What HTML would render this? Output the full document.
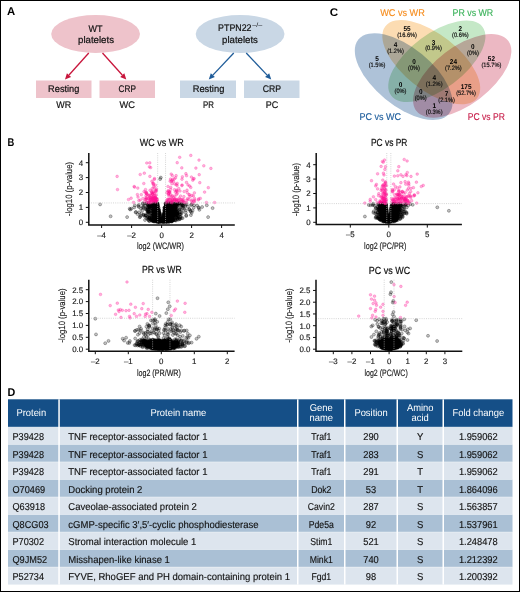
<!DOCTYPE html><html><head><meta charset="utf-8"><style>html,body{margin:0;padding:0;background:#fff;}svg{display:block;will-change:transform;text-rendering:geometricPrecision;} .bk circle{r:1.5px;fill:#000;fill-opacity:.24;stroke:#000;stroke-opacity:.5;stroke-width:.55px} .pk circle{r:1.35px;fill:#ff1493;fill-opacity:.32;stroke:#ff1493;stroke-opacity:.4;stroke-width:.6px} .th{stroke:#bdbdbd;stroke-opacity:.8;stroke-width:.8;stroke-dasharray:1 1.2}</style></head><body><svg width="520" height="592" viewBox="0 0 520 592" font-family='"Liberation Sans", sans-serif'>
<rect x="0" y="0" width="520" height="592" fill="#fff"/>
<ellipse cx="95.6" cy="34" rx="44.4" ry="19" fill="#eec3cb"/>
<ellipse cx="240.1" cy="34" rx="44.4" ry="19" fill="#c9d7e5"/>
<text x="95.5" y="31.5" font-size="9.6" text-anchor="middle" fill="#111" textLength="14" lengthAdjust="spacingAndGlyphs" stroke="#111" stroke-width="0.2">WT</text>
<text x="96" y="43.2" font-size="9.6" text-anchor="middle" fill="#111" textLength="36" lengthAdjust="spacingAndGlyphs" stroke="#111" stroke-width="0.2">platelets</text>
<text x="234.8" y="31.3" font-size="9.6" text-anchor="middle" fill="#111" textLength="33.4" lengthAdjust="spacingAndGlyphs" stroke="#111" stroke-width="0.2">PTPN22</text>
<text x="257.2" y="27.0" font-size="6.2" text-anchor="middle" fill="#111" textLength="10" lengthAdjust="spacingAndGlyphs">–/–</text>
<text x="240" y="43.3" font-size="9.6" text-anchor="middle" fill="#111" textLength="35.8" lengthAdjust="spacingAndGlyphs" stroke="#111" stroke-width="0.2">platelets</text>
<line x1="88.75" y1="53" x2="69.00" y2="75.03" stroke="#c8163c" stroke-width="1.3"/>
<polygon points="65,79.5 66.92,73.16 71.09,76.90" fill="#c8163c"/>
<line x1="102.5" y1="53" x2="122.25" y2="75.03" stroke="#c8163c" stroke-width="1.3"/>
<polygon points="126.25,79.5 120.16,76.90 124.33,73.16" fill="#c8163c"/>
<line x1="233.75" y1="53" x2="212.87" y2="75.14" stroke="#1f5c99" stroke-width="1.3"/>
<polygon points="208.75,79.5 210.83,73.21 214.90,77.06" fill="#1f5c99"/>
<line x1="246.25" y1="53" x2="267.13" y2="75.14" stroke="#1f5c99" stroke-width="1.3"/>
<polygon points="271.25,79.5 265.10,77.06 269.17,73.21" fill="#1f5c99"/>
<rect x="36" y="80.5" width="55.5" height="17.5" fill="#eec3cb"/>
<rect x="99.5" y="80.5" width="55.5" height="17.5" fill="#eec3cb"/>
<rect x="180" y="80.5" width="56" height="17.5" fill="#c9d7e5"/>
<rect x="244" y="80.5" width="55.5" height="17.5" fill="#c9d7e5"/>
<text x="63.75" y="92.4" font-size="9.6" text-anchor="middle" fill="#111" textLength="31.3" lengthAdjust="spacingAndGlyphs" stroke="#111" stroke-width="0.2">Resting</text>
<text x="63.75" y="107.9" font-size="9.6" text-anchor="middle" fill="#111" textLength="14.9" lengthAdjust="spacingAndGlyphs" stroke="#111" stroke-width="0.2">WR</text>
<text x="127.2" y="92.4" font-size="9.6" text-anchor="middle" fill="#111" textLength="17.3" lengthAdjust="spacingAndGlyphs" stroke="#111" stroke-width="0.2">CRP</text>
<text x="127.2" y="107.9" font-size="9.6" text-anchor="middle" fill="#111" textLength="15.4" lengthAdjust="spacingAndGlyphs" stroke="#111" stroke-width="0.2">WC</text>
<text x="208.5" y="92.4" font-size="9.6" text-anchor="middle" fill="#111" textLength="31.7" lengthAdjust="spacingAndGlyphs" stroke="#111" stroke-width="0.2">Resting</text>
<text x="208.5" y="107.9" font-size="9.6" text-anchor="middle" fill="#111" textLength="10.9" lengthAdjust="spacingAndGlyphs" stroke="#111" stroke-width="0.2">PR</text>
<text x="272" y="92.4" font-size="9.6" text-anchor="middle" fill="#111" textLength="18.3" lengthAdjust="spacingAndGlyphs" stroke="#111" stroke-width="0.2">CRP</text>
<text x="272" y="107.9" font-size="9.6" text-anchor="middle" fill="#111" textLength="12.5" lengthAdjust="spacingAndGlyphs" stroke="#111" stroke-width="0.2">PC</text>
<g style="isolation:isolate">
<ellipse cx="0" cy="0" rx="58.54" ry="28.98" transform="translate(403.66,76.6) rotate(39.34)" fill="#aec2d8" style="mix-blend-mode:multiply"/>
<ellipse cx="0" cy="0" rx="57.8" ry="28.68" transform="translate(462.23,75.83) rotate(-37.29)" fill="#ecb8c3" style="mix-blend-mode:multiply"/>
<ellipse cx="0" cy="0" rx="58.3" ry="27.8" transform="translate(431.27,62.2) rotate(38.15)" fill="#fcdcb2" style="mix-blend-mode:multiply"/>
<ellipse cx="0" cy="0" rx="57.2" ry="27.44" transform="translate(436.84,61.26) rotate(-36.92)" fill="#c5e8c7" style="mix-blend-mode:multiply"/>
</g>
<text x="402.5" y="15.6" font-size="9.8" text-anchor="middle" fill="#f68d1e" textLength="44.6" lengthAdjust="spacingAndGlyphs" stroke="#f68d1e" stroke-width="0.15">WC vs WR</text>
<text x="472.9" y="15.6" font-size="9.8" text-anchor="middle" fill="#3db35c" textLength="40.7" lengthAdjust="spacingAndGlyphs" stroke="#3db35c" stroke-width="0.15">PR vs WR</text>
<text x="380.2" y="119.6" font-size="9.8" text-anchor="middle" fill="#22609e" textLength="41.5" lengthAdjust="spacingAndGlyphs" stroke="#22609e" stroke-width="0.15">PC vs WC</text>
<text x="486.3" y="119.8" font-size="9.8" text-anchor="middle" fill="#c81e4a" textLength="37.1" lengthAdjust="spacingAndGlyphs" stroke="#c81e4a" stroke-width="0.15">PC vs PR</text>
<text x="407.1" y="30.8" font-size="7.0" text-anchor="middle" font-weight="bold" fill="#000" textLength="7.16" lengthAdjust="spacingAndGlyphs">55</text>
<text x="407.1" y="36.7" font-size="6.3" text-anchor="middle" fill="#111" textLength="19.85" lengthAdjust="spacingAndGlyphs" stroke="#111" stroke-width="0.18">(16.6%)</text>
<text x="460.4" y="31.1" font-size="7.0" text-anchor="middle" font-weight="bold" fill="#000" textLength="3.58" lengthAdjust="spacingAndGlyphs">2</text>
<text x="460.4" y="37.0" font-size="6.3" text-anchor="middle" fill="#111" textLength="16.7" lengthAdjust="spacingAndGlyphs" stroke="#111" stroke-width="0.18">(0.6%)</text>
<text x="395.5" y="47.2" font-size="7.0" text-anchor="middle" font-weight="bold" fill="#000" textLength="3.58" lengthAdjust="spacingAndGlyphs">4</text>
<text x="395.5" y="53.1" font-size="6.3" text-anchor="middle" fill="#111" textLength="16.7" lengthAdjust="spacingAndGlyphs" stroke="#111" stroke-width="0.18">(1.2%)</text>
<text x="433.5" y="44.5" font-size="7.0" text-anchor="middle" font-weight="bold" fill="#000" textLength="3.58" lengthAdjust="spacingAndGlyphs">3</text>
<text x="433.5" y="50.4" font-size="6.3" text-anchor="middle" fill="#111" textLength="16.7" lengthAdjust="spacingAndGlyphs" stroke="#111" stroke-width="0.18">(0.9%)</text>
<text x="472.9" y="48.6" font-size="7.0" text-anchor="middle" font-weight="bold" fill="#000" textLength="3.58" lengthAdjust="spacingAndGlyphs">0</text>
<text x="472.9" y="54.5" font-size="6.3" text-anchor="middle" fill="#111" textLength="11.97" lengthAdjust="spacingAndGlyphs" stroke="#111" stroke-width="0.18">(0%)</text>
<text x="377" y="60.7" font-size="7.0" text-anchor="middle" font-weight="bold" fill="#000" textLength="3.58" lengthAdjust="spacingAndGlyphs">5</text>
<text x="377" y="66.6" font-size="6.3" text-anchor="middle" fill="#111" textLength="16.7" lengthAdjust="spacingAndGlyphs" stroke="#111" stroke-width="0.18">(1.5%)</text>
<text x="414" y="64.0" font-size="7.0" text-anchor="middle" font-weight="bold" fill="#000" textLength="3.58" lengthAdjust="spacingAndGlyphs">0</text>
<text x="414" y="69.9" font-size="6.3" text-anchor="middle" fill="#111" textLength="11.97" lengthAdjust="spacingAndGlyphs" stroke="#111" stroke-width="0.18">(0%)</text>
<text x="453.4" y="63.7" font-size="7.0" text-anchor="middle" font-weight="bold" fill="#000" textLength="7.16" lengthAdjust="spacingAndGlyphs">24</text>
<text x="453.4" y="69.6" font-size="6.3" text-anchor="middle" fill="#111" textLength="16.7" lengthAdjust="spacingAndGlyphs" stroke="#111" stroke-width="0.18">(7.2%)</text>
<text x="491.4" y="61.4" font-size="7.0" text-anchor="middle" font-weight="bold" fill="#000" textLength="7.16" lengthAdjust="spacingAndGlyphs">52</text>
<text x="491.4" y="67.3" font-size="6.3" text-anchor="middle" fill="#111" textLength="19.85" lengthAdjust="spacingAndGlyphs" stroke="#111" stroke-width="0.18">(15.7%)</text>
<text x="434.2" y="79.9" font-size="7.0" text-anchor="middle" font-weight="bold" fill="#000" textLength="3.58" lengthAdjust="spacingAndGlyphs">4</text>
<text x="434.2" y="85.8" font-size="6.3" text-anchor="middle" fill="#111" textLength="16.7" lengthAdjust="spacingAndGlyphs" stroke="#111" stroke-width="0.18">(1.2%)</text>
<text x="400.5" y="86.6" font-size="7.0" text-anchor="middle" font-weight="bold" fill="#000" textLength="3.58" lengthAdjust="spacingAndGlyphs">0</text>
<text x="400.5" y="92.5" font-size="6.3" text-anchor="middle" fill="#111" textLength="11.97" lengthAdjust="spacingAndGlyphs" stroke="#111" stroke-width="0.18">(0%)</text>
<text x="466.1" y="89.1" font-size="7.0" text-anchor="middle" font-weight="bold" fill="#000" textLength="10.75" lengthAdjust="spacingAndGlyphs">175</text>
<text x="466.1" y="95.0" font-size="6.3" text-anchor="middle" fill="#111" textLength="19.85" lengthAdjust="spacingAndGlyphs" stroke="#111" stroke-width="0.18">(52.7%)</text>
<text x="420.7" y="94.3" font-size="7.0" text-anchor="middle" font-weight="bold" fill="#000" textLength="3.58" lengthAdjust="spacingAndGlyphs">0</text>
<text x="420.7" y="100.2" font-size="6.3" text-anchor="middle" fill="#111" textLength="11.97" lengthAdjust="spacingAndGlyphs" stroke="#111" stroke-width="0.18">(0%)</text>
<text x="446.6" y="95.7" font-size="7.0" text-anchor="middle" font-weight="bold" fill="#000" textLength="3.58" lengthAdjust="spacingAndGlyphs">7</text>
<text x="446.6" y="101.6" font-size="6.3" text-anchor="middle" fill="#111" textLength="16.7" lengthAdjust="spacingAndGlyphs" stroke="#111" stroke-width="0.18">(2.1%)</text>
<text x="434.2" y="107.8" font-size="7.0" text-anchor="middle" font-weight="bold" fill="#000" textLength="3.58" lengthAdjust="spacingAndGlyphs">1</text>
<text x="434.2" y="113.7" font-size="6.3" text-anchor="middle" fill="#111" textLength="16.7" lengthAdjust="spacingAndGlyphs" stroke="#111" stroke-width="0.18">(0.3%)</text>
<g class="bk">
<circle cx="168.4" cy="219.5" r="1.5"/>
<circle cx="155.5" cy="214.1" r="1.5"/>
<circle cx="157.7" cy="211.7" r="1.5"/>
<circle cx="162.9" cy="216.4" r="1.5"/>
<circle cx="172.3" cy="203.3" r="1.5"/>
<circle cx="148.8" cy="211.8" r="1.5"/>
<circle cx="179.1" cy="210.2" r="1.5"/>
<circle cx="147.8" cy="204.5" r="1.5"/>
<circle cx="165.8" cy="213.4" r="1.5"/>
<circle cx="166.5" cy="209.1" r="1.5"/>
<circle cx="156.1" cy="206.8" r="1.5"/>
<circle cx="168.9" cy="205.7" r="1.5"/>
<circle cx="154.1" cy="216.8" r="1.5"/>
<circle cx="156.1" cy="210.9" r="1.5"/>
<circle cx="169.0" cy="204.5" r="1.5"/>
<circle cx="163.2" cy="218.2" r="1.5"/>
<circle cx="155.6" cy="206.3" r="1.5"/>
<circle cx="155.7" cy="214.6" r="1.5"/>
<circle cx="163.7" cy="214.1" r="1.5"/>
<circle cx="159.4" cy="213.9" r="1.5"/>
<circle cx="164.8" cy="218.5" r="1.5"/>
<circle cx="149.8" cy="217.3" r="1.5"/>
<circle cx="165.5" cy="213.5" r="1.5"/>
<circle cx="151.3" cy="208.2" r="1.5"/>
<circle cx="166.7" cy="215.2" r="1.5"/>
<circle cx="171.9" cy="216.8" r="1.5"/>
<circle cx="165.8" cy="211.1" r="1.5"/>
<circle cx="155.9" cy="204.5" r="1.5"/>
<circle cx="173.6" cy="219.7" r="1.5"/>
<circle cx="165.8" cy="216.6" r="1.5"/>
<circle cx="158.7" cy="219.4" r="1.5"/>
<circle cx="156.0" cy="216.6" r="1.5"/>
<circle cx="155.5" cy="214.7" r="1.5"/>
<circle cx="171.3" cy="214.7" r="1.5"/>
<circle cx="166.8" cy="214.6" r="1.5"/>
<circle cx="157.1" cy="203.2" r="1.5"/>
<circle cx="157.6" cy="209.9" r="1.5"/>
<circle cx="175.4" cy="203.5" r="1.5"/>
<circle cx="171.3" cy="213.7" r="1.5"/>
<circle cx="165.7" cy="222.0" r="1.5"/>
<circle cx="185.3" cy="205.9" r="1.5"/>
<circle cx="156.3" cy="210.1" r="1.5"/>
<circle cx="163.0" cy="221.8" r="1.5"/>
<circle cx="169.5" cy="213.1" r="1.5"/>
<circle cx="174.9" cy="211.4" r="1.5"/>
<circle cx="166.1" cy="210.6" r="1.5"/>
<circle cx="148.0" cy="210.6" r="1.5"/>
<circle cx="167.2" cy="217.4" r="1.5"/>
<circle cx="177.0" cy="211.8" r="1.5"/>
<circle cx="158.2" cy="210.5" r="1.5"/>
<circle cx="166.3" cy="209.2" r="1.5"/>
<circle cx="159.4" cy="219.7" r="1.5"/>
<circle cx="165.9" cy="218.6" r="1.5"/>
<circle cx="171.0" cy="203.8" r="1.5"/>
<circle cx="158.9" cy="209.3" r="1.5"/>
<circle cx="158.8" cy="221.9" r="1.5"/>
<circle cx="168.0" cy="220.5" r="1.5"/>
<circle cx="174.8" cy="207.9" r="1.5"/>
<circle cx="164.3" cy="219.3" r="1.5"/>
<circle cx="163.6" cy="220.7" r="1.5"/>
<circle cx="165.5" cy="213.3" r="1.5"/>
<circle cx="158.6" cy="221.9" r="1.5"/>
<circle cx="157.4" cy="220.5" r="1.5"/>
<circle cx="157.9" cy="220.7" r="1.5"/>
<circle cx="145.0" cy="220.0" r="1.5"/>
<circle cx="167.6" cy="220.5" r="1.5"/>
<circle cx="155.5" cy="219.1" r="1.5"/>
<circle cx="167.2" cy="203.6" r="1.5"/>
<circle cx="155.7" cy="215.5" r="1.5"/>
<circle cx="156.3" cy="219.1" r="1.5"/>
<circle cx="168.1" cy="211.5" r="1.5"/>
<circle cx="164.2" cy="211.1" r="1.5"/>
<circle cx="155.8" cy="206.1" r="1.5"/>
<circle cx="168.3" cy="218.2" r="1.5"/>
<circle cx="173.1" cy="209.9" r="1.5"/>
<circle cx="169.1" cy="220.8" r="1.5"/>
<circle cx="170.2" cy="206.7" r="1.5"/>
<circle cx="165.9" cy="206.3" r="1.5"/>
<circle cx="157.3" cy="210.2" r="1.5"/>
<circle cx="174.8" cy="212.7" r="1.5"/>
<circle cx="170.7" cy="211.8" r="1.5"/>
<circle cx="165.7" cy="216.9" r="1.5"/>
<circle cx="168.9" cy="215.0" r="1.5"/>
<circle cx="155.9" cy="221.6" r="1.5"/>
<circle cx="157.8" cy="209.4" r="1.5"/>
<circle cx="169.9" cy="213.8" r="1.5"/>
<circle cx="171.7" cy="211.8" r="1.5"/>
<circle cx="179.1" cy="203.6" r="1.5"/>
<circle cx="152.6" cy="215.4" r="1.5"/>
<circle cx="166.1" cy="214.8" r="1.5"/>
<circle cx="163.1" cy="214.9" r="1.5"/>
<circle cx="157.7" cy="216.5" r="1.5"/>
<circle cx="156.4" cy="217.0" r="1.5"/>
<circle cx="172.9" cy="211.8" r="1.5"/>
<circle cx="178.0" cy="203.4" r="1.5"/>
<circle cx="169.4" cy="221.6" r="1.5"/>
<circle cx="169.9" cy="203.1" r="1.5"/>
<circle cx="153.5" cy="221.3" r="1.5"/>
<circle cx="154.5" cy="214.2" r="1.5"/>
<circle cx="155.5" cy="212.4" r="1.5"/>
<circle cx="164.2" cy="214.2" r="1.5"/>
<circle cx="166.6" cy="209.8" r="1.5"/>
<circle cx="151.6" cy="218.5" r="1.5"/>
<circle cx="163.1" cy="219.6" r="1.5"/>
<circle cx="157.6" cy="219.8" r="1.5"/>
<circle cx="154.0" cy="214.1" r="1.5"/>
<circle cx="154.2" cy="218.0" r="1.5"/>
<circle cx="164.6" cy="219.3" r="1.5"/>
<circle cx="155.6" cy="215.3" r="1.5"/>
<circle cx="159.7" cy="222.3" r="1.5"/>
<circle cx="168.1" cy="214.7" r="1.5"/>
<circle cx="176.7" cy="217.2" r="1.5"/>
<circle cx="149.7" cy="207.5" r="1.5"/>
<circle cx="156.8" cy="206.7" r="1.5"/>
<circle cx="157.4" cy="217.2" r="1.5"/>
<circle cx="166.5" cy="207.2" r="1.5"/>
<circle cx="165.8" cy="216.3" r="1.5"/>
<circle cx="182.7" cy="205.2" r="1.5"/>
<circle cx="172.1" cy="207.2" r="1.5"/>
<circle cx="153.6" cy="219.7" r="1.5"/>
<circle cx="159.8" cy="214.1" r="1.5"/>
<circle cx="166.2" cy="207.8" r="1.5"/>
<circle cx="163.5" cy="217.4" r="1.5"/>
<circle cx="171.5" cy="208.4" r="1.5"/>
<circle cx="167.1" cy="211.9" r="1.5"/>
<circle cx="152.8" cy="214.4" r="1.5"/>
<circle cx="172.2" cy="205.4" r="1.5"/>
<circle cx="168.3" cy="211.9" r="1.5"/>
<circle cx="170.4" cy="212.6" r="1.5"/>
<circle cx="174.8" cy="215.9" r="1.5"/>
<circle cx="156.4" cy="219.8" r="1.5"/>
<circle cx="173.8" cy="203.6" r="1.5"/>
<circle cx="157.8" cy="206.3" r="1.5"/>
<circle cx="148.9" cy="211.2" r="1.5"/>
<circle cx="167.8" cy="207.7" r="1.5"/>
<circle cx="165.4" cy="216.5" r="1.5"/>
<circle cx="153.4" cy="218.2" r="1.5"/>
<circle cx="167.9" cy="220.9" r="1.5"/>
<circle cx="172.4" cy="206.1" r="1.5"/>
<circle cx="169.0" cy="218.3" r="1.5"/>
<circle cx="166.0" cy="212.5" r="1.5"/>
<circle cx="149.5" cy="207.0" r="1.5"/>
<circle cx="164.9" cy="215.2" r="1.5"/>
<circle cx="155.7" cy="210.1" r="1.5"/>
<circle cx="149.4" cy="206.2" r="1.5"/>
<circle cx="169.5" cy="218.8" r="1.5"/>
<circle cx="155.9" cy="208.9" r="1.5"/>
<circle cx="170.3" cy="214.9" r="1.5"/>
<circle cx="151.6" cy="219.1" r="1.5"/>
<circle cx="172.0" cy="209.7" r="1.5"/>
<circle cx="168.7" cy="204.8" r="1.5"/>
<circle cx="161.4" cy="221.6" r="1.5"/>
<circle cx="165.8" cy="205.7" r="1.5"/>
<circle cx="155.6" cy="218.4" r="1.5"/>
<circle cx="167.5" cy="206.1" r="1.5"/>
<circle cx="168.0" cy="212.0" r="1.5"/>
<circle cx="168.6" cy="206.5" r="1.5"/>
<circle cx="165.3" cy="211.1" r="1.5"/>
<circle cx="165.5" cy="212.1" r="1.5"/>
<circle cx="173.4" cy="217.8" r="1.5"/>
<circle cx="157.9" cy="218.4" r="1.5"/>
<circle cx="157.6" cy="204.2" r="1.5"/>
<circle cx="164.9" cy="207.3" r="1.5"/>
<circle cx="165.5" cy="203.8" r="1.5"/>
<circle cx="167.8" cy="215.4" r="1.5"/>
<circle cx="176.6" cy="209.9" r="1.5"/>
<circle cx="155.7" cy="216.8" r="1.5"/>
<circle cx="166.0" cy="208.6" r="1.5"/>
<circle cx="165.5" cy="215.7" r="1.5"/>
<circle cx="154.4" cy="220.7" r="1.5"/>
<circle cx="169.7" cy="221.6" r="1.5"/>
<circle cx="167.6" cy="205.5" r="1.5"/>
<circle cx="166.2" cy="206.9" r="1.5"/>
<circle cx="190.9" cy="215.1" r="1.5"/>
<circle cx="164.0" cy="219.0" r="1.5"/>
<circle cx="180.6" cy="205.5" r="1.5"/>
<circle cx="175.5" cy="205.6" r="1.5"/>
<circle cx="166.3" cy="207.7" r="1.5"/>
<circle cx="155.2" cy="206.3" r="1.5"/>
<circle cx="154.6" cy="215.7" r="1.5"/>
<circle cx="166.7" cy="220.2" r="1.5"/>
<circle cx="169.2" cy="210.3" r="1.5"/>
<circle cx="157.6" cy="205.4" r="1.5"/>
<circle cx="166.8" cy="204.4" r="1.5"/>
<circle cx="169.5" cy="217.7" r="1.5"/>
<circle cx="171.4" cy="204.4" r="1.5"/>
<circle cx="156.5" cy="214.8" r="1.5"/>
<circle cx="154.8" cy="215.6" r="1.5"/>
<circle cx="169.3" cy="206.7" r="1.5"/>
<circle cx="179.8" cy="214.1" r="1.5"/>
<circle cx="159.8" cy="220.2" r="1.5"/>
<circle cx="156.6" cy="221.1" r="1.5"/>
<circle cx="151.2" cy="206.1" r="1.5"/>
<circle cx="174.7" cy="210.9" r="1.5"/>
<circle cx="152.5" cy="212.9" r="1.5"/>
<circle cx="171.3" cy="207.9" r="1.5"/>
<circle cx="183.1" cy="208.1" r="1.5"/>
<circle cx="164.4" cy="219.7" r="1.5"/>
<circle cx="158.0" cy="218.1" r="1.5"/>
<circle cx="164.7" cy="218.8" r="1.5"/>
<circle cx="164.2" cy="220.2" r="1.5"/>
<circle cx="165.9" cy="205.8" r="1.5"/>
<circle cx="169.5" cy="209.7" r="1.5"/>
<circle cx="171.8" cy="215.2" r="1.5"/>
<circle cx="167.8" cy="221.4" r="1.5"/>
<circle cx="171.1" cy="215.9" r="1.5"/>
<circle cx="179.5" cy="209.0" r="1.5"/>
<circle cx="168.8" cy="205.6" r="1.5"/>
<circle cx="174.4" cy="211.1" r="1.5"/>
<circle cx="158.4" cy="213.2" r="1.5"/>
<circle cx="158.9" cy="218.2" r="1.5"/>
<circle cx="158.1" cy="209.5" r="1.5"/>
<circle cx="152.8" cy="204.2" r="1.5"/>
<circle cx="156.0" cy="209.1" r="1.5"/>
<circle cx="172.8" cy="214.4" r="1.5"/>
<circle cx="172.1" cy="218.5" r="1.5"/>
<circle cx="180.0" cy="212.2" r="1.5"/>
<circle cx="159.2" cy="220.0" r="1.5"/>
<circle cx="167.6" cy="213.0" r="1.5"/>
<circle cx="166.5" cy="221.2" r="1.5"/>
<circle cx="170.7" cy="210.4" r="1.5"/>
<circle cx="174.7" cy="219.8" r="1.5"/>
<circle cx="173.0" cy="210.8" r="1.5"/>
<circle cx="153.5" cy="205.1" r="1.5"/>
<circle cx="153.4" cy="209.4" r="1.5"/>
<circle cx="152.8" cy="210.7" r="1.5"/>
<circle cx="156.7" cy="212.3" r="1.5"/>
<circle cx="174.0" cy="209.9" r="1.5"/>
<circle cx="167.6" cy="218.1" r="1.5"/>
<circle cx="156.2" cy="203.9" r="1.5"/>
<circle cx="169.2" cy="204.5" r="1.5"/>
<circle cx="179.0" cy="203.2" r="1.5"/>
<circle cx="158.3" cy="221.1" r="1.5"/>
<circle cx="155.5" cy="213.7" r="1.5"/>
<circle cx="166.3" cy="216.4" r="1.5"/>
<circle cx="171.4" cy="217.4" r="1.5"/>
<circle cx="159.9" cy="216.7" r="1.5"/>
<circle cx="166.8" cy="215.3" r="1.5"/>
<circle cx="168.8" cy="211.3" r="1.5"/>
<circle cx="156.5" cy="203.6" r="1.5"/>
<circle cx="159.8" cy="213.3" r="1.5"/>
<circle cx="163.6" cy="217.8" r="1.5"/>
<circle cx="146.8" cy="209.2" r="1.5"/>
<circle cx="159.2" cy="214.5" r="1.5"/>
<circle cx="164.4" cy="210.3" r="1.5"/>
<circle cx="168.5" cy="207.7" r="1.5"/>
<circle cx="182.8" cy="205.9" r="1.5"/>
<circle cx="171.8" cy="205.0" r="1.5"/>
<circle cx="169.0" cy="216.2" r="1.5"/>
<circle cx="177.5" cy="212.9" r="1.5"/>
<circle cx="154.5" cy="203.3" r="1.5"/>
<circle cx="157.2" cy="214.2" r="1.5"/>
<circle cx="169.1" cy="203.8" r="1.5"/>
<circle cx="157.7" cy="206.2" r="1.5"/>
<circle cx="159.9" cy="218.7" r="1.5"/>
<circle cx="173.2" cy="218.5" r="1.5"/>
<circle cx="158.6" cy="209.6" r="1.5"/>
<circle cx="160.9" cy="220.0" r="1.5"/>
<circle cx="165.9" cy="217.8" r="1.5"/>
<circle cx="155.2" cy="218.3" r="1.5"/>
<circle cx="169.8" cy="206.8" r="1.5"/>
<circle cx="156.1" cy="213.0" r="1.5"/>
<circle cx="169.0" cy="205.2" r="1.5"/>
<circle cx="151.4" cy="209.0" r="1.5"/>
<circle cx="160.3" cy="217.9" r="1.5"/>
<circle cx="158.1" cy="217.8" r="1.5"/>
<circle cx="158.4" cy="215.1" r="1.5"/>
<circle cx="166.9" cy="209.0" r="1.5"/>
<circle cx="150.9" cy="210.6" r="1.5"/>
<circle cx="149.5" cy="204.4" r="1.5"/>
<circle cx="155.9" cy="207.5" r="1.5"/>
<circle cx="159.9" cy="217.2" r="1.5"/>
<circle cx="167.7" cy="218.4" r="1.5"/>
<circle cx="174.1" cy="214.2" r="1.5"/>
<circle cx="155.8" cy="214.4" r="1.5"/>
<circle cx="147.7" cy="218.2" r="1.5"/>
<circle cx="152.8" cy="205.1" r="1.5"/>
<circle cx="158.6" cy="207.6" r="1.5"/>
<circle cx="157.9" cy="214.2" r="1.5"/>
<circle cx="155.5" cy="219.6" r="1.5"/>
<circle cx="164.5" cy="215.0" r="1.5"/>
<circle cx="162.3" cy="221.3" r="1.5"/>
<circle cx="168.7" cy="221.9" r="1.5"/>
<circle cx="163.0" cy="221.0" r="1.5"/>
<circle cx="157.0" cy="205.3" r="1.5"/>
<circle cx="150.0" cy="215.8" r="1.5"/>
<circle cx="176.2" cy="208.7" r="1.5"/>
<circle cx="167.9" cy="210.4" r="1.5"/>
<circle cx="168.1" cy="211.1" r="1.5"/>
<circle cx="172.0" cy="205.8" r="1.5"/>
<circle cx="175.3" cy="205.8" r="1.5"/>
<circle cx="158.4" cy="213.9" r="1.5"/>
<circle cx="168.6" cy="207.4" r="1.5"/>
<circle cx="149.2" cy="217.7" r="1.5"/>
<circle cx="157.7" cy="222.0" r="1.5"/>
<circle cx="157.2" cy="217.9" r="1.5"/>
<circle cx="171.7" cy="215.7" r="1.5"/>
<circle cx="154.5" cy="204.9" r="1.5"/>
<circle cx="158.2" cy="221.9" r="1.5"/>
<circle cx="158.5" cy="211.8" r="1.5"/>
<circle cx="153.5" cy="209.8" r="1.5"/>
<circle cx="149.0" cy="220.9" r="1.5"/>
<circle cx="163.7" cy="219.4" r="1.5"/>
<circle cx="173.7" cy="215.9" r="1.5"/>
<circle cx="166.0" cy="209.0" r="1.5"/>
<circle cx="145.4" cy="208.7" r="1.5"/>
<circle cx="159.2" cy="213.2" r="1.5"/>
<circle cx="167.7" cy="216.2" r="1.5"/>
<circle cx="150.5" cy="219.1" r="1.5"/>
<circle cx="157.2" cy="221.9" r="1.5"/>
<circle cx="162.2" cy="221.8" r="1.5"/>
<circle cx="163.0" cy="215.8" r="1.5"/>
<circle cx="166.6" cy="216.1" r="1.5"/>
<circle cx="171.8" cy="207.8" r="1.5"/>
<circle cx="159.2" cy="219.2" r="1.5"/>
<circle cx="167.3" cy="215.4" r="1.5"/>
<circle cx="156.5" cy="205.2" r="1.5"/>
<circle cx="154.1" cy="203.0" r="1.5"/>
<circle cx="170.8" cy="207.7" r="1.5"/>
<circle cx="174.9" cy="205.0" r="1.5"/>
<circle cx="167.5" cy="219.4" r="1.5"/>
<circle cx="170.4" cy="218.1" r="1.5"/>
<circle cx="173.6" cy="203.7" r="1.5"/>
<circle cx="156.5" cy="205.4" r="1.5"/>
<circle cx="168.1" cy="219.0" r="1.5"/>
<circle cx="168.3" cy="211.0" r="1.5"/>
<circle cx="166.6" cy="211.6" r="1.5"/>
<circle cx="164.2" cy="218.0" r="1.5"/>
<circle cx="151.9" cy="205.4" r="1.5"/>
<circle cx="171.9" cy="211.6" r="1.5"/>
<circle cx="159.5" cy="219.1" r="1.5"/>
<circle cx="158.4" cy="217.9" r="1.5"/>
<circle cx="172.0" cy="220.0" r="1.5"/>
<circle cx="169.8" cy="203.5" r="1.5"/>
<circle cx="158.2" cy="207.5" r="1.5"/>
<circle cx="167.7" cy="210.7" r="1.5"/>
<circle cx="158.5" cy="220.7" r="1.5"/>
<circle cx="165.1" cy="212.4" r="1.5"/>
<circle cx="171.6" cy="220.3" r="1.5"/>
<circle cx="165.9" cy="220.6" r="1.5"/>
<circle cx="171.2" cy="220.7" r="1.5"/>
<circle cx="165.9" cy="211.4" r="1.5"/>
<circle cx="167.1" cy="208.0" r="1.5"/>
<circle cx="156.7" cy="207.4" r="1.5"/>
<circle cx="168.8" cy="205.3" r="1.5"/>
<circle cx="173.1" cy="212.9" r="1.5"/>
<circle cx="152.6" cy="221.0" r="1.5"/>
<circle cx="153.9" cy="215.7" r="1.5"/>
<circle cx="156.4" cy="208.6" r="1.5"/>
<circle cx="169.6" cy="212.6" r="1.5"/>
<circle cx="174.1" cy="212.0" r="1.5"/>
<circle cx="156.9" cy="209.6" r="1.5"/>
<circle cx="183.5" cy="205.8" r="1.5"/>
<circle cx="172.2" cy="221.2" r="1.5"/>
<circle cx="187.9" cy="206.8" r="1.5"/>
<circle cx="172.3" cy="217.6" r="1.5"/>
<circle cx="163.8" cy="221.6" r="1.5"/>
<circle cx="165.1" cy="215.9" r="1.5"/>
<circle cx="157.6" cy="205.3" r="1.5"/>
<circle cx="166.0" cy="220.4" r="1.5"/>
<circle cx="167.8" cy="206.1" r="1.5"/>
<circle cx="172.6" cy="219.7" r="1.5"/>
<circle cx="154.1" cy="209.8" r="1.5"/>
<circle cx="176.4" cy="217.3" r="1.5"/>
<circle cx="157.2" cy="218.6" r="1.5"/>
<circle cx="153.6" cy="220.3" r="1.5"/>
<circle cx="158.0" cy="213.1" r="1.5"/>
<circle cx="156.8" cy="217.5" r="1.5"/>
<circle cx="179.5" cy="209.2" r="1.5"/>
<circle cx="155.9" cy="204.7" r="1.5"/>
<circle cx="159.9" cy="220.0" r="1.5"/>
<circle cx="155.9" cy="205.3" r="1.5"/>
<circle cx="175.0" cy="208.4" r="1.5"/>
<circle cx="161.9" cy="221.4" r="1.5"/>
<circle cx="151.1" cy="213.5" r="1.5"/>
<circle cx="163.5" cy="219.9" r="1.5"/>
<circle cx="167.8" cy="204.7" r="1.5"/>
<circle cx="168.4" cy="221.3" r="1.5"/>
<circle cx="152.1" cy="210.9" r="1.5"/>
<circle cx="155.9" cy="219.1" r="1.5"/>
<circle cx="155.6" cy="211.9" r="1.5"/>
<circle cx="172.1" cy="220.7" r="1.5"/>
<circle cx="172.7" cy="210.7" r="1.5"/>
<circle cx="159.9" cy="215.6" r="1.5"/>
<circle cx="153.5" cy="212.4" r="1.5"/>
<circle cx="167.5" cy="209.0" r="1.5"/>
<circle cx="165.0" cy="209.2" r="1.5"/>
<circle cx="174.3" cy="204.2" r="1.5"/>
<circle cx="153.6" cy="216.8" r="1.5"/>
<circle cx="154.0" cy="214.5" r="1.5"/>
<circle cx="167.0" cy="208.3" r="1.5"/>
<circle cx="172.4" cy="204.4" r="1.5"/>
<circle cx="156.7" cy="209.1" r="1.5"/>
<circle cx="172.7" cy="215.8" r="1.5"/>
<circle cx="166.0" cy="219.0" r="1.5"/>
<circle cx="158.0" cy="220.0" r="1.5"/>
<circle cx="163.7" cy="213.6" r="1.5"/>
<circle cx="173.3" cy="219.4" r="1.5"/>
<circle cx="170.6" cy="218.1" r="1.5"/>
<circle cx="173.1" cy="205.1" r="1.5"/>
<circle cx="165.7" cy="221.3" r="1.5"/>
<circle cx="171.9" cy="213.4" r="1.5"/>
<circle cx="172.7" cy="206.0" r="1.5"/>
<circle cx="156.8" cy="210.1" r="1.5"/>
<circle cx="159.3" cy="214.2" r="1.5"/>
<circle cx="164.6" cy="212.4" r="1.5"/>
<circle cx="181.8" cy="205.2" r="1.5"/>
<circle cx="158.4" cy="216.1" r="1.5"/>
<circle cx="147.2" cy="204.5" r="1.5"/>
<circle cx="153.2" cy="206.6" r="1.5"/>
<circle cx="166.1" cy="216.0" r="1.5"/>
<circle cx="171.5" cy="220.8" r="1.5"/>
<circle cx="164.6" cy="207.3" r="1.5"/>
<circle cx="171.2" cy="209.0" r="1.5"/>
<circle cx="158.6" cy="213.9" r="1.5"/>
<circle cx="170.0" cy="216.5" r="1.5"/>
<circle cx="152.4" cy="215.9" r="1.5"/>
<circle cx="175.4" cy="211.8" r="1.5"/>
<circle cx="172.1" cy="213.4" r="1.5"/>
<circle cx="165.4" cy="221.8" r="1.5"/>
<circle cx="164.7" cy="217.1" r="1.5"/>
<circle cx="170.8" cy="216.1" r="1.5"/>
<circle cx="165.1" cy="219.2" r="1.5"/>
<circle cx="154.7" cy="221.6" r="1.5"/>
<circle cx="166.3" cy="217.7" r="1.5"/>
<circle cx="148.1" cy="212.7" r="1.5"/>
<circle cx="170.1" cy="210.6" r="1.5"/>
<circle cx="164.9" cy="212.8" r="1.5"/>
<circle cx="154.9" cy="209.0" r="1.5"/>
<circle cx="178.7" cy="203.3" r="1.5"/>
<circle cx="175.4" cy="210.5" r="1.5"/>
<circle cx="155.2" cy="206.4" r="1.5"/>
<circle cx="149.0" cy="207.1" r="1.5"/>
<circle cx="177.2" cy="215.0" r="1.5"/>
<circle cx="171.9" cy="203.6" r="1.5"/>
<circle cx="157.0" cy="211.2" r="1.5"/>
<circle cx="157.5" cy="219.8" r="1.5"/>
<circle cx="157.3" cy="219.6" r="1.5"/>
<circle cx="172.2" cy="211.5" r="1.5"/>
<circle cx="170.8" cy="213.9" r="1.5"/>
<circle cx="171.5" cy="221.5" r="1.5"/>
<circle cx="156.3" cy="218.8" r="1.5"/>
<circle cx="149.2" cy="206.6" r="1.5"/>
<circle cx="167.6" cy="214.6" r="1.5"/>
<circle cx="161.3" cy="221.5" r="1.5"/>
<circle cx="167.7" cy="203.8" r="1.5"/>
<circle cx="170.8" cy="212.9" r="1.5"/>
<circle cx="155.7" cy="214.1" r="1.5"/>
<circle cx="147.4" cy="212.4" r="1.5"/>
<circle cx="172.6" cy="209.7" r="1.5"/>
<circle cx="173.9" cy="212.6" r="1.5"/>
<circle cx="171.6" cy="203.1" r="1.5"/>
<circle cx="152.0" cy="215.9" r="1.5"/>
<circle cx="173.0" cy="206.9" r="1.5"/>
<circle cx="157.7" cy="221.8" r="1.5"/>
<circle cx="158.2" cy="216.6" r="1.5"/>
<circle cx="166.4" cy="203.5" r="1.5"/>
<circle cx="167.7" cy="221.5" r="1.5"/>
<circle cx="154.3" cy="204.1" r="1.5"/>
<circle cx="179.0" cy="217.5" r="1.5"/>
<circle cx="172.7" cy="215.4" r="1.5"/>
<circle cx="166.1" cy="208.2" r="1.5"/>
<circle cx="156.0" cy="206.8" r="1.5"/>
<circle cx="171.0" cy="215.4" r="1.5"/>
<circle cx="151.8" cy="220.7" r="1.5"/>
<circle cx="159.4" cy="212.9" r="1.5"/>
<circle cx="171.7" cy="218.8" r="1.5"/>
<circle cx="149.1" cy="211.7" r="1.5"/>
<circle cx="159.6" cy="212.8" r="1.5"/>
<circle cx="167.4" cy="215.3" r="1.5"/>
<circle cx="167.7" cy="214.7" r="1.5"/>
<circle cx="172.0" cy="214.7" r="1.5"/>
<circle cx="170.3" cy="204.0" r="1.5"/>
<circle cx="167.4" cy="215.0" r="1.5"/>
<circle cx="155.6" cy="204.5" r="1.5"/>
<circle cx="167.0" cy="205.9" r="1.5"/>
<circle cx="153.1" cy="210.3" r="1.5"/>
<circle cx="155.4" cy="212.8" r="1.5"/>
<circle cx="166.6" cy="219.0" r="1.5"/>
<circle cx="163.2" cy="216.9" r="1.5"/>
<circle cx="156.2" cy="210.1" r="1.5"/>
<circle cx="162.8" cy="220.9" r="1.5"/>
<circle cx="154.6" cy="217.6" r="1.5"/>
<circle cx="154.5" cy="206.6" r="1.5"/>
<circle cx="154.8" cy="219.7" r="1.5"/>
<circle cx="169.1" cy="210.6" r="1.5"/>
<circle cx="167.3" cy="207.1" r="1.5"/>
<circle cx="166.1" cy="221.8" r="1.5"/>
<circle cx="175.2" cy="211.1" r="1.5"/>
<circle cx="166.5" cy="203.5" r="1.5"/>
<circle cx="172.7" cy="216.1" r="1.5"/>
<circle cx="152.1" cy="213.2" r="1.5"/>
<circle cx="152.9" cy="220.8" r="1.5"/>
<circle cx="172.8" cy="212.5" r="1.5"/>
<circle cx="166.0" cy="205.1" r="1.5"/>
<circle cx="160.2" cy="215.5" r="1.5"/>
<circle cx="162.8" cy="220.2" r="1.5"/>
<circle cx="166.7" cy="207.3" r="1.5"/>
<circle cx="163.4" cy="219.0" r="1.5"/>
<circle cx="155.9" cy="216.6" r="1.5"/>
<circle cx="153.1" cy="211.7" r="1.5"/>
<circle cx="163.2" cy="215.0" r="1.5"/>
<circle cx="153.3" cy="204.6" r="1.5"/>
<circle cx="155.1" cy="212.3" r="1.5"/>
<circle cx="157.5" cy="217.2" r="1.5"/>
<circle cx="164.9" cy="210.1" r="1.5"/>
<circle cx="156.2" cy="203.4" r="1.5"/>
<circle cx="163.0" cy="219.0" r="1.5"/>
<circle cx="171.9" cy="204.0" r="1.5"/>
<circle cx="176.7" cy="213.3" r="1.5"/>
<circle cx="177.0" cy="206.0" r="1.5"/>
<circle cx="165.5" cy="218.2" r="1.5"/>
<circle cx="168.7" cy="208.7" r="1.5"/>
<circle cx="163.6" cy="221.0" r="1.5"/>
<circle cx="166.5" cy="208.6" r="1.5"/>
<circle cx="159.4" cy="218.8" r="1.5"/>
<circle cx="164.2" cy="212.8" r="1.5"/>
<circle cx="171.9" cy="221.4" r="1.5"/>
<circle cx="166.2" cy="217.4" r="1.5"/>
<circle cx="154.2" cy="211.7" r="1.5"/>
<circle cx="148.9" cy="211.6" r="1.5"/>
<circle cx="163.6" cy="222.2" r="1.5"/>
<circle cx="166.3" cy="221.4" r="1.5"/>
<circle cx="169.8" cy="205.7" r="1.5"/>
<circle cx="177.9" cy="216.2" r="1.5"/>
<circle cx="172.9" cy="209.5" r="1.5"/>
<circle cx="166.4" cy="217.1" r="1.5"/>
<circle cx="170.5" cy="212.7" r="1.5"/>
<circle cx="154.5" cy="207.7" r="1.5"/>
<circle cx="156.5" cy="211.6" r="1.5"/>
<circle cx="148.0" cy="211.9" r="1.5"/>
<circle cx="152.8" cy="220.5" r="1.5"/>
<circle cx="156.4" cy="220.9" r="1.5"/>
<circle cx="177.6" cy="218.8" r="1.5"/>
<circle cx="157.9" cy="220.1" r="1.5"/>
<circle cx="153.5" cy="208.1" r="1.5"/>
<circle cx="162.7" cy="219.5" r="1.5"/>
<circle cx="169.8" cy="221.2" r="1.5"/>
<circle cx="160.6" cy="218.5" r="1.5"/>
<circle cx="168.8" cy="207.2" r="1.5"/>
<circle cx="150.2" cy="206.7" r="1.5"/>
<circle cx="170.2" cy="204.7" r="1.5"/>
<circle cx="156.5" cy="208.8" r="1.5"/>
<circle cx="167.6" cy="211.4" r="1.5"/>
<circle cx="163.1" cy="221.8" r="1.5"/>
<circle cx="160.5" cy="221.3" r="1.5"/>
<circle cx="168.1" cy="211.8" r="1.5"/>
<circle cx="156.4" cy="206.4" r="1.5"/>
<circle cx="154.7" cy="203.5" r="1.5"/>
<circle cx="165.2" cy="212.5" r="1.5"/>
<circle cx="155.9" cy="214.6" r="1.5"/>
<circle cx="149.1" cy="211.5" r="1.5"/>
<circle cx="156.9" cy="208.0" r="1.5"/>
<circle cx="160.4" cy="218.0" r="1.5"/>
<circle cx="164.6" cy="220.0" r="1.5"/>
<circle cx="177.1" cy="214.8" r="1.5"/>
<circle cx="169.4" cy="209.6" r="1.5"/>
<circle cx="166.4" cy="206.8" r="1.5"/>
<circle cx="153.9" cy="213.2" r="1.5"/>
<circle cx="168.2" cy="205.6" r="1.5"/>
<circle cx="148.6" cy="205.8" r="1.5"/>
<circle cx="163.9" cy="220.3" r="1.5"/>
<circle cx="184.3" cy="208.9" r="1.5"/>
<circle cx="149.3" cy="218.2" r="1.5"/>
<circle cx="175.2" cy="208.7" r="1.5"/>
<circle cx="154.9" cy="203.8" r="1.5"/>
<circle cx="159.2" cy="211.2" r="1.5"/>
<circle cx="154.4" cy="203.1" r="1.5"/>
<circle cx="145.0" cy="203.6" r="1.5"/>
<circle cx="161.2" cy="220.4" r="1.5"/>
<circle cx="164.6" cy="207.7" r="1.5"/>
<circle cx="169.2" cy="203.4" r="1.5"/>
<circle cx="154.1" cy="204.0" r="1.5"/>
<circle cx="169.2" cy="215.1" r="1.5"/>
<circle cx="155.2" cy="212.5" r="1.5"/>
<circle cx="169.1" cy="217.8" r="1.5"/>
<circle cx="166.4" cy="222.0" r="1.5"/>
<circle cx="157.1" cy="214.9" r="1.5"/>
<circle cx="164.3" cy="222.1" r="1.5"/>
<circle cx="176.6" cy="213.3" r="1.5"/>
<circle cx="164.9" cy="217.0" r="1.5"/>
<circle cx="171.1" cy="215.2" r="1.5"/>
<circle cx="178.0" cy="205.3" r="1.5"/>
<circle cx="155.5" cy="210.6" r="1.5"/>
<circle cx="151.4" cy="206.7" r="1.5"/>
<circle cx="168.2" cy="213.3" r="1.5"/>
<circle cx="157.3" cy="214.6" r="1.5"/>
<circle cx="170.9" cy="213.8" r="1.5"/>
<circle cx="167.7" cy="217.2" r="1.5"/>
<circle cx="169.2" cy="220.6" r="1.5"/>
<circle cx="168.5" cy="206.1" r="1.5"/>
<circle cx="175.6" cy="208.1" r="1.5"/>
<circle cx="164.5" cy="216.0" r="1.5"/>
<circle cx="161.1" cy="220.9" r="1.5"/>
<circle cx="164.6" cy="211.6" r="1.5"/>
<circle cx="163.5" cy="217.6" r="1.5"/>
<circle cx="165.9" cy="203.2" r="1.5"/>
<circle cx="159.3" cy="214.8" r="1.5"/>
<circle cx="169.7" cy="208.8" r="1.5"/>
<circle cx="167.7" cy="221.8" r="1.5"/>
<circle cx="145.7" cy="215.3" r="1.5"/>
<circle cx="180.2" cy="217.2" r="1.5"/>
<circle cx="164.5" cy="213.2" r="1.5"/>
<circle cx="193.7" cy="207.7" r="1.5"/>
<circle cx="173.2" cy="216.6" r="1.5"/>
<circle cx="138.9" cy="204.9" r="1.5"/>
<circle cx="157.5" cy="207.2" r="1.5"/>
<circle cx="191.7" cy="212.8" r="1.5"/>
<circle cx="185.7" cy="210.3" r="1.5"/>
<circle cx="149.7" cy="221.0" r="1.5"/>
<circle cx="176.4" cy="204.3" r="1.5"/>
<circle cx="174.8" cy="210.3" r="1.5"/>
<circle cx="172.5" cy="214.9" r="1.5"/>
<circle cx="156.7" cy="211.3" r="1.5"/>
<circle cx="146.2" cy="215.4" r="1.5"/>
<circle cx="170.4" cy="209.9" r="1.5"/>
<circle cx="181.5" cy="204.0" r="1.5"/>
<circle cx="167.7" cy="204.9" r="1.5"/>
<circle cx="177.6" cy="217.6" r="1.5"/>
<circle cx="154.9" cy="220.2" r="1.5"/>
<circle cx="173.0" cy="216.0" r="1.5"/>
<circle cx="147.3" cy="207.5" r="1.5"/>
<circle cx="157.2" cy="220.6" r="1.5"/>
<circle cx="154.9" cy="220.9" r="1.5"/>
<circle cx="167.7" cy="216.1" r="1.5"/>
<circle cx="144.1" cy="215.9" r="1.5"/>
<circle cx="174.5" cy="212.6" r="1.5"/>
<circle cx="177.5" cy="213.2" r="1.5"/>
<circle cx="155.9" cy="215.5" r="1.5"/>
<circle cx="176.9" cy="211.2" r="1.5"/>
<circle cx="165.2" cy="212.1" r="1.5"/>
<circle cx="160.3" cy="221.9" r="1.5"/>
<circle cx="170.0" cy="214.6" r="1.5"/>
<circle cx="164.7" cy="219.3" r="1.5"/>
<circle cx="165.9" cy="204.5" r="1.5"/>
<circle cx="177.3" cy="206.5" r="1.5"/>
<circle cx="152.8" cy="204.9" r="1.5"/>
<circle cx="149.5" cy="203.2" r="1.5"/>
<circle cx="199.4" cy="209.8" r="1.5"/>
<circle cx="176.5" cy="204.2" r="1.5"/>
<circle cx="178.1" cy="204.0" r="1.5"/>
<circle cx="182.7" cy="207.8" r="1.5"/>
<circle cx="176.7" cy="214.5" r="1.5"/>
<circle cx="165.9" cy="212.8" r="1.5"/>
<circle cx="169.7" cy="205.7" r="1.5"/>
<circle cx="164.5" cy="207.9" r="1.5"/>
<circle cx="151.2" cy="218.4" r="1.5"/>
<circle cx="177.0" cy="211.5" r="1.5"/>
<circle cx="145.1" cy="205.6" r="1.5"/>
<circle cx="181.6" cy="218.1" r="1.5"/>
<circle cx="162.6" cy="218.9" r="1.5"/>
<circle cx="141.0" cy="208.7" r="1.5"/>
<circle cx="154.7" cy="220.5" r="1.5"/>
<circle cx="163.5" cy="215.8" r="1.5"/>
<circle cx="156.2" cy="220.9" r="1.5"/>
<circle cx="158.6" cy="214.4" r="1.5"/>
<circle cx="162.8" cy="221.2" r="1.5"/>
<circle cx="166.2" cy="208.1" r="1.5"/>
<circle cx="129.7" cy="208.7" r="1.5"/>
<circle cx="202.1" cy="207.0" r="1.5"/>
<circle cx="157.6" cy="208.2" r="1.5"/>
<circle cx="171.7" cy="220.8" r="1.5"/>
<circle cx="157.0" cy="211.9" r="1.5"/>
<circle cx="140.5" cy="215.4" r="1.5"/>
<circle cx="161.2" cy="221.3" r="1.5"/>
<circle cx="143.5" cy="214.5" r="1.5"/>
<circle cx="176.2" cy="207.2" r="1.5"/>
<circle cx="177.4" cy="217.5" r="1.5"/>
<circle cx="181.8" cy="211.6" r="1.5"/>
<circle cx="139.1" cy="212.3" r="1.5"/>
<circle cx="175.4" cy="213.5" r="1.5"/>
<circle cx="172.2" cy="215.2" r="1.5"/>
<circle cx="149.8" cy="217.2" r="1.5"/>
<circle cx="185.7" cy="212.5" r="1.5"/>
<circle cx="148.6" cy="219.9" r="1.5"/>
<circle cx="153.6" cy="219.5" r="1.5"/>
<circle cx="172.0" cy="214.0" r="1.5"/>
<circle cx="143.4" cy="207.7" r="1.5"/>
<circle cx="168.2" cy="210.2" r="1.5"/>
<circle cx="146.9" cy="203.0" r="1.5"/>
<circle cx="155.7" cy="213.3" r="1.5"/>
<circle cx="180.2" cy="209.5" r="1.5"/>
<circle cx="138.9" cy="207.0" r="1.5"/>
<circle cx="177.5" cy="218.9" r="1.5"/>
<circle cx="153.7" cy="212.7" r="1.5"/>
<circle cx="191.0" cy="205.0" r="1.5"/>
<circle cx="170.8" cy="213.2" r="1.5"/>
<circle cx="154.3" cy="211.2" r="1.5"/>
<circle cx="176.6" cy="216.3" r="1.5"/>
<circle cx="154.7" cy="203.2" r="1.5"/>
<circle cx="166.4" cy="210.0" r="1.5"/>
<circle cx="154.1" cy="209.0" r="1.5"/>
<circle cx="178.8" cy="213.4" r="1.5"/>
<circle cx="130.2" cy="209.5" r="1.5"/>
<circle cx="135.6" cy="212.3" r="1.5"/>
<circle cx="176.2" cy="214.1" r="1.5"/>
<circle cx="168.4" cy="206.6" r="1.5"/>
<circle cx="156.9" cy="210.2" r="1.5"/>
<circle cx="170.7" cy="220.6" r="1.5"/>
<circle cx="159.1" cy="212.2" r="1.5"/>
<circle cx="186.2" cy="216.0" r="1.5"/>
<circle cx="170.1" cy="213.0" r="1.5"/>
<circle cx="171.6" cy="206.7" r="1.5"/>
<circle cx="173.5" cy="203.9" r="1.5"/>
<circle cx="158.2" cy="222.2" r="1.5"/>
<circle cx="152.9" cy="217.5" r="1.5"/>
<circle cx="150.2" cy="208.0" r="1.5"/>
<circle cx="160.3" cy="219.4" r="1.5"/>
<circle cx="154.4" cy="206.8" r="1.5"/>
<circle cx="134.8" cy="205.4" r="1.5"/>
<circle cx="179.7" cy="218.9" r="1.5"/>
<circle cx="175.5" cy="220.0" r="1.5"/>
<circle cx="171.2" cy="203.4" r="1.5"/>
<circle cx="174.9" cy="203.5" r="1.5"/>
<circle cx="173.5" cy="214.1" r="1.5"/>
<circle cx="176.8" cy="211.6" r="1.5"/>
<circle cx="156.4" cy="220.8" r="1.5"/>
<circle cx="173.6" cy="212.1" r="1.5"/>
<circle cx="171.9" cy="203.9" r="1.5"/>
<circle cx="142.4" cy="210.3" r="1.5"/>
<circle cx="180.3" cy="203.1" r="1.5"/>
<circle cx="175.9" cy="220.6" r="1.5"/>
<circle cx="154.4" cy="220.2" r="1.5"/>
<circle cx="154.0" cy="221.3" r="1.5"/>
<circle cx="182.6" cy="218.1" r="1.5"/>
<circle cx="173.0" cy="206.7" r="1.5"/>
<circle cx="153.3" cy="209.4" r="1.5"/>
<circle cx="174.0" cy="208.3" r="1.5"/>
<circle cx="180.3" cy="216.9" r="1.5"/>
<circle cx="182.0" cy="212.6" r="1.5"/>
<circle cx="148.6" cy="204.4" r="1.5"/>
<circle cx="164.7" cy="208.0" r="1.5"/>
<circle cx="163.0" cy="217.4" r="1.5"/>
<circle cx="167.0" cy="211.0" r="1.5"/>
<circle cx="179.9" cy="214.5" r="1.5"/>
<circle cx="153.4" cy="216.0" r="1.5"/>
<circle cx="154.9" cy="204.7" r="1.5"/>
<circle cx="174.8" cy="214.2" r="1.5"/>
<circle cx="140.1" cy="216.8" r="1.5"/>
<circle cx="136.0" cy="212.0" r="1.5"/>
<circle cx="153.2" cy="209.1" r="1.5"/>
<circle cx="147.8" cy="211.7" r="1.5"/>
<circle cx="152.3" cy="219.9" r="1.5"/>
<circle cx="166.5" cy="210.9" r="1.5"/>
<circle cx="166.8" cy="216.7" r="1.5"/>
<circle cx="148.4" cy="209.9" r="1.5"/>
<circle cx="154.0" cy="207.4" r="1.5"/>
<circle cx="173.9" cy="220.2" r="1.5"/>
<circle cx="150.2" cy="208.4" r="1.5"/>
<circle cx="153.7" cy="220.7" r="1.5"/>
<circle cx="155.7" cy="211.5" r="1.5"/>
<circle cx="172.6" cy="208.5" r="1.5"/>
<circle cx="152.0" cy="206.7" r="1.5"/>
<circle cx="137.6" cy="214.1" r="1.5"/>
<circle cx="139.8" cy="217.2" r="1.5"/>
<circle cx="167.5" cy="220.5" r="1.5"/>
<circle cx="161.0" cy="219.7" r="1.5"/>
<circle cx="165.6" cy="214.2" r="1.5"/>
<circle cx="176.1" cy="209.2" r="1.5"/>
<circle cx="143.8" cy="206.8" r="1.5"/>
<circle cx="157.5" cy="203.4" r="1.5"/>
<circle cx="164.1" cy="219.2" r="1.5"/>
<circle cx="142.4" cy="207.1" r="1.5"/>
<circle cx="172.0" cy="206.5" r="1.5"/>
<circle cx="153.7" cy="203.4" r="1.5"/>
<circle cx="157.8" cy="220.1" r="1.5"/>
<circle cx="159.6" cy="220.1" r="1.5"/>
<circle cx="206.8" cy="205.3" r="1.5"/>
<circle cx="177.2" cy="204.1" r="1.5"/>
<circle cx="166.1" cy="205.2" r="1.5"/>
<circle cx="145.9" cy="209.4" r="1.5"/>
<circle cx="156.9" cy="206.4" r="1.5"/>
<circle cx="155.9" cy="216.6" r="1.5"/>
<circle cx="176.2" cy="206.4" r="1.5"/>
<circle cx="162.8" cy="219.2" r="1.5"/>
<circle cx="147.4" cy="207.6" r="1.5"/>
<circle cx="157.0" cy="214.6" r="1.5"/>
<circle cx="153.7" cy="205.2" r="1.5"/>
<circle cx="182.4" cy="204.3" r="1.5"/>
<circle cx="131.4" cy="208.7" r="1.5"/>
<circle cx="174.1" cy="210.6" r="1.5"/>
<circle cx="164.8" cy="219.9" r="1.5"/>
<circle cx="172.3" cy="215.2" r="1.5"/>
<circle cx="154.6" cy="204.9" r="1.5"/>
<circle cx="150.6" cy="219.5" r="1.5"/>
<circle cx="150.6" cy="205.0" r="1.5"/>
<circle cx="153.3" cy="215.4" r="1.5"/>
<circle cx="138.3" cy="206.0" r="1.5"/>
<circle cx="169.4" cy="213.5" r="1.5"/>
<circle cx="156.6" cy="206.7" r="1.5"/>
<circle cx="145.3" cy="215.4" r="1.5"/>
<circle cx="171.7" cy="203.7" r="1.5"/>
<circle cx="174.0" cy="215.5" r="1.5"/>
<circle cx="154.7" cy="212.2" r="1.5"/>
<circle cx="169.8" cy="207.1" r="1.5"/>
<circle cx="175.2" cy="209.6" r="1.5"/>
<circle cx="175.0" cy="220.3" r="1.5"/>
<circle cx="141.4" cy="213.7" r="1.5"/>
<circle cx="155.2" cy="207.0" r="1.5"/>
<circle cx="152.4" cy="204.3" r="1.5"/>
<circle cx="165.9" cy="204.0" r="1.5"/>
<circle cx="155.7" cy="210.3" r="1.5"/>
<circle cx="153.9" cy="218.4" r="1.5"/>
<circle cx="165.5" cy="203.3" r="1.5"/>
<circle cx="168.0" cy="210.0" r="1.5"/>
<circle cx="152.0" cy="213.2" r="1.5"/>
<circle cx="167.0" cy="215.6" r="1.5"/>
<circle cx="190.6" cy="211.4" r="1.5"/>
<circle cx="157.9" cy="212.5" r="1.5"/>
<circle cx="157.0" cy="221.1" r="1.5"/>
<circle cx="172.4" cy="220.4" r="1.5"/>
<circle cx="181.0" cy="214.4" r="1.5"/>
<circle cx="153.2" cy="219.3" r="1.5"/>
<circle cx="178.0" cy="219.8" r="1.5"/>
<circle cx="156.4" cy="204.1" r="1.5"/>
<circle cx="159.1" cy="214.4" r="1.5"/>
<circle cx="149.5" cy="215.1" r="1.5"/>
<circle cx="179.8" cy="219.3" r="1.5"/>
<circle cx="159.0" cy="211.1" r="1.5"/>
<circle cx="151.8" cy="205.5" r="1.5"/>
<circle cx="164.2" cy="209.6" r="1.5"/>
<circle cx="189.3" cy="209.5" r="1.5"/>
<circle cx="134.2" cy="207.4" r="1.5"/>
<circle cx="197.1" cy="205.6" r="1.5"/>
<circle cx="165.0" cy="210.9" r="1.5"/>
<circle cx="175.3" cy="207.5" r="1.5"/>
<circle cx="176.8" cy="218.1" r="1.5"/>
<circle cx="176.3" cy="213.8" r="1.5"/>
<circle cx="149.0" cy="207.6" r="1.5"/>
<circle cx="162.8" cy="218.3" r="1.5"/>
<circle cx="169.3" cy="215.7" r="1.5"/>
<circle cx="189.5" cy="209.1" r="1.5"/>
<circle cx="159.0" cy="210.1" r="1.5"/>
<circle cx="148.3" cy="219.8" r="1.5"/>
<circle cx="186.6" cy="204.2" r="1.5"/>
<circle cx="172.7" cy="212.4" r="1.5"/>
<circle cx="143.0" cy="203.9" r="1.5"/>
<circle cx="194.1" cy="205.3" r="1.5"/>
<circle cx="147.5" cy="217.2" r="1.5"/>
<circle cx="160.9" cy="219.1" r="1.5"/>
<circle cx="147.4" cy="209.1" r="1.5"/>
<circle cx="185.4" cy="204.7" r="1.5"/>
<circle cx="171.2" cy="205.3" r="1.5"/>
<circle cx="173.3" cy="209.9" r="1.5"/>
<circle cx="153.7" cy="209.5" r="1.5"/>
<circle cx="157.4" cy="210.2" r="1.5"/>
<circle cx="155.8" cy="214.4" r="1.5"/>
<circle cx="148.8" cy="213.4" r="1.5"/>
<circle cx="166.3" cy="216.4" r="1.5"/>
<circle cx="155.7" cy="212.9" r="1.5"/>
<circle cx="157.3" cy="204.2" r="1.5"/>
<circle cx="166.0" cy="203.7" r="1.5"/>
<circle cx="186.3" cy="215.2" r="1.5"/>
<circle cx="177.2" cy="212.9" r="1.5"/>
<circle cx="157.2" cy="203.6" r="1.5"/>
<circle cx="169.2" cy="214.9" r="1.5"/>
<circle cx="166.6" cy="204.1" r="1.5"/>
<circle cx="167.8" cy="206.0" r="1.5"/>
<circle cx="164.4" cy="216.0" r="1.5"/>
<circle cx="179.9" cy="214.6" r="1.5"/>
<circle cx="175.2" cy="215.6" r="1.5"/>
<circle cx="169.4" cy="203.4" r="1.5"/>
<circle cx="149.3" cy="204.8" r="1.5"/>
<circle cx="171.6" cy="218.4" r="1.5"/>
<circle cx="146.4" cy="218.4" r="1.5"/>
<circle cx="191.6" cy="204.3" r="1.5"/>
<circle cx="154.2" cy="216.5" r="1.5"/>
<circle cx="190.6" cy="210.8" r="1.5"/>
<circle cx="176.8" cy="214.7" r="1.5"/>
<circle cx="149.4" cy="218.6" r="1.5"/>
<circle cx="145.9" cy="215.7" r="1.5"/>
<circle cx="153.4" cy="219.9" r="1.5"/>
<circle cx="173.7" cy="210.2" r="1.5"/>
<circle cx="181.5" cy="206.2" r="1.5"/>
<circle cx="198.9" cy="208.1" r="1.5"/>
<circle cx="182.6" cy="203.3" r="1.5"/>
<circle cx="172.9" cy="220.1" r="1.5"/>
<circle cx="157.6" cy="216.6" r="1.5"/>
<circle cx="167.7" cy="202.9" r="1.5"/>
<circle cx="169.1" cy="205.6" r="1.5"/>
<circle cx="179.9" cy="218.4" r="1.5"/>
<circle cx="173.9" cy="218.3" r="1.5"/>
<circle cx="192.6" cy="210.7" r="1.5"/>
<circle cx="157.9" cy="204.9" r="1.5"/>
<circle cx="176.1" cy="205.1" r="1.5"/>
<circle cx="148.4" cy="204.9" r="1.5"/>
<circle cx="198.6" cy="207.3" r="1.5"/>
<circle cx="153.7" cy="212.4" r="1.5"/>
<circle cx="170.9" cy="206.4" r="1.5"/>
<circle cx="143.5" cy="215.0" r="1.5"/>
<circle cx="147.2" cy="210.3" r="1.5"/>
<circle cx="155.8" cy="206.8" r="1.5"/>
<circle cx="173.0" cy="216.0" r="1.5"/>
<circle cx="142.8" cy="203.3" r="1.5"/>
<circle cx="153.4" cy="209.6" r="1.5"/>
<circle cx="156.8" cy="203.0" r="1.5"/>
<circle cx="151.0" cy="220.2" r="1.5"/>
<circle cx="169.3" cy="217.6" r="1.5"/>
<circle cx="148.4" cy="216.9" r="1.5"/>
<circle cx="156.3" cy="215.3" r="1.5"/>
<circle cx="100.1" cy="204.4" r="1.5"/>
<circle cx="110.6" cy="216.3" r="1.5"/>
<circle cx="127.1" cy="217.1" r="1.5"/>
<circle cx="208.1" cy="217.1" r="1.5"/>
<circle cx="212.6" cy="208.1" r="1.5"/>
<circle cx="160.8" cy="177.6" r="1.5"/>
<circle cx="160.1" cy="179.1" r="1.5"/>
</g>
<g class="pk">
<circle cx="152.9" cy="183.1" r="1.35"/>
<circle cx="155.4" cy="185.2" r="1.35"/>
<circle cx="155.8" cy="199.0" r="1.35"/>
<circle cx="148.1" cy="195.3" r="1.35"/>
<circle cx="157.1" cy="200.0" r="1.35"/>
<circle cx="156.2" cy="195.0" r="1.35"/>
<circle cx="152.5" cy="194.2" r="1.35"/>
<circle cx="153.3" cy="184.3" r="1.35"/>
<circle cx="155.1" cy="202.1" r="1.35"/>
<circle cx="153.3" cy="183.4" r="1.35"/>
<circle cx="150.2" cy="198.8" r="1.35"/>
<circle cx="152.3" cy="193.0" r="1.35"/>
<circle cx="149.9" cy="176.4" r="1.35"/>
<circle cx="150.9" cy="201.5" r="1.35"/>
<circle cx="156.7" cy="198.4" r="1.35"/>
<circle cx="153.3" cy="200.9" r="1.35"/>
<circle cx="155.3" cy="198.7" r="1.35"/>
<circle cx="154.0" cy="188.0" r="1.35"/>
<circle cx="150.7" cy="167.6" r="1.35"/>
<circle cx="153.3" cy="198.3" r="1.35"/>
<circle cx="151.5" cy="200.2" r="1.35"/>
<circle cx="152.4" cy="194.1" r="1.35"/>
<circle cx="153.0" cy="196.7" r="1.35"/>
<circle cx="149.2" cy="202.3" r="1.35"/>
<circle cx="153.7" cy="191.9" r="1.35"/>
<circle cx="155.3" cy="195.6" r="1.35"/>
<circle cx="146.0" cy="199.3" r="1.35"/>
<circle cx="153.9" cy="199.0" r="1.35"/>
<circle cx="144.4" cy="201.6" r="1.35"/>
<circle cx="152.0" cy="181.2" r="1.35"/>
<circle cx="155.8" cy="200.2" r="1.35"/>
<circle cx="152.0" cy="191.2" r="1.35"/>
<circle cx="151.4" cy="193.3" r="1.35"/>
<circle cx="149.2" cy="198.2" r="1.35"/>
<circle cx="146.9" cy="201.8" r="1.35"/>
<circle cx="154.7" cy="200.3" r="1.35"/>
<circle cx="150.0" cy="197.3" r="1.35"/>
<circle cx="151.7" cy="198.4" r="1.35"/>
<circle cx="147.6" cy="202.8" r="1.35"/>
<circle cx="153.7" cy="193.3" r="1.35"/>
<circle cx="145.3" cy="199.6" r="1.35"/>
<circle cx="148.2" cy="198.7" r="1.35"/>
<circle cx="153.8" cy="200.7" r="1.35"/>
<circle cx="155.3" cy="199.0" r="1.35"/>
<circle cx="151.1" cy="195.6" r="1.35"/>
<circle cx="151.6" cy="202.5" r="1.35"/>
<circle cx="154.4" cy="193.6" r="1.35"/>
<circle cx="145.5" cy="189.6" r="1.35"/>
<circle cx="152.5" cy="198.7" r="1.35"/>
<circle cx="146.1" cy="193.5" r="1.35"/>
<circle cx="154.4" cy="197.4" r="1.35"/>
<circle cx="146.5" cy="198.8" r="1.35"/>
<circle cx="151.6" cy="201.5" r="1.35"/>
<circle cx="152.8" cy="199.2" r="1.35"/>
<circle cx="146.0" cy="195.5" r="1.35"/>
<circle cx="155.1" cy="198.0" r="1.35"/>
<circle cx="144.3" cy="173.2" r="1.35"/>
<circle cx="153.4" cy="197.2" r="1.35"/>
<circle cx="154.8" cy="201.0" r="1.35"/>
<circle cx="155.3" cy="197.1" r="1.35"/>
<circle cx="152.4" cy="197.9" r="1.35"/>
<circle cx="156.1" cy="199.6" r="1.35"/>
<circle cx="155.3" cy="197.3" r="1.35"/>
<circle cx="155.7" cy="191.6" r="1.35"/>
<circle cx="146.6" cy="198.3" r="1.35"/>
<circle cx="146.5" cy="192.4" r="1.35"/>
<circle cx="151.8" cy="192.3" r="1.35"/>
<circle cx="152.9" cy="201.7" r="1.35"/>
<circle cx="153.9" cy="195.9" r="1.35"/>
<circle cx="156.4" cy="190.0" r="1.35"/>
<circle cx="152.2" cy="188.7" r="1.35"/>
<circle cx="156.9" cy="198.8" r="1.35"/>
<circle cx="149.8" cy="202.9" r="1.35"/>
<circle cx="152.7" cy="198.3" r="1.35"/>
<circle cx="150.4" cy="200.3" r="1.35"/>
<circle cx="153.9" cy="186.2" r="1.35"/>
<circle cx="142.9" cy="198.5" r="1.35"/>
<circle cx="153.5" cy="200.3" r="1.35"/>
<circle cx="149.9" cy="195.9" r="1.35"/>
<circle cx="156.6" cy="201.3" r="1.35"/>
<circle cx="156.6" cy="200.4" r="1.35"/>
<circle cx="148.6" cy="202.0" r="1.35"/>
<circle cx="156.8" cy="199.9" r="1.35"/>
<circle cx="149.8" cy="200.0" r="1.35"/>
<circle cx="156.7" cy="200.2" r="1.35"/>
<circle cx="131.1" cy="198.2" r="1.35"/>
<circle cx="154.5" cy="178.5" r="1.35"/>
<circle cx="145.6" cy="192.2" r="1.35"/>
<circle cx="134.6" cy="187.1" r="1.35"/>
<circle cx="140.2" cy="174.5" r="1.35"/>
<circle cx="117.1" cy="176.4" r="1.35"/>
<circle cx="149.8" cy="162.9" r="1.35"/>
<circle cx="155.1" cy="199.5" r="1.35"/>
<circle cx="151.0" cy="197.6" r="1.35"/>
<circle cx="149.0" cy="195.2" r="1.35"/>
<circle cx="150.2" cy="199.4" r="1.35"/>
<circle cx="137.4" cy="194.6" r="1.35"/>
<circle cx="134.1" cy="186.5" r="1.35"/>
<circle cx="149.4" cy="166.9" r="1.35"/>
<circle cx="147.0" cy="194.3" r="1.35"/>
<circle cx="146.5" cy="193.2" r="1.35"/>
<circle cx="140.2" cy="200.0" r="1.35"/>
<circle cx="154.3" cy="179.4" r="1.35"/>
<circle cx="137.8" cy="188.1" r="1.35"/>
<circle cx="141.3" cy="194.7" r="1.35"/>
<circle cx="128.5" cy="199.5" r="1.35"/>
<circle cx="143.8" cy="183.5" r="1.35"/>
<circle cx="146.8" cy="163.0" r="1.35"/>
<circle cx="156.3" cy="191.1" r="1.35"/>
<circle cx="138.9" cy="200.6" r="1.35"/>
<circle cx="145.8" cy="197.6" r="1.35"/>
<circle cx="150.1" cy="190.3" r="1.35"/>
<circle cx="117.5" cy="189.6" r="1.35"/>
<circle cx="133.6" cy="202.4" r="1.35"/>
<circle cx="155.6" cy="190.4" r="1.35"/>
<circle cx="144.0" cy="191.6" r="1.35"/>
<circle cx="156.3" cy="188.8" r="1.35"/>
<circle cx="138.0" cy="197.1" r="1.35"/>
<circle cx="156.4" cy="201.8" r="1.35"/>
<circle cx="156.6" cy="198.7" r="1.35"/>
<circle cx="169.0" cy="193.5" r="1.35"/>
<circle cx="167.2" cy="199.8" r="1.35"/>
<circle cx="176.1" cy="175.7" r="1.35"/>
<circle cx="173.6" cy="201.0" r="1.35"/>
<circle cx="198.7" cy="198.9" r="1.35"/>
<circle cx="167.3" cy="201.5" r="1.35"/>
<circle cx="170.5" cy="179.1" r="1.35"/>
<circle cx="181.9" cy="185.6" r="1.35"/>
<circle cx="192.4" cy="202.9" r="1.35"/>
<circle cx="176.8" cy="199.7" r="1.35"/>
<circle cx="170.3" cy="202.3" r="1.35"/>
<circle cx="176.8" cy="201.3" r="1.35"/>
<circle cx="180.0" cy="191.0" r="1.35"/>
<circle cx="174.0" cy="199.3" r="1.35"/>
<circle cx="179.7" cy="157.3" r="1.35"/>
<circle cx="174.9" cy="196.1" r="1.35"/>
<circle cx="187.6" cy="198.7" r="1.35"/>
<circle cx="192.8" cy="180.2" r="1.35"/>
<circle cx="169.8" cy="192.0" r="1.35"/>
<circle cx="175.3" cy="199.6" r="1.35"/>
<circle cx="183.5" cy="202.0" r="1.35"/>
<circle cx="181.1" cy="201.7" r="1.35"/>
<circle cx="170.1" cy="199.4" r="1.35"/>
<circle cx="194.6" cy="198.5" r="1.35"/>
<circle cx="178.8" cy="188.7" r="1.35"/>
<circle cx="179.2" cy="198.1" r="1.35"/>
<circle cx="176.5" cy="191.2" r="1.35"/>
<circle cx="174.4" cy="200.7" r="1.35"/>
<circle cx="169.8" cy="192.0" r="1.35"/>
<circle cx="168.0" cy="186.5" r="1.35"/>
<circle cx="172.1" cy="202.8" r="1.35"/>
<circle cx="194.5" cy="201.7" r="1.35"/>
<circle cx="168.6" cy="194.3" r="1.35"/>
<circle cx="191.4" cy="177.0" r="1.35"/>
<circle cx="171.2" cy="174.1" r="1.35"/>
<circle cx="174.2" cy="178.9" r="1.35"/>
<circle cx="177.3" cy="193.3" r="1.35"/>
<circle cx="173.7" cy="197.5" r="1.35"/>
<circle cx="175.5" cy="177.9" r="1.35"/>
<circle cx="182.4" cy="199.4" r="1.35"/>
<circle cx="177.2" cy="183.4" r="1.35"/>
<circle cx="186.6" cy="175.7" r="1.35"/>
<circle cx="171.7" cy="196.4" r="1.35"/>
<circle cx="191.9" cy="200.0" r="1.35"/>
<circle cx="184.1" cy="191.5" r="1.35"/>
<circle cx="177.9" cy="200.4" r="1.35"/>
<circle cx="200.3" cy="198.4" r="1.35"/>
<circle cx="193.4" cy="195.9" r="1.35"/>
<circle cx="183.2" cy="201.3" r="1.35"/>
<circle cx="172.2" cy="199.4" r="1.35"/>
<circle cx="194.1" cy="178.6" r="1.35"/>
<circle cx="181.8" cy="167.9" r="1.35"/>
<circle cx="171.9" cy="183.7" r="1.35"/>
<circle cx="170.7" cy="187.3" r="1.35"/>
<circle cx="171.2" cy="201.8" r="1.35"/>
<circle cx="182.3" cy="201.0" r="1.35"/>
<circle cx="174.4" cy="198.8" r="1.35"/>
<circle cx="199.0" cy="160.1" r="1.35"/>
<circle cx="176.7" cy="201.0" r="1.35"/>
<circle cx="172.4" cy="175.7" r="1.35"/>
<circle cx="169.2" cy="191.9" r="1.35"/>
<circle cx="176.6" cy="194.4" r="1.35"/>
<circle cx="203.8" cy="165.8" r="1.35"/>
<circle cx="214.6" cy="202.5" r="1.35"/>
<circle cx="177.1" cy="185.6" r="1.35"/>
<circle cx="191.5" cy="201.2" r="1.35"/>
<circle cx="184.5" cy="202.4" r="1.35"/>
<circle cx="193.7" cy="201.4" r="1.35"/>
<circle cx="170.6" cy="194.6" r="1.35"/>
<circle cx="206.4" cy="202.5" r="1.35"/>
<circle cx="166.9" cy="192.8" r="1.35"/>
<circle cx="181.3" cy="199.6" r="1.35"/>
<circle cx="194.8" cy="200.1" r="1.35"/>
<circle cx="190.0" cy="196.8" r="1.35"/>
<circle cx="178.9" cy="202.0" r="1.35"/>
<circle cx="190.8" cy="187.5" r="1.35"/>
<circle cx="168.1" cy="190.9" r="1.35"/>
<circle cx="177.2" cy="162.7" r="1.35"/>
<circle cx="166.2" cy="202.9" r="1.35"/>
<circle cx="176.7" cy="190.1" r="1.35"/>
<circle cx="175.3" cy="192.1" r="1.35"/>
<circle cx="198.3" cy="199.9" r="1.35"/>
<circle cx="182.0" cy="179.2" r="1.35"/>
<circle cx="192.0" cy="195.4" r="1.35"/>
<circle cx="176.5" cy="199.3" r="1.35"/>
<circle cx="166.3" cy="201.1" r="1.35"/>
<circle cx="193.2" cy="178.9" r="1.35"/>
<circle cx="188.8" cy="199.4" r="1.35"/>
<circle cx="168.1" cy="201.6" r="1.35"/>
<circle cx="195.9" cy="168.1" r="1.35"/>
<circle cx="186.5" cy="182.4" r="1.35"/>
<circle cx="194.4" cy="192.9" r="1.35"/>
<circle cx="172.5" cy="195.8" r="1.35"/>
<circle cx="177.1" cy="191.2" r="1.35"/>
<circle cx="173.5" cy="181.3" r="1.35"/>
<circle cx="168.8" cy="193.9" r="1.35"/>
<circle cx="183.6" cy="199.8" r="1.35"/>
<circle cx="182.4" cy="176.8" r="1.35"/>
<circle cx="189.6" cy="194.8" r="1.35"/>
<circle cx="187.2" cy="192.7" r="1.35"/>
<circle cx="199.8" cy="182.7" r="1.35"/>
<circle cx="180.6" cy="196.0" r="1.35"/>
<circle cx="186.9" cy="200.1" r="1.35"/>
<circle cx="170.9" cy="197.9" r="1.35"/>
<circle cx="172.2" cy="201.7" r="1.35"/>
<circle cx="168.8" cy="195.8" r="1.35"/>
<circle cx="168.6" cy="199.9" r="1.35"/>
<circle cx="187.0" cy="190.2" r="1.35"/>
<circle cx="185.9" cy="173.7" r="1.35"/>
<circle cx="171.4" cy="181.3" r="1.35"/>
<circle cx="172.5" cy="179.6" r="1.35"/>
<circle cx="168.1" cy="191.2" r="1.35"/>
<circle cx="174.7" cy="183.9" r="1.35"/>
<circle cx="199.2" cy="174.7" r="1.35"/>
<circle cx="172.6" cy="200.2" r="1.35"/>
<circle cx="188.0" cy="184.9" r="1.35"/>
<circle cx="210.9" cy="168.4" r="1.35"/>
<circle cx="168.0" cy="199.1" r="1.35"/>
<circle cx="174.5" cy="189.7" r="1.35"/>
<circle cx="180.2" cy="199.5" r="1.35"/>
<circle cx="170.6" cy="189.3" r="1.35"/>
<circle cx="171.7" cy="200.9" r="1.35"/>
<circle cx="176.3" cy="184.7" r="1.35"/>
<circle cx="189.7" cy="186.0" r="1.35"/>
<circle cx="186.3" cy="202.3" r="1.35"/>
<circle cx="169.4" cy="199.3" r="1.35"/>
<circle cx="190.8" cy="155.4" r="1.35"/>
<circle cx="179.1" cy="199.9" r="1.35"/>
<circle cx="189.0" cy="194.7" r="1.35"/>
<circle cx="182.1" cy="185.0" r="1.35"/>
<circle cx="170.1" cy="181.2" r="1.35"/>
<circle cx="183.9" cy="196.7" r="1.35"/>
<circle cx="172.0" cy="180.7" r="1.35"/>
<circle cx="176.1" cy="201.1" r="1.35"/>
<circle cx="204.6" cy="192.1" r="1.35"/>
<circle cx="208.3" cy="187.7" r="1.35"/>
</g>
<line x1="88.8" y1="202.93" x2="234.8" y2="202.93" class="th"/>
<line x1="157.66" y1="153" x2="157.66" y2="225" class="th"/>
<line x1="165.54" y1="153" x2="165.54" y2="225" class="th"/>
<path d="M88.8,153 V225 H234.8" fill="none" stroke="#111" stroke-width="1.5"/>
<line x1="85.8" y1="222.30" x2="88.8" y2="222.30" stroke="#111" stroke-width="1"/>
<text x="83.2" y="225.1" font-size="7.9" text-anchor="end" fill="#1a1a1a" stroke="#1a1a1a" stroke-width="0.15">0</text>
<line x1="85.8" y1="207.40" x2="88.8" y2="207.40" stroke="#111" stroke-width="1"/>
<text x="83.2" y="210.2" font-size="7.9" text-anchor="end" fill="#1a1a1a" stroke="#1a1a1a" stroke-width="0.15">1</text>
<line x1="85.8" y1="192.50" x2="88.8" y2="192.50" stroke="#111" stroke-width="1"/>
<text x="83.2" y="195.3" font-size="7.9" text-anchor="end" fill="#1a1a1a" stroke="#1a1a1a" stroke-width="0.15">2</text>
<line x1="85.8" y1="177.60" x2="88.8" y2="177.60" stroke="#111" stroke-width="1"/>
<text x="83.2" y="180.4" font-size="7.9" text-anchor="end" fill="#1a1a1a" stroke="#1a1a1a" stroke-width="0.15">3</text>
<line x1="85.8" y1="162.70" x2="88.8" y2="162.70" stroke="#111" stroke-width="1"/>
<text x="83.2" y="165.5" font-size="7.9" text-anchor="end" fill="#1a1a1a" stroke="#1a1a1a" stroke-width="0.15">4</text>
<line x1="101.60" y1="225" x2="101.60" y2="228" stroke="#111" stroke-width="1"/>
<text x="101.6" y="237.6" font-size="7.9" text-anchor="middle" fill="#1a1a1a" stroke="#1a1a1a" stroke-width="0.15">–4</text>
<line x1="131.60" y1="225" x2="131.60" y2="228" stroke="#111" stroke-width="1"/>
<text x="131.6" y="237.6" font-size="7.9" text-anchor="middle" fill="#1a1a1a" stroke="#1a1a1a" stroke-width="0.15">–2</text>
<line x1="161.60" y1="225" x2="161.60" y2="228" stroke="#111" stroke-width="1"/>
<text x="161.6" y="237.6" font-size="7.9" text-anchor="middle" fill="#1a1a1a" stroke="#1a1a1a" stroke-width="0.15">0</text>
<line x1="191.60" y1="225" x2="191.60" y2="228" stroke="#111" stroke-width="1"/>
<text x="191.6" y="237.6" font-size="7.9" text-anchor="middle" fill="#1a1a1a" stroke="#1a1a1a" stroke-width="0.15">2</text>
<line x1="221.60" y1="225" x2="221.60" y2="228" stroke="#111" stroke-width="1"/>
<text x="221.6" y="237.6" font-size="7.9" text-anchor="middle" fill="#1a1a1a" stroke="#1a1a1a" stroke-width="0.15">4</text>
<text x="161.7" y="146.2" font-size="10.3" text-anchor="middle" fill="#111" textLength="44" lengthAdjust="spacingAndGlyphs" stroke="#111" stroke-width="0.2">WC vs WR</text>
<text x="160.4" y="248.6" font-size="9.2" text-anchor="middle" fill="#1a1a1a" textLength="47" lengthAdjust="spacingAndGlyphs" stroke="#1a1a1a" stroke-width="0.15">log2 (WC/WR)</text>
<text transform="translate(72.1,189) rotate(-90)" x="0" y="0" font-size="9.2" text-anchor="middle" fill="#1a1a1a" stroke="#1a1a1a" stroke-width="0.15" textLength="54" lengthAdjust="spacingAndGlyphs">-log10 (p-value)</text>
<g class="bk">
<circle cx="392.0" cy="207.1" r="1.5"/>
<circle cx="399.9" cy="208.7" r="1.5"/>
<circle cx="393.6" cy="217.2" r="1.5"/>
<circle cx="383.5" cy="219.5" r="1.5"/>
<circle cx="393.7" cy="214.4" r="1.5"/>
<circle cx="385.9" cy="209.5" r="1.5"/>
<circle cx="394.3" cy="215.8" r="1.5"/>
<circle cx="393.6" cy="213.5" r="1.5"/>
<circle cx="384.1" cy="206.2" r="1.5"/>
<circle cx="383.0" cy="209.3" r="1.5"/>
<circle cx="390.2" cy="218.3" r="1.5"/>
<circle cx="395.8" cy="209.2" r="1.5"/>
<circle cx="395.0" cy="211.2" r="1.5"/>
<circle cx="387.3" cy="218.6" r="1.5"/>
<circle cx="398.2" cy="213.2" r="1.5"/>
<circle cx="384.8" cy="210.7" r="1.5"/>
<circle cx="382.0" cy="218.1" r="1.5"/>
<circle cx="386.9" cy="221.5" r="1.5"/>
<circle cx="393.0" cy="207.6" r="1.5"/>
<circle cx="394.0" cy="212.5" r="1.5"/>
<circle cx="391.5" cy="218.4" r="1.5"/>
<circle cx="393.9" cy="210.8" r="1.5"/>
<circle cx="403.9" cy="211.8" r="1.5"/>
<circle cx="378.7" cy="218.8" r="1.5"/>
<circle cx="394.7" cy="205.4" r="1.5"/>
<circle cx="384.0" cy="221.3" r="1.5"/>
<circle cx="393.4" cy="215.1" r="1.5"/>
<circle cx="393.3" cy="206.9" r="1.5"/>
<circle cx="385.8" cy="214.7" r="1.5"/>
<circle cx="385.6" cy="205.8" r="1.5"/>
<circle cx="381.7" cy="218.7" r="1.5"/>
<circle cx="386.4" cy="220.3" r="1.5"/>
<circle cx="391.9" cy="209.7" r="1.5"/>
<circle cx="380.4" cy="204.2" r="1.5"/>
<circle cx="379.5" cy="210.3" r="1.5"/>
<circle cx="391.8" cy="210.6" r="1.5"/>
<circle cx="387.4" cy="217.8" r="1.5"/>
<circle cx="387.5" cy="217.4" r="1.5"/>
<circle cx="392.9" cy="210.1" r="1.5"/>
<circle cx="387.1" cy="212.6" r="1.5"/>
<circle cx="383.2" cy="205.2" r="1.5"/>
<circle cx="388.1" cy="220.2" r="1.5"/>
<circle cx="393.8" cy="206.8" r="1.5"/>
<circle cx="384.8" cy="217.2" r="1.5"/>
<circle cx="400.9" cy="205.6" r="1.5"/>
<circle cx="397.7" cy="215.7" r="1.5"/>
<circle cx="392.4" cy="218.9" r="1.5"/>
<circle cx="381.7" cy="217.0" r="1.5"/>
<circle cx="378.2" cy="209.7" r="1.5"/>
<circle cx="388.1" cy="222.1" r="1.5"/>
<circle cx="384.8" cy="219.1" r="1.5"/>
<circle cx="394.9" cy="211.1" r="1.5"/>
<circle cx="381.8" cy="203.8" r="1.5"/>
<circle cx="391.8" cy="214.1" r="1.5"/>
<circle cx="392.2" cy="219.1" r="1.5"/>
<circle cx="395.7" cy="219.5" r="1.5"/>
<circle cx="406.3" cy="213.1" r="1.5"/>
<circle cx="392.4" cy="214.4" r="1.5"/>
<circle cx="385.3" cy="215.7" r="1.5"/>
<circle cx="384.7" cy="204.7" r="1.5"/>
<circle cx="386.0" cy="217.5" r="1.5"/>
<circle cx="394.0" cy="216.6" r="1.5"/>
<circle cx="379.2" cy="217.1" r="1.5"/>
<circle cx="391.7" cy="216.2" r="1.5"/>
<circle cx="400.3" cy="218.9" r="1.5"/>
<circle cx="393.5" cy="208.2" r="1.5"/>
<circle cx="391.5" cy="218.2" r="1.5"/>
<circle cx="395.1" cy="207.7" r="1.5"/>
<circle cx="380.3" cy="206.4" r="1.5"/>
<circle cx="390.6" cy="217.5" r="1.5"/>
<circle cx="393.8" cy="205.6" r="1.5"/>
<circle cx="393.0" cy="220.3" r="1.5"/>
<circle cx="397.2" cy="209.0" r="1.5"/>
<circle cx="391.9" cy="219.2" r="1.5"/>
<circle cx="391.2" cy="209.4" r="1.5"/>
<circle cx="384.7" cy="205.1" r="1.5"/>
<circle cx="392.5" cy="212.1" r="1.5"/>
<circle cx="398.3" cy="208.8" r="1.5"/>
<circle cx="386.6" cy="219.9" r="1.5"/>
<circle cx="386.4" cy="207.0" r="1.5"/>
<circle cx="396.7" cy="217.7" r="1.5"/>
<circle cx="402.5" cy="206.4" r="1.5"/>
<circle cx="382.9" cy="207.3" r="1.5"/>
<circle cx="398.8" cy="210.7" r="1.5"/>
<circle cx="395.0" cy="207.7" r="1.5"/>
<circle cx="382.0" cy="217.0" r="1.5"/>
<circle cx="382.9" cy="216.5" r="1.5"/>
<circle cx="381.2" cy="207.2" r="1.5"/>
<circle cx="391.8" cy="205.5" r="1.5"/>
<circle cx="396.9" cy="207.2" r="1.5"/>
<circle cx="377.2" cy="212.6" r="1.5"/>
<circle cx="391.5" cy="208.5" r="1.5"/>
<circle cx="388.1" cy="218.6" r="1.5"/>
<circle cx="392.1" cy="217.9" r="1.5"/>
<circle cx="391.5" cy="218.5" r="1.5"/>
<circle cx="384.3" cy="206.1" r="1.5"/>
<circle cx="391.2" cy="214.8" r="1.5"/>
<circle cx="382.9" cy="203.6" r="1.5"/>
<circle cx="392.1" cy="210.7" r="1.5"/>
<circle cx="383.7" cy="212.3" r="1.5"/>
<circle cx="382.1" cy="218.6" r="1.5"/>
<circle cx="396.4" cy="208.3" r="1.5"/>
<circle cx="394.7" cy="210.0" r="1.5"/>
<circle cx="384.6" cy="210.6" r="1.5"/>
<circle cx="390.6" cy="213.4" r="1.5"/>
<circle cx="392.6" cy="219.5" r="1.5"/>
<circle cx="387.3" cy="220.5" r="1.5"/>
<circle cx="397.1" cy="215.3" r="1.5"/>
<circle cx="381.3" cy="219.1" r="1.5"/>
<circle cx="385.7" cy="221.4" r="1.5"/>
<circle cx="386.6" cy="220.7" r="1.5"/>
<circle cx="397.0" cy="213.8" r="1.5"/>
<circle cx="383.2" cy="207.4" r="1.5"/>
<circle cx="386.7" cy="214.4" r="1.5"/>
<circle cx="381.8" cy="217.1" r="1.5"/>
<circle cx="382.2" cy="218.5" r="1.5"/>
<circle cx="381.0" cy="206.6" r="1.5"/>
<circle cx="383.7" cy="211.5" r="1.5"/>
<circle cx="394.4" cy="221.5" r="1.5"/>
<circle cx="385.9" cy="221.5" r="1.5"/>
<circle cx="392.7" cy="214.7" r="1.5"/>
<circle cx="382.2" cy="216.0" r="1.5"/>
<circle cx="372.4" cy="204.8" r="1.5"/>
<circle cx="386.5" cy="212.7" r="1.5"/>
<circle cx="393.9" cy="207.9" r="1.5"/>
<circle cx="382.7" cy="207.1" r="1.5"/>
<circle cx="393.0" cy="209.3" r="1.5"/>
<circle cx="385.4" cy="214.1" r="1.5"/>
<circle cx="382.8" cy="219.4" r="1.5"/>
<circle cx="394.1" cy="205.3" r="1.5"/>
<circle cx="391.6" cy="218.3" r="1.5"/>
<circle cx="386.4" cy="214.5" r="1.5"/>
<circle cx="392.6" cy="213.3" r="1.5"/>
<circle cx="386.7" cy="213.7" r="1.5"/>
<circle cx="399.9" cy="209.3" r="1.5"/>
<circle cx="385.1" cy="209.5" r="1.5"/>
<circle cx="384.6" cy="218.2" r="1.5"/>
<circle cx="386.5" cy="210.4" r="1.5"/>
<circle cx="380.0" cy="206.4" r="1.5"/>
<circle cx="382.0" cy="211.3" r="1.5"/>
<circle cx="387.9" cy="218.2" r="1.5"/>
<circle cx="393.7" cy="219.0" r="1.5"/>
<circle cx="388.3" cy="221.2" r="1.5"/>
<circle cx="385.6" cy="204.1" r="1.5"/>
<circle cx="385.0" cy="219.6" r="1.5"/>
<circle cx="379.0" cy="204.7" r="1.5"/>
<circle cx="382.3" cy="207.9" r="1.5"/>
<circle cx="385.7" cy="207.1" r="1.5"/>
<circle cx="392.4" cy="208.2" r="1.5"/>
<circle cx="398.2" cy="205.1" r="1.5"/>
<circle cx="379.7" cy="211.3" r="1.5"/>
<circle cx="385.8" cy="215.8" r="1.5"/>
<circle cx="397.5" cy="211.2" r="1.5"/>
<circle cx="398.2" cy="206.3" r="1.5"/>
<circle cx="380.9" cy="220.2" r="1.5"/>
<circle cx="380.1" cy="204.5" r="1.5"/>
<circle cx="386.2" cy="212.3" r="1.5"/>
<circle cx="398.6" cy="207.6" r="1.5"/>
<circle cx="385.0" cy="214.9" r="1.5"/>
<circle cx="381.0" cy="205.4" r="1.5"/>
<circle cx="391.2" cy="216.5" r="1.5"/>
<circle cx="378.8" cy="210.2" r="1.5"/>
<circle cx="373.4" cy="212.7" r="1.5"/>
<circle cx="394.1" cy="212.2" r="1.5"/>
<circle cx="395.2" cy="203.8" r="1.5"/>
<circle cx="385.5" cy="216.0" r="1.5"/>
<circle cx="382.6" cy="205.5" r="1.5"/>
<circle cx="383.1" cy="209.9" r="1.5"/>
<circle cx="393.3" cy="206.5" r="1.5"/>
<circle cx="392.8" cy="212.4" r="1.5"/>
<circle cx="387.1" cy="220.4" r="1.5"/>
<circle cx="391.8" cy="210.5" r="1.5"/>
<circle cx="385.5" cy="221.3" r="1.5"/>
<circle cx="384.1" cy="217.8" r="1.5"/>
<circle cx="395.9" cy="220.7" r="1.5"/>
<circle cx="393.4" cy="206.8" r="1.5"/>
<circle cx="393.6" cy="211.2" r="1.5"/>
<circle cx="381.6" cy="217.5" r="1.5"/>
<circle cx="396.8" cy="219.6" r="1.5"/>
<circle cx="375.9" cy="216.8" r="1.5"/>
<circle cx="393.0" cy="216.7" r="1.5"/>
<circle cx="392.4" cy="205.9" r="1.5"/>
<circle cx="390.2" cy="214.5" r="1.5"/>
<circle cx="388.1" cy="218.0" r="1.5"/>
<circle cx="398.5" cy="217.9" r="1.5"/>
<circle cx="393.2" cy="211.1" r="1.5"/>
<circle cx="385.5" cy="214.4" r="1.5"/>
<circle cx="382.9" cy="216.3" r="1.5"/>
<circle cx="393.1" cy="219.8" r="1.5"/>
<circle cx="393.4" cy="205.9" r="1.5"/>
<circle cx="391.1" cy="209.2" r="1.5"/>
<circle cx="382.4" cy="208.5" r="1.5"/>
<circle cx="397.2" cy="210.4" r="1.5"/>
<circle cx="392.7" cy="217.1" r="1.5"/>
<circle cx="394.6" cy="216.6" r="1.5"/>
<circle cx="402.2" cy="212.2" r="1.5"/>
<circle cx="390.1" cy="214.5" r="1.5"/>
<circle cx="396.1" cy="207.6" r="1.5"/>
<circle cx="391.4" cy="211.3" r="1.5"/>
<circle cx="385.9" cy="215.7" r="1.5"/>
<circle cx="391.1" cy="212.5" r="1.5"/>
<circle cx="392.4" cy="219.5" r="1.5"/>
<circle cx="396.8" cy="207.2" r="1.5"/>
<circle cx="402.1" cy="205.9" r="1.5"/>
<circle cx="394.6" cy="209.1" r="1.5"/>
<circle cx="386.2" cy="209.6" r="1.5"/>
<circle cx="382.2" cy="203.6" r="1.5"/>
<circle cx="385.1" cy="207.3" r="1.5"/>
<circle cx="385.8" cy="215.5" r="1.5"/>
<circle cx="385.6" cy="215.4" r="1.5"/>
<circle cx="385.0" cy="219.3" r="1.5"/>
<circle cx="397.7" cy="220.1" r="1.5"/>
<circle cx="377.3" cy="217.2" r="1.5"/>
<circle cx="380.3" cy="206.9" r="1.5"/>
<circle cx="387.9" cy="219.5" r="1.5"/>
<circle cx="392.9" cy="207.1" r="1.5"/>
<circle cx="386.7" cy="221.9" r="1.5"/>
<circle cx="383.7" cy="220.1" r="1.5"/>
<circle cx="386.7" cy="215.6" r="1.5"/>
<circle cx="392.2" cy="207.5" r="1.5"/>
<circle cx="397.4" cy="214.2" r="1.5"/>
<circle cx="383.2" cy="221.4" r="1.5"/>
<circle cx="387.3" cy="219.5" r="1.5"/>
<circle cx="399.8" cy="204.5" r="1.5"/>
<circle cx="386.3" cy="214.6" r="1.5"/>
<circle cx="382.4" cy="206.8" r="1.5"/>
<circle cx="387.1" cy="215.5" r="1.5"/>
<circle cx="391.8" cy="219.4" r="1.5"/>
<circle cx="393.0" cy="203.8" r="1.5"/>
<circle cx="391.6" cy="218.1" r="1.5"/>
<circle cx="380.1" cy="214.5" r="1.5"/>
<circle cx="403.8" cy="206.9" r="1.5"/>
<circle cx="399.5" cy="205.2" r="1.5"/>
<circle cx="382.0" cy="214.6" r="1.5"/>
<circle cx="378.1" cy="207.3" r="1.5"/>
<circle cx="397.1" cy="215.3" r="1.5"/>
<circle cx="386.8" cy="210.9" r="1.5"/>
<circle cx="385.4" cy="214.0" r="1.5"/>
<circle cx="390.3" cy="213.9" r="1.5"/>
<circle cx="384.5" cy="217.6" r="1.5"/>
<circle cx="394.4" cy="213.8" r="1.5"/>
<circle cx="392.6" cy="215.2" r="1.5"/>
<circle cx="392.6" cy="214.9" r="1.5"/>
<circle cx="385.3" cy="211.2" r="1.5"/>
<circle cx="383.8" cy="217.1" r="1.5"/>
<circle cx="376.2" cy="217.0" r="1.5"/>
<circle cx="386.0" cy="212.4" r="1.5"/>
<circle cx="380.3" cy="218.8" r="1.5"/>
<circle cx="381.5" cy="216.4" r="1.5"/>
<circle cx="379.9" cy="219.7" r="1.5"/>
<circle cx="376.5" cy="214.2" r="1.5"/>
<circle cx="393.0" cy="220.9" r="1.5"/>
<circle cx="385.0" cy="220.8" r="1.5"/>
<circle cx="399.0" cy="203.8" r="1.5"/>
<circle cx="395.0" cy="208.3" r="1.5"/>
<circle cx="393.2" cy="204.1" r="1.5"/>
<circle cx="384.4" cy="218.3" r="1.5"/>
<circle cx="390.4" cy="219.4" r="1.5"/>
<circle cx="396.5" cy="206.0" r="1.5"/>
<circle cx="382.6" cy="207.0" r="1.5"/>
<circle cx="393.4" cy="218.6" r="1.5"/>
<circle cx="382.3" cy="208.5" r="1.5"/>
<circle cx="391.1" cy="220.3" r="1.5"/>
<circle cx="383.4" cy="208.0" r="1.5"/>
<circle cx="393.1" cy="207.5" r="1.5"/>
<circle cx="393.4" cy="214.6" r="1.5"/>
<circle cx="393.1" cy="211.3" r="1.5"/>
<circle cx="397.4" cy="213.8" r="1.5"/>
<circle cx="391.9" cy="210.9" r="1.5"/>
<circle cx="390.6" cy="221.3" r="1.5"/>
<circle cx="399.0" cy="215.8" r="1.5"/>
<circle cx="394.3" cy="210.3" r="1.5"/>
<circle cx="381.1" cy="204.7" r="1.5"/>
<circle cx="393.3" cy="208.4" r="1.5"/>
<circle cx="393.1" cy="212.9" r="1.5"/>
<circle cx="390.9" cy="221.4" r="1.5"/>
<circle cx="386.7" cy="219.5" r="1.5"/>
<circle cx="378.4" cy="217.2" r="1.5"/>
<circle cx="383.1" cy="220.2" r="1.5"/>
<circle cx="392.2" cy="206.2" r="1.5"/>
<circle cx="389.5" cy="221.9" r="1.5"/>
<circle cx="385.1" cy="218.8" r="1.5"/>
<circle cx="391.8" cy="218.7" r="1.5"/>
<circle cx="387.1" cy="216.7" r="1.5"/>
<circle cx="386.1" cy="206.0" r="1.5"/>
<circle cx="390.1" cy="216.2" r="1.5"/>
<circle cx="381.4" cy="208.8" r="1.5"/>
<circle cx="386.8" cy="216.5" r="1.5"/>
<circle cx="381.2" cy="210.1" r="1.5"/>
<circle cx="386.4" cy="217.7" r="1.5"/>
<circle cx="380.1" cy="214.1" r="1.5"/>
<circle cx="393.0" cy="213.8" r="1.5"/>
<circle cx="387.8" cy="219.3" r="1.5"/>
<circle cx="373.2" cy="203.7" r="1.5"/>
<circle cx="396.0" cy="212.6" r="1.5"/>
<circle cx="400.8" cy="205.5" r="1.5"/>
<circle cx="392.6" cy="219.0" r="1.5"/>
<circle cx="385.5" cy="210.2" r="1.5"/>
<circle cx="384.7" cy="213.6" r="1.5"/>
<circle cx="393.3" cy="212.9" r="1.5"/>
<circle cx="385.0" cy="207.1" r="1.5"/>
<circle cx="380.3" cy="205.9" r="1.5"/>
<circle cx="401.6" cy="204.2" r="1.5"/>
<circle cx="392.7" cy="207.9" r="1.5"/>
<circle cx="385.1" cy="207.3" r="1.5"/>
<circle cx="386.0" cy="204.4" r="1.5"/>
<circle cx="389.5" cy="219.7" r="1.5"/>
<circle cx="391.9" cy="212.1" r="1.5"/>
<circle cx="392.0" cy="216.6" r="1.5"/>
<circle cx="385.9" cy="220.2" r="1.5"/>
<circle cx="384.4" cy="209.0" r="1.5"/>
<circle cx="384.8" cy="209.5" r="1.5"/>
<circle cx="380.0" cy="214.0" r="1.5"/>
<circle cx="387.1" cy="214.3" r="1.5"/>
<circle cx="378.1" cy="208.9" r="1.5"/>
<circle cx="388.1" cy="218.1" r="1.5"/>
<circle cx="381.0" cy="209.8" r="1.5"/>
<circle cx="395.6" cy="219.6" r="1.5"/>
<circle cx="392.7" cy="217.5" r="1.5"/>
<circle cx="384.2" cy="217.6" r="1.5"/>
<circle cx="390.3" cy="217.9" r="1.5"/>
<circle cx="384.7" cy="219.0" r="1.5"/>
<circle cx="396.0" cy="213.4" r="1.5"/>
<circle cx="393.6" cy="207.5" r="1.5"/>
<circle cx="397.1" cy="209.2" r="1.5"/>
<circle cx="391.6" cy="211.6" r="1.5"/>
<circle cx="392.1" cy="217.6" r="1.5"/>
<circle cx="391.8" cy="205.9" r="1.5"/>
<circle cx="384.1" cy="214.5" r="1.5"/>
<circle cx="384.1" cy="212.3" r="1.5"/>
<circle cx="387.9" cy="217.1" r="1.5"/>
<circle cx="385.5" cy="211.0" r="1.5"/>
<circle cx="392.3" cy="217.6" r="1.5"/>
<circle cx="382.8" cy="219.8" r="1.5"/>
<circle cx="405.6" cy="203.8" r="1.5"/>
<circle cx="384.1" cy="209.3" r="1.5"/>
<circle cx="384.3" cy="218.2" r="1.5"/>
<circle cx="382.8" cy="214.1" r="1.5"/>
<circle cx="397.3" cy="208.3" r="1.5"/>
<circle cx="393.8" cy="204.7" r="1.5"/>
<circle cx="383.5" cy="221.3" r="1.5"/>
<circle cx="384.8" cy="216.6" r="1.5"/>
<circle cx="385.3" cy="207.7" r="1.5"/>
<circle cx="385.4" cy="213.3" r="1.5"/>
<circle cx="399.7" cy="216.9" r="1.5"/>
<circle cx="386.4" cy="207.5" r="1.5"/>
<circle cx="395.1" cy="213.1" r="1.5"/>
<circle cx="380.8" cy="219.5" r="1.5"/>
<circle cx="381.6" cy="215.6" r="1.5"/>
<circle cx="386.1" cy="208.9" r="1.5"/>
<circle cx="384.1" cy="211.2" r="1.5"/>
<circle cx="394.9" cy="220.4" r="1.5"/>
<circle cx="400.6" cy="205.5" r="1.5"/>
<circle cx="398.2" cy="204.0" r="1.5"/>
<circle cx="391.7" cy="208.8" r="1.5"/>
<circle cx="385.0" cy="221.2" r="1.5"/>
<circle cx="398.9" cy="208.2" r="1.5"/>
<circle cx="382.5" cy="206.6" r="1.5"/>
<circle cx="393.9" cy="214.4" r="1.5"/>
<circle cx="391.1" cy="219.1" r="1.5"/>
<circle cx="391.4" cy="213.3" r="1.5"/>
<circle cx="387.6" cy="218.5" r="1.5"/>
<circle cx="391.5" cy="206.9" r="1.5"/>
<circle cx="381.3" cy="213.1" r="1.5"/>
<circle cx="390.9" cy="216.0" r="1.5"/>
<circle cx="382.2" cy="203.6" r="1.5"/>
<circle cx="379.8" cy="214.5" r="1.5"/>
<circle cx="381.1" cy="207.1" r="1.5"/>
<circle cx="384.9" cy="214.9" r="1.5"/>
<circle cx="398.8" cy="206.4" r="1.5"/>
<circle cx="382.3" cy="216.2" r="1.5"/>
<circle cx="386.9" cy="221.3" r="1.5"/>
<circle cx="391.3" cy="210.1" r="1.5"/>
<circle cx="384.0" cy="209.4" r="1.5"/>
<circle cx="385.4" cy="216.9" r="1.5"/>
<circle cx="395.3" cy="211.8" r="1.5"/>
<circle cx="388.2" cy="221.1" r="1.5"/>
<circle cx="384.8" cy="213.7" r="1.5"/>
<circle cx="391.3" cy="213.1" r="1.5"/>
<circle cx="391.4" cy="211.3" r="1.5"/>
<circle cx="377.2" cy="218.2" r="1.5"/>
<circle cx="383.9" cy="208.8" r="1.5"/>
<circle cx="387.3" cy="215.6" r="1.5"/>
<circle cx="392.9" cy="203.9" r="1.5"/>
<circle cx="387.1" cy="219.3" r="1.5"/>
<circle cx="378.4" cy="217.1" r="1.5"/>
<circle cx="396.7" cy="219.5" r="1.5"/>
<circle cx="399.1" cy="214.2" r="1.5"/>
<circle cx="382.1" cy="220.9" r="1.5"/>
<circle cx="388.3" cy="222.2" r="1.5"/>
<circle cx="387.7" cy="219.8" r="1.5"/>
<circle cx="399.7" cy="211.3" r="1.5"/>
<circle cx="383.1" cy="212.0" r="1.5"/>
<circle cx="386.2" cy="209.8" r="1.5"/>
<circle cx="397.0" cy="207.7" r="1.5"/>
<circle cx="391.5" cy="219.1" r="1.5"/>
<circle cx="385.4" cy="220.5" r="1.5"/>
<circle cx="391.5" cy="212.0" r="1.5"/>
<circle cx="381.9" cy="212.2" r="1.5"/>
<circle cx="398.5" cy="207.7" r="1.5"/>
<circle cx="390.2" cy="216.9" r="1.5"/>
<circle cx="389.8" cy="218.3" r="1.5"/>
<circle cx="380.1" cy="219.8" r="1.5"/>
<circle cx="387.4" cy="217.4" r="1.5"/>
<circle cx="384.0" cy="216.8" r="1.5"/>
<circle cx="391.1" cy="207.8" r="1.5"/>
<circle cx="389.4" cy="222.2" r="1.5"/>
<circle cx="402.4" cy="214.1" r="1.5"/>
<circle cx="395.3" cy="213.1" r="1.5"/>
<circle cx="395.0" cy="218.9" r="1.5"/>
<circle cx="390.8" cy="210.4" r="1.5"/>
<circle cx="383.9" cy="221.3" r="1.5"/>
<circle cx="389.7" cy="218.3" r="1.5"/>
<circle cx="381.3" cy="210.9" r="1.5"/>
<circle cx="403.3" cy="213.7" r="1.5"/>
<circle cx="393.4" cy="206.0" r="1.5"/>
<circle cx="395.9" cy="205.7" r="1.5"/>
<circle cx="379.9" cy="218.4" r="1.5"/>
<circle cx="380.8" cy="213.0" r="1.5"/>
<circle cx="392.8" cy="221.8" r="1.5"/>
<circle cx="395.2" cy="217.6" r="1.5"/>
<circle cx="385.0" cy="209.3" r="1.5"/>
<circle cx="382.3" cy="209.2" r="1.5"/>
<circle cx="382.4" cy="211.6" r="1.5"/>
<circle cx="382.2" cy="209.8" r="1.5"/>
<circle cx="400.5" cy="210.9" r="1.5"/>
<circle cx="392.3" cy="216.1" r="1.5"/>
<circle cx="400.2" cy="212.5" r="1.5"/>
<circle cx="386.0" cy="218.6" r="1.5"/>
<circle cx="386.9" cy="210.8" r="1.5"/>
<circle cx="392.2" cy="219.9" r="1.5"/>
<circle cx="386.2" cy="214.5" r="1.5"/>
<circle cx="390.8" cy="211.6" r="1.5"/>
<circle cx="383.5" cy="215.9" r="1.5"/>
<circle cx="384.9" cy="221.4" r="1.5"/>
<circle cx="400.6" cy="214.2" r="1.5"/>
<circle cx="386.2" cy="205.4" r="1.5"/>
<circle cx="389.5" cy="218.7" r="1.5"/>
<circle cx="392.4" cy="216.1" r="1.5"/>
<circle cx="386.5" cy="221.4" r="1.5"/>
<circle cx="395.1" cy="206.9" r="1.5"/>
<circle cx="391.5" cy="217.5" r="1.5"/>
<circle cx="386.1" cy="211.7" r="1.5"/>
<circle cx="390.8" cy="221.2" r="1.5"/>
<circle cx="393.0" cy="207.4" r="1.5"/>
<circle cx="394.4" cy="219.6" r="1.5"/>
<circle cx="392.3" cy="207.8" r="1.5"/>
<circle cx="386.3" cy="220.8" r="1.5"/>
<circle cx="385.4" cy="206.5" r="1.5"/>
<circle cx="381.5" cy="210.2" r="1.5"/>
<circle cx="386.8" cy="219.4" r="1.5"/>
<circle cx="385.3" cy="211.0" r="1.5"/>
<circle cx="396.6" cy="219.8" r="1.5"/>
<circle cx="385.8" cy="210.3" r="1.5"/>
<circle cx="392.7" cy="209.4" r="1.5"/>
<circle cx="380.8" cy="213.0" r="1.5"/>
<circle cx="384.6" cy="210.0" r="1.5"/>
<circle cx="385.1" cy="210.1" r="1.5"/>
<circle cx="393.5" cy="215.0" r="1.5"/>
<circle cx="401.2" cy="214.5" r="1.5"/>
<circle cx="394.0" cy="206.8" r="1.5"/>
<circle cx="387.1" cy="221.2" r="1.5"/>
<circle cx="399.2" cy="207.8" r="1.5"/>
<circle cx="388.2" cy="219.0" r="1.5"/>
<circle cx="383.0" cy="216.2" r="1.5"/>
<circle cx="381.2" cy="217.9" r="1.5"/>
<circle cx="397.4" cy="210.4" r="1.5"/>
<circle cx="386.4" cy="221.8" r="1.5"/>
<circle cx="392.2" cy="216.6" r="1.5"/>
<circle cx="382.4" cy="212.0" r="1.5"/>
<circle cx="395.3" cy="205.8" r="1.5"/>
<circle cx="394.0" cy="218.7" r="1.5"/>
<circle cx="386.1" cy="211.1" r="1.5"/>
<circle cx="393.9" cy="219.5" r="1.5"/>
<circle cx="386.4" cy="209.7" r="1.5"/>
<circle cx="381.1" cy="214.4" r="1.5"/>
<circle cx="398.0" cy="205.9" r="1.5"/>
<circle cx="397.7" cy="206.7" r="1.5"/>
<circle cx="393.2" cy="216.0" r="1.5"/>
<circle cx="396.0" cy="211.2" r="1.5"/>
<circle cx="382.4" cy="203.9" r="1.5"/>
<circle cx="384.0" cy="213.0" r="1.5"/>
<circle cx="387.4" cy="216.9" r="1.5"/>
<circle cx="402.1" cy="216.1" r="1.5"/>
<circle cx="396.4" cy="210.1" r="1.5"/>
<circle cx="378.8" cy="209.0" r="1.5"/>
<circle cx="391.9" cy="213.6" r="1.5"/>
<circle cx="397.1" cy="218.0" r="1.5"/>
<circle cx="385.0" cy="221.3" r="1.5"/>
<circle cx="394.1" cy="214.2" r="1.5"/>
<circle cx="387.5" cy="217.9" r="1.5"/>
<circle cx="378.4" cy="214.3" r="1.5"/>
<circle cx="386.0" cy="210.3" r="1.5"/>
<circle cx="389.7" cy="216.2" r="1.5"/>
<circle cx="391.8" cy="220.5" r="1.5"/>
<circle cx="386.7" cy="219.5" r="1.5"/>
<circle cx="395.1" cy="211.4" r="1.5"/>
<circle cx="384.0" cy="213.5" r="1.5"/>
<circle cx="384.0" cy="209.1" r="1.5"/>
<circle cx="383.4" cy="211.8" r="1.5"/>
<circle cx="384.1" cy="212.4" r="1.5"/>
<circle cx="387.6" cy="215.4" r="1.5"/>
<circle cx="391.1" cy="207.5" r="1.5"/>
<circle cx="383.9" cy="210.1" r="1.5"/>
<circle cx="392.3" cy="215.2" r="1.5"/>
<circle cx="395.3" cy="210.1" r="1.5"/>
<circle cx="385.2" cy="216.9" r="1.5"/>
<circle cx="391.5" cy="218.6" r="1.5"/>
<circle cx="398.2" cy="213.1" r="1.5"/>
<circle cx="385.1" cy="205.3" r="1.5"/>
<circle cx="383.0" cy="218.9" r="1.5"/>
<circle cx="389.6" cy="220.2" r="1.5"/>
<circle cx="394.0" cy="221.2" r="1.5"/>
<circle cx="384.4" cy="203.7" r="1.5"/>
<circle cx="393.3" cy="219.7" r="1.5"/>
<circle cx="387.1" cy="219.8" r="1.5"/>
<circle cx="392.8" cy="217.3" r="1.5"/>
<circle cx="382.6" cy="213.6" r="1.5"/>
<circle cx="400.1" cy="212.5" r="1.5"/>
<circle cx="404.2" cy="209.7" r="1.5"/>
<circle cx="393.1" cy="212.6" r="1.5"/>
<circle cx="386.1" cy="209.4" r="1.5"/>
<circle cx="391.7" cy="205.5" r="1.5"/>
<circle cx="393.6" cy="216.1" r="1.5"/>
<circle cx="396.0" cy="212.9" r="1.5"/>
<circle cx="384.9" cy="207.6" r="1.5"/>
<circle cx="399.7" cy="207.9" r="1.5"/>
<circle cx="379.8" cy="210.5" r="1.5"/>
<circle cx="381.9" cy="212.5" r="1.5"/>
<circle cx="384.3" cy="211.6" r="1.5"/>
<circle cx="382.3" cy="208.4" r="1.5"/>
<circle cx="382.6" cy="218.4" r="1.5"/>
<circle cx="391.6" cy="218.1" r="1.5"/>
<circle cx="384.6" cy="209.9" r="1.5"/>
<circle cx="385.5" cy="219.3" r="1.5"/>
<circle cx="393.8" cy="207.5" r="1.5"/>
<circle cx="391.1" cy="220.1" r="1.5"/>
<circle cx="386.2" cy="221.5" r="1.5"/>
<circle cx="386.5" cy="215.5" r="1.5"/>
<circle cx="384.5" cy="209.3" r="1.5"/>
<circle cx="383.5" cy="211.8" r="1.5"/>
<circle cx="395.2" cy="218.9" r="1.5"/>
<circle cx="394.4" cy="215.9" r="1.5"/>
<circle cx="390.8" cy="220.6" r="1.5"/>
<circle cx="380.3" cy="206.7" r="1.5"/>
<circle cx="375.9" cy="211.9" r="1.5"/>
<circle cx="384.2" cy="214.5" r="1.5"/>
<circle cx="394.9" cy="215.7" r="1.5"/>
<circle cx="393.6" cy="212.2" r="1.5"/>
<circle cx="396.3" cy="216.6" r="1.5"/>
<circle cx="390.0" cy="215.9" r="1.5"/>
<circle cx="377.6" cy="212.1" r="1.5"/>
<circle cx="387.9" cy="221.1" r="1.5"/>
<circle cx="396.6" cy="207.8" r="1.5"/>
<circle cx="384.9" cy="208.5" r="1.5"/>
<circle cx="381.0" cy="204.6" r="1.5"/>
<circle cx="394.8" cy="213.1" r="1.5"/>
<circle cx="394.5" cy="220.0" r="1.5"/>
<circle cx="379.2" cy="218.8" r="1.5"/>
<circle cx="386.3" cy="219.1" r="1.5"/>
<circle cx="395.8" cy="217.9" r="1.5"/>
<circle cx="381.8" cy="212.6" r="1.5"/>
<circle cx="386.0" cy="204.2" r="1.5"/>
<circle cx="390.4" cy="221.1" r="1.5"/>
<circle cx="394.3" cy="212.2" r="1.5"/>
<circle cx="382.5" cy="204.5" r="1.5"/>
<circle cx="390.6" cy="214.4" r="1.5"/>
<circle cx="394.4" cy="217.9" r="1.5"/>
<circle cx="392.5" cy="208.7" r="1.5"/>
<circle cx="378.4" cy="217.9" r="1.5"/>
<circle cx="393.8" cy="217.9" r="1.5"/>
<circle cx="391.4" cy="218.9" r="1.5"/>
<circle cx="385.7" cy="209.7" r="1.5"/>
<circle cx="394.0" cy="217.7" r="1.5"/>
<circle cx="396.9" cy="217.8" r="1.5"/>
<circle cx="394.3" cy="209.6" r="1.5"/>
<circle cx="394.3" cy="219.9" r="1.5"/>
<circle cx="378.0" cy="212.9" r="1.5"/>
<circle cx="391.9" cy="204.7" r="1.5"/>
<circle cx="379.7" cy="219.1" r="1.5"/>
<circle cx="377.8" cy="206.9" r="1.5"/>
<circle cx="385.2" cy="205.9" r="1.5"/>
<circle cx="381.6" cy="212.6" r="1.5"/>
<circle cx="383.1" cy="217.1" r="1.5"/>
<circle cx="391.2" cy="209.1" r="1.5"/>
<circle cx="392.3" cy="204.8" r="1.5"/>
<circle cx="383.2" cy="215.6" r="1.5"/>
<circle cx="388.0" cy="219.8" r="1.5"/>
<circle cx="386.8" cy="221.0" r="1.5"/>
<circle cx="380.2" cy="212.7" r="1.5"/>
<circle cx="399.4" cy="211.1" r="1.5"/>
<circle cx="387.3" cy="214.9" r="1.5"/>
<circle cx="386.9" cy="214.8" r="1.5"/>
<circle cx="382.5" cy="219.1" r="1.5"/>
<circle cx="395.0" cy="219.7" r="1.5"/>
<circle cx="390.8" cy="220.9" r="1.5"/>
<circle cx="385.9" cy="204.6" r="1.5"/>
<circle cx="381.7" cy="213.8" r="1.5"/>
<circle cx="384.7" cy="210.0" r="1.5"/>
<circle cx="385.9" cy="204.4" r="1.5"/>
<circle cx="383.4" cy="218.6" r="1.5"/>
<circle cx="379.8" cy="207.0" r="1.5"/>
<circle cx="384.9" cy="214.9" r="1.5"/>
<circle cx="384.1" cy="215.4" r="1.5"/>
<circle cx="396.1" cy="216.0" r="1.5"/>
<circle cx="384.2" cy="216.0" r="1.5"/>
<circle cx="394.5" cy="213.0" r="1.5"/>
<circle cx="382.4" cy="205.7" r="1.5"/>
<circle cx="390.2" cy="220.5" r="1.5"/>
<circle cx="393.4" cy="205.7" r="1.5"/>
<circle cx="392.1" cy="205.5" r="1.5"/>
<circle cx="385.4" cy="220.4" r="1.5"/>
<circle cx="384.6" cy="206.2" r="1.5"/>
<circle cx="385.6" cy="216.9" r="1.5"/>
<circle cx="386.2" cy="208.7" r="1.5"/>
<circle cx="391.7" cy="216.9" r="1.5"/>
<circle cx="394.2" cy="205.9" r="1.5"/>
<circle cx="386.2" cy="218.3" r="1.5"/>
<circle cx="375.7" cy="208.6" r="1.5"/>
<circle cx="389.7" cy="220.1" r="1.5"/>
<circle cx="386.5" cy="215.8" r="1.5"/>
<circle cx="392.9" cy="218.0" r="1.5"/>
<circle cx="405.5" cy="211.8" r="1.5"/>
<circle cx="390.2" cy="221.6" r="1.5"/>
<circle cx="382.0" cy="218.8" r="1.5"/>
<circle cx="390.8" cy="222.1" r="1.5"/>
<circle cx="381.9" cy="213.5" r="1.5"/>
<circle cx="384.9" cy="215.9" r="1.5"/>
<circle cx="388.7" cy="221.5" r="1.5"/>
<circle cx="384.4" cy="205.1" r="1.5"/>
<circle cx="384.4" cy="216.0" r="1.5"/>
<circle cx="392.6" cy="216.4" r="1.5"/>
<circle cx="391.9" cy="217.8" r="1.5"/>
<circle cx="383.7" cy="203.7" r="1.5"/>
<circle cx="403.8" cy="211.8" r="1.5"/>
<circle cx="385.9" cy="205.5" r="1.5"/>
<circle cx="391.5" cy="218.5" r="1.5"/>
<circle cx="393.7" cy="207.8" r="1.5"/>
<circle cx="393.0" cy="211.4" r="1.5"/>
<circle cx="385.6" cy="216.7" r="1.5"/>
<circle cx="385.0" cy="208.0" r="1.5"/>
<circle cx="381.7" cy="209.6" r="1.5"/>
<circle cx="392.3" cy="206.9" r="1.5"/>
<circle cx="394.5" cy="212.7" r="1.5"/>
<circle cx="387.8" cy="221.0" r="1.5"/>
<circle cx="374.7" cy="205.8" r="1.5"/>
<circle cx="385.5" cy="219.9" r="1.5"/>
<circle cx="394.5" cy="213.7" r="1.5"/>
<circle cx="383.6" cy="203.8" r="1.5"/>
<circle cx="382.3" cy="214.1" r="1.5"/>
<circle cx="390.4" cy="213.5" r="1.5"/>
<circle cx="383.4" cy="218.5" r="1.5"/>
<circle cx="396.7" cy="215.4" r="1.5"/>
<circle cx="392.5" cy="214.1" r="1.5"/>
<circle cx="396.2" cy="207.2" r="1.5"/>
<circle cx="395.1" cy="205.5" r="1.5"/>
<circle cx="394.1" cy="215.4" r="1.5"/>
<circle cx="383.8" cy="208.2" r="1.5"/>
<circle cx="386.2" cy="209.5" r="1.5"/>
<circle cx="390.3" cy="219.3" r="1.5"/>
<circle cx="405.7" cy="205.6" r="1.5"/>
<circle cx="387.1" cy="217.5" r="1.5"/>
<circle cx="385.5" cy="208.7" r="1.5"/>
<circle cx="394.7" cy="205.6" r="1.5"/>
<circle cx="396.8" cy="216.0" r="1.5"/>
<circle cx="386.0" cy="216.3" r="1.5"/>
<circle cx="393.0" cy="218.1" r="1.5"/>
<circle cx="398.4" cy="214.8" r="1.5"/>
<circle cx="382.3" cy="216.0" r="1.5"/>
<circle cx="403.9" cy="208.5" r="1.5"/>
<circle cx="392.5" cy="206.3" r="1.5"/>
<circle cx="406.5" cy="212.3" r="1.5"/>
<circle cx="379.6" cy="207.5" r="1.5"/>
<circle cx="381.5" cy="209.4" r="1.5"/>
<circle cx="400.0" cy="209.7" r="1.5"/>
<circle cx="379.3" cy="210.4" r="1.5"/>
<circle cx="382.2" cy="204.1" r="1.5"/>
<circle cx="404.8" cy="204.9" r="1.5"/>
<circle cx="402.3" cy="217.5" r="1.5"/>
<circle cx="398.1" cy="209.2" r="1.5"/>
<circle cx="387.2" cy="215.4" r="1.5"/>
<circle cx="378.6" cy="204.2" r="1.5"/>
<circle cx="392.9" cy="214.3" r="1.5"/>
<circle cx="382.8" cy="208.3" r="1.5"/>
<circle cx="393.2" cy="219.4" r="1.5"/>
<circle cx="375.2" cy="213.5" r="1.5"/>
<circle cx="396.0" cy="220.2" r="1.5"/>
<circle cx="394.2" cy="203.6" r="1.5"/>
<circle cx="373.7" cy="211.3" r="1.5"/>
<circle cx="381.2" cy="214.2" r="1.5"/>
<circle cx="375.6" cy="217.9" r="1.5"/>
<circle cx="380.8" cy="218.1" r="1.5"/>
<circle cx="379.8" cy="204.7" r="1.5"/>
<circle cx="390.8" cy="221.2" r="1.5"/>
<circle cx="386.9" cy="212.3" r="1.5"/>
<circle cx="393.0" cy="208.3" r="1.5"/>
<circle cx="385.2" cy="214.2" r="1.5"/>
<circle cx="384.6" cy="219.3" r="1.5"/>
<circle cx="382.7" cy="205.7" r="1.5"/>
<circle cx="380.4" cy="210.5" r="1.5"/>
<circle cx="401.0" cy="205.3" r="1.5"/>
<circle cx="396.3" cy="213.3" r="1.5"/>
<circle cx="395.8" cy="204.3" r="1.5"/>
<circle cx="396.3" cy="206.5" r="1.5"/>
<circle cx="397.2" cy="216.3" r="1.5"/>
<circle cx="376.8" cy="208.5" r="1.5"/>
<circle cx="391.6" cy="205.5" r="1.5"/>
<circle cx="383.7" cy="207.4" r="1.5"/>
<circle cx="402.9" cy="209.1" r="1.5"/>
<circle cx="382.4" cy="209.4" r="1.5"/>
<circle cx="381.7" cy="210.5" r="1.5"/>
<circle cx="382.7" cy="217.5" r="1.5"/>
<circle cx="401.2" cy="216.7" r="1.5"/>
<circle cx="393.5" cy="211.1" r="1.5"/>
<circle cx="383.4" cy="213.6" r="1.5"/>
<circle cx="379.8" cy="217.4" r="1.5"/>
<circle cx="382.6" cy="219.8" r="1.5"/>
<circle cx="382.4" cy="209.6" r="1.5"/>
<circle cx="379.8" cy="208.6" r="1.5"/>
<circle cx="388.6" cy="222.0" r="1.5"/>
<circle cx="385.5" cy="212.3" r="1.5"/>
<circle cx="404.3" cy="213.4" r="1.5"/>
<circle cx="402.9" cy="216.6" r="1.5"/>
<circle cx="382.8" cy="206.3" r="1.5"/>
<circle cx="386.6" cy="218.2" r="1.5"/>
<circle cx="385.1" cy="210.9" r="1.5"/>
<circle cx="396.4" cy="205.6" r="1.5"/>
<circle cx="393.3" cy="219.8" r="1.5"/>
<circle cx="385.6" cy="220.7" r="1.5"/>
<circle cx="382.2" cy="216.1" r="1.5"/>
<circle cx="383.5" cy="208.2" r="1.5"/>
<circle cx="381.4" cy="206.3" r="1.5"/>
<circle cx="401.2" cy="215.4" r="1.5"/>
<circle cx="385.8" cy="221.4" r="1.5"/>
<circle cx="383.6" cy="216.5" r="1.5"/>
<circle cx="381.1" cy="219.0" r="1.5"/>
<circle cx="406.7" cy="213.7" r="1.5"/>
<circle cx="385.2" cy="217.3" r="1.5"/>
<circle cx="397.3" cy="217.6" r="1.5"/>
<circle cx="380.8" cy="208.2" r="1.5"/>
<circle cx="397.6" cy="209.6" r="1.5"/>
<circle cx="397.4" cy="207.8" r="1.5"/>
<circle cx="398.3" cy="217.0" r="1.5"/>
<circle cx="390.1" cy="218.7" r="1.5"/>
<circle cx="400.2" cy="218.1" r="1.5"/>
<circle cx="390.1" cy="218.0" r="1.5"/>
<circle cx="390.5" cy="220.7" r="1.5"/>
<circle cx="396.2" cy="210.1" r="1.5"/>
<circle cx="385.7" cy="213.5" r="1.5"/>
<circle cx="395.3" cy="212.8" r="1.5"/>
<circle cx="386.6" cy="208.9" r="1.5"/>
<circle cx="400.6" cy="209.5" r="1.5"/>
<circle cx="378.4" cy="214.5" r="1.5"/>
<circle cx="394.4" cy="205.5" r="1.5"/>
<circle cx="395.7" cy="216.6" r="1.5"/>
<circle cx="392.3" cy="211.9" r="1.5"/>
<circle cx="388.4" cy="220.0" r="1.5"/>
<circle cx="399.8" cy="218.9" r="1.5"/>
<circle cx="412.7" cy="204.8" r="1.5"/>
<circle cx="377.7" cy="204.4" r="1.5"/>
<circle cx="394.6" cy="219.6" r="1.5"/>
<circle cx="375.9" cy="207.9" r="1.5"/>
<circle cx="392.4" cy="214.7" r="1.5"/>
<circle cx="383.8" cy="209.6" r="1.5"/>
<circle cx="406.7" cy="207.4" r="1.5"/>
<circle cx="396.6" cy="214.7" r="1.5"/>
<circle cx="398.5" cy="209.8" r="1.5"/>
<circle cx="396.5" cy="219.4" r="1.5"/>
<circle cx="396.5" cy="210.6" r="1.5"/>
<circle cx="408.2" cy="205.4" r="1.5"/>
<circle cx="387.6" cy="217.9" r="1.5"/>
<circle cx="406.0" cy="204.2" r="1.5"/>
<circle cx="392.8" cy="218.3" r="1.5"/>
<circle cx="382.0" cy="208.6" r="1.5"/>
<circle cx="373.4" cy="205.1" r="1.5"/>
<circle cx="410.3" cy="204.0" r="1.5"/>
<circle cx="370.5" cy="205.2" r="1.5"/>
<circle cx="393.2" cy="216.3" r="1.5"/>
<circle cx="395.8" cy="220.0" r="1.5"/>
<circle cx="400.6" cy="206.4" r="1.5"/>
<circle cx="391.8" cy="209.8" r="1.5"/>
<circle cx="379.4" cy="208.3" r="1.5"/>
<circle cx="389.6" cy="220.0" r="1.5"/>
<circle cx="401.6" cy="210.7" r="1.5"/>
<circle cx="384.3" cy="217.6" r="1.5"/>
<circle cx="386.2" cy="212.4" r="1.5"/>
<circle cx="392.0" cy="214.2" r="1.5"/>
<circle cx="393.7" cy="205.4" r="1.5"/>
<circle cx="392.1" cy="212.9" r="1.5"/>
<circle cx="387.1" cy="221.0" r="1.5"/>
<circle cx="390.2" cy="215.8" r="1.5"/>
<circle cx="396.7" cy="215.9" r="1.5"/>
<circle cx="391.8" cy="218.1" r="1.5"/>
<circle cx="380.9" cy="204.1" r="1.5"/>
<circle cx="381.3" cy="206.6" r="1.5"/>
<circle cx="389.8" cy="221.3" r="1.5"/>
<circle cx="393.2" cy="219.7" r="1.5"/>
<circle cx="394.6" cy="220.6" r="1.5"/>
<circle cx="405.3" cy="204.6" r="1.5"/>
<circle cx="396.8" cy="212.1" r="1.5"/>
<circle cx="437.3" cy="207.3" r="1.5"/>
<circle cx="448.9" cy="210.8" r="1.5"/>
<circle cx="368.8" cy="205.0" r="1.5"/>
<circle cx="364.9" cy="216.5" r="1.5"/>
</g>
<g class="pk">
<circle cx="380.8" cy="202.6" r="1.35"/>
<circle cx="384.7" cy="198.2" r="1.35"/>
<circle cx="383.5" cy="198.3" r="1.35"/>
<circle cx="382.8" cy="199.3" r="1.35"/>
<circle cx="383.2" cy="196.1" r="1.35"/>
<circle cx="384.4" cy="189.0" r="1.35"/>
<circle cx="381.6" cy="188.6" r="1.35"/>
<circle cx="385.3" cy="202.9" r="1.35"/>
<circle cx="385.4" cy="181.9" r="1.35"/>
<circle cx="386.4" cy="194.8" r="1.35"/>
<circle cx="385.9" cy="190.2" r="1.35"/>
<circle cx="382.4" cy="161.5" r="1.35"/>
<circle cx="383.4" cy="173.2" r="1.35"/>
<circle cx="383.9" cy="198.6" r="1.35"/>
<circle cx="385.7" cy="183.3" r="1.35"/>
<circle cx="383.2" cy="184.8" r="1.35"/>
<circle cx="385.6" cy="200.1" r="1.35"/>
<circle cx="386.1" cy="203.4" r="1.35"/>
<circle cx="386.4" cy="199.7" r="1.35"/>
<circle cx="384.0" cy="194.0" r="1.35"/>
<circle cx="385.5" cy="166.7" r="1.35"/>
<circle cx="383.5" cy="202.5" r="1.35"/>
<circle cx="384.6" cy="191.6" r="1.35"/>
<circle cx="384.2" cy="192.2" r="1.35"/>
<circle cx="382.9" cy="185.6" r="1.35"/>
<circle cx="381.3" cy="196.0" r="1.35"/>
<circle cx="380.4" cy="202.3" r="1.35"/>
<circle cx="383.3" cy="162.2" r="1.35"/>
<circle cx="385.6" cy="189.6" r="1.35"/>
<circle cx="384.9" cy="196.6" r="1.35"/>
<circle cx="380.3" cy="202.0" r="1.35"/>
<circle cx="385.0" cy="203.4" r="1.35"/>
<circle cx="385.5" cy="185.5" r="1.35"/>
<circle cx="382.4" cy="190.5" r="1.35"/>
<circle cx="384.0" cy="175.0" r="1.35"/>
<circle cx="385.3" cy="194.1" r="1.35"/>
<circle cx="386.1" cy="202.3" r="1.35"/>
<circle cx="382.8" cy="180.1" r="1.35"/>
<circle cx="378.5" cy="195.7" r="1.35"/>
<circle cx="383.7" cy="186.4" r="1.35"/>
<circle cx="383.2" cy="198.5" r="1.35"/>
<circle cx="386.0" cy="194.4" r="1.35"/>
<circle cx="385.1" cy="200.7" r="1.35"/>
<circle cx="385.7" cy="195.4" r="1.35"/>
<circle cx="384.8" cy="201.5" r="1.35"/>
<circle cx="384.4" cy="200.5" r="1.35"/>
<circle cx="382.1" cy="202.1" r="1.35"/>
<circle cx="382.5" cy="193.5" r="1.35"/>
<circle cx="384.3" cy="202.5" r="1.35"/>
<circle cx="382.3" cy="186.2" r="1.35"/>
<circle cx="386.1" cy="200.8" r="1.35"/>
<circle cx="382.6" cy="198.5" r="1.35"/>
<circle cx="384.9" cy="169.4" r="1.35"/>
<circle cx="381.7" cy="200.6" r="1.35"/>
<circle cx="384.7" cy="203.1" r="1.35"/>
<circle cx="382.3" cy="189.7" r="1.35"/>
<circle cx="383.3" cy="196.9" r="1.35"/>
<circle cx="382.0" cy="197.3" r="1.35"/>
<circle cx="384.6" cy="183.8" r="1.35"/>
<circle cx="384.9" cy="201.3" r="1.35"/>
<circle cx="386.4" cy="185.7" r="1.35"/>
<circle cx="381.1" cy="190.4" r="1.35"/>
<circle cx="385.2" cy="192.2" r="1.35"/>
<circle cx="384.5" cy="160.0" r="1.35"/>
<circle cx="385.7" cy="199.0" r="1.35"/>
<circle cx="383.9" cy="201.3" r="1.35"/>
<circle cx="383.5" cy="193.3" r="1.35"/>
<circle cx="385.8" cy="197.6" r="1.35"/>
<circle cx="384.3" cy="188.3" r="1.35"/>
<circle cx="379.9" cy="200.8" r="1.35"/>
<circle cx="373.4" cy="196.8" r="1.35"/>
<circle cx="379.7" cy="202.7" r="1.35"/>
<circle cx="380.3" cy="201.7" r="1.35"/>
<circle cx="364.8" cy="203.1" r="1.35"/>
<circle cx="376.4" cy="184.4" r="1.35"/>
<circle cx="381.1" cy="166.4" r="1.35"/>
<circle cx="375.7" cy="185.9" r="1.35"/>
<circle cx="378.8" cy="193.7" r="1.35"/>
<circle cx="383.4" cy="200.7" r="1.35"/>
<circle cx="380.9" cy="197.1" r="1.35"/>
<circle cx="386.3" cy="193.8" r="1.35"/>
<circle cx="370.2" cy="199.4" r="1.35"/>
<circle cx="385.3" cy="186.1" r="1.35"/>
<circle cx="371.5" cy="180.7" r="1.35"/>
<circle cx="375.7" cy="199.6" r="1.35"/>
<circle cx="377.1" cy="202.5" r="1.35"/>
<circle cx="377.6" cy="188.9" r="1.35"/>
<circle cx="385.5" cy="182.4" r="1.35"/>
<circle cx="377.6" cy="173.8" r="1.35"/>
<circle cx="370.2" cy="201.3" r="1.35"/>
<circle cx="392.4" cy="190.5" r="1.35"/>
<circle cx="408.5" cy="195.9" r="1.35"/>
<circle cx="408.8" cy="185.2" r="1.35"/>
<circle cx="400.9" cy="174.8" r="1.35"/>
<circle cx="407.0" cy="200.0" r="1.35"/>
<circle cx="398.0" cy="194.6" r="1.35"/>
<circle cx="394.4" cy="194.6" r="1.35"/>
<circle cx="402.4" cy="192.0" r="1.35"/>
<circle cx="395.6" cy="201.7" r="1.35"/>
<circle cx="402.5" cy="196.6" r="1.35"/>
<circle cx="404.2" cy="159.5" r="1.35"/>
<circle cx="409.2" cy="202.6" r="1.35"/>
<circle cx="392.3" cy="189.7" r="1.35"/>
<circle cx="397.3" cy="198.7" r="1.35"/>
<circle cx="398.0" cy="200.3" r="1.35"/>
<circle cx="421.3" cy="186.5" r="1.35"/>
<circle cx="405.3" cy="200.0" r="1.35"/>
<circle cx="401.4" cy="197.9" r="1.35"/>
<circle cx="393.7" cy="201.5" r="1.35"/>
<circle cx="405.0" cy="200.8" r="1.35"/>
<circle cx="401.1" cy="201.8" r="1.35"/>
<circle cx="423.2" cy="185.4" r="1.35"/>
<circle cx="405.8" cy="184.2" r="1.35"/>
<circle cx="402.4" cy="202.1" r="1.35"/>
<circle cx="399.5" cy="198.2" r="1.35"/>
<circle cx="411.0" cy="176.4" r="1.35"/>
<circle cx="404.8" cy="199.1" r="1.35"/>
<circle cx="405.1" cy="196.0" r="1.35"/>
<circle cx="400.4" cy="198.7" r="1.35"/>
<circle cx="407.3" cy="190.0" r="1.35"/>
<circle cx="397.8" cy="175.8" r="1.35"/>
<circle cx="402.1" cy="191.6" r="1.35"/>
<circle cx="391.7" cy="201.8" r="1.35"/>
<circle cx="417.2" cy="174.1" r="1.35"/>
<circle cx="399.0" cy="190.4" r="1.35"/>
<circle cx="394.4" cy="189.6" r="1.35"/>
<circle cx="408.4" cy="182.2" r="1.35"/>
<circle cx="409.3" cy="193.6" r="1.35"/>
<circle cx="392.5" cy="200.1" r="1.35"/>
<circle cx="393.5" cy="184.0" r="1.35"/>
<circle cx="417.9" cy="192.8" r="1.35"/>
<circle cx="405.2" cy="192.5" r="1.35"/>
<circle cx="403.6" cy="198.3" r="1.35"/>
<circle cx="393.1" cy="203.5" r="1.35"/>
<circle cx="399.5" cy="194.5" r="1.35"/>
<circle cx="407.6" cy="196.6" r="1.35"/>
<circle cx="398.0" cy="196.4" r="1.35"/>
<circle cx="398.9" cy="191.5" r="1.35"/>
<circle cx="398.4" cy="199.6" r="1.35"/>
<circle cx="410.8" cy="197.7" r="1.35"/>
<circle cx="407.1" cy="161.0" r="1.35"/>
<circle cx="410.7" cy="191.6" r="1.35"/>
<circle cx="401.1" cy="199.6" r="1.35"/>
<circle cx="402.4" cy="191.5" r="1.35"/>
<circle cx="404.5" cy="200.3" r="1.35"/>
<circle cx="399.9" cy="194.7" r="1.35"/>
<circle cx="397.5" cy="203.0" r="1.35"/>
<circle cx="398.7" cy="191.4" r="1.35"/>
<circle cx="398.8" cy="166.7" r="1.35"/>
<circle cx="407.3" cy="172.5" r="1.35"/>
<circle cx="400.9" cy="182.7" r="1.35"/>
<circle cx="392.7" cy="199.5" r="1.35"/>
<circle cx="408.8" cy="183.5" r="1.35"/>
<circle cx="406.6" cy="197.2" r="1.35"/>
<circle cx="401.7" cy="196.5" r="1.35"/>
<circle cx="407.3" cy="201.0" r="1.35"/>
<circle cx="395.9" cy="197.7" r="1.35"/>
<circle cx="405.5" cy="201.5" r="1.35"/>
<circle cx="395.6" cy="202.8" r="1.35"/>
<circle cx="416.4" cy="182.2" r="1.35"/>
<circle cx="410.9" cy="188.4" r="1.35"/>
<circle cx="411.6" cy="200.7" r="1.35"/>
<circle cx="392.2" cy="191.8" r="1.35"/>
<circle cx="402.8" cy="199.9" r="1.35"/>
<circle cx="414.6" cy="195.4" r="1.35"/>
<circle cx="413.4" cy="187.7" r="1.35"/>
<circle cx="410.7" cy="196.2" r="1.35"/>
<circle cx="401.8" cy="198.3" r="1.35"/>
<circle cx="403.2" cy="203.1" r="1.35"/>
<circle cx="399.8" cy="202.7" r="1.35"/>
<circle cx="408.2" cy="202.5" r="1.35"/>
<circle cx="403.6" cy="193.1" r="1.35"/>
<circle cx="405.1" cy="181.7" r="1.35"/>
<circle cx="394.6" cy="197.8" r="1.35"/>
<circle cx="407.3" cy="200.2" r="1.35"/>
<circle cx="400.3" cy="193.1" r="1.35"/>
<circle cx="392.8" cy="191.5" r="1.35"/>
<circle cx="394.6" cy="200.9" r="1.35"/>
<circle cx="401.8" cy="196.1" r="1.35"/>
<circle cx="397.8" cy="194.5" r="1.35"/>
<circle cx="403.8" cy="198.4" r="1.35"/>
<circle cx="397.2" cy="194.7" r="1.35"/>
<circle cx="406.1" cy="203.4" r="1.35"/>
<circle cx="416.7" cy="203.1" r="1.35"/>
<circle cx="405.9" cy="174.7" r="1.35"/>
<circle cx="397.4" cy="187.9" r="1.35"/>
<circle cx="395.9" cy="199.1" r="1.35"/>
<circle cx="398.7" cy="195.5" r="1.35"/>
<circle cx="399.1" cy="195.1" r="1.35"/>
<circle cx="396.6" cy="201.7" r="1.35"/>
<circle cx="406.0" cy="200.1" r="1.35"/>
<circle cx="408.4" cy="200.9" r="1.35"/>
<circle cx="395.3" cy="186.5" r="1.35"/>
<circle cx="394.4" cy="176.1" r="1.35"/>
<circle cx="397.9" cy="199.0" r="1.35"/>
<circle cx="408.5" cy="188.3" r="1.35"/>
<circle cx="413.8" cy="195.9" r="1.35"/>
<circle cx="405.6" cy="198.4" r="1.35"/>
<circle cx="408.5" cy="203.5" r="1.35"/>
<circle cx="396.6" cy="194.1" r="1.35"/>
<circle cx="393.9" cy="200.5" r="1.35"/>
<circle cx="406.9" cy="175.6" r="1.35"/>
<circle cx="410.0" cy="196.0" r="1.35"/>
<circle cx="397.8" cy="170.8" r="1.35"/>
<circle cx="400.0" cy="202.2" r="1.35"/>
<circle cx="399.9" cy="186.9" r="1.35"/>
<circle cx="399.2" cy="197.9" r="1.35"/>
<circle cx="403.0" cy="176.4" r="1.35"/>
<circle cx="405.0" cy="200.2" r="1.35"/>
<circle cx="405.3" cy="198.7" r="1.35"/>
<circle cx="404.8" cy="198.3" r="1.35"/>
<circle cx="399.3" cy="199.4" r="1.35"/>
<circle cx="394.0" cy="199.7" r="1.35"/>
<circle cx="414.3" cy="194.9" r="1.35"/>
<circle cx="391.6" cy="198.5" r="1.35"/>
</g>
<line x1="316.2" y1="203.58" x2="461.9" y2="203.58" class="th"/>
<line x1="386.77" y1="153" x2="386.77" y2="224.6" class="th"/>
<line x1="390.83" y1="153" x2="390.83" y2="224.6" class="th"/>
<path d="M316.2,153 V224.6 H461.9" fill="none" stroke="#111" stroke-width="1.5"/>
<line x1="313.2" y1="222.30" x2="316.2" y2="222.30" stroke="#111" stroke-width="1"/>
<text x="310.6" y="225.1" font-size="7.9" text-anchor="end" fill="#1a1a1a" stroke="#1a1a1a" stroke-width="0.15">0</text>
<line x1="313.2" y1="207.90" x2="316.2" y2="207.90" stroke="#111" stroke-width="1"/>
<text x="310.6" y="210.7" font-size="7.9" text-anchor="end" fill="#1a1a1a" stroke="#1a1a1a" stroke-width="0.15">1</text>
<line x1="313.2" y1="193.50" x2="316.2" y2="193.50" stroke="#111" stroke-width="1"/>
<text x="310.6" y="196.3" font-size="7.9" text-anchor="end" fill="#1a1a1a" stroke="#1a1a1a" stroke-width="0.15">2</text>
<line x1="313.2" y1="179.10" x2="316.2" y2="179.10" stroke="#111" stroke-width="1"/>
<text x="310.6" y="181.9" font-size="7.9" text-anchor="end" fill="#1a1a1a" stroke="#1a1a1a" stroke-width="0.15">3</text>
<line x1="313.2" y1="164.70" x2="316.2" y2="164.70" stroke="#111" stroke-width="1"/>
<text x="310.6" y="167.5" font-size="7.9" text-anchor="end" fill="#1a1a1a" stroke="#1a1a1a" stroke-width="0.15">4</text>
<line x1="350.30" y1="224.6" x2="350.30" y2="227.6" stroke="#111" stroke-width="1"/>
<text x="350.3" y="237.2" font-size="7.9" text-anchor="middle" fill="#1a1a1a" stroke="#1a1a1a" stroke-width="0.15">–5</text>
<line x1="388.80" y1="224.6" x2="388.80" y2="227.6" stroke="#111" stroke-width="1"/>
<text x="388.8" y="237.2" font-size="7.9" text-anchor="middle" fill="#1a1a1a" stroke="#1a1a1a" stroke-width="0.15">0</text>
<line x1="427.30" y1="224.6" x2="427.30" y2="227.6" stroke="#111" stroke-width="1"/>
<text x="427.3" y="237.2" font-size="7.9" text-anchor="middle" fill="#1a1a1a" stroke="#1a1a1a" stroke-width="0.15">5</text>
<text x="389.2" y="146.2" font-size="10.3" text-anchor="middle" fill="#111" textLength="36.5" lengthAdjust="spacingAndGlyphs" stroke="#111" stroke-width="0.2">PC vs PR</text>
<text x="385.2" y="249.4" font-size="9.2" text-anchor="middle" fill="#1a1a1a" textLength="42.3" lengthAdjust="spacingAndGlyphs" stroke="#1a1a1a" stroke-width="0.15">log2 (PC/PR)</text>
<text transform="translate(298.9,189.5) rotate(-90)" x="0" y="0" font-size="9.2" text-anchor="middle" fill="#1a1a1a" stroke="#1a1a1a" stroke-width="0.15" textLength="53" lengthAdjust="spacingAndGlyphs">-log10 (p-value)</text>
<g class="bk">
<circle cx="186.6" cy="342.0" r="1.5"/>
<circle cx="156.2" cy="345.3" r="1.5"/>
<circle cx="163.6" cy="342.6" r="1.5"/>
<circle cx="163.5" cy="344.5" r="1.5"/>
<circle cx="167.9" cy="342.5" r="1.5"/>
<circle cx="155.9" cy="343.3" r="1.5"/>
<circle cx="155.2" cy="346.4" r="1.5"/>
<circle cx="155.2" cy="344.9" r="1.5"/>
<circle cx="158.6" cy="342.8" r="1.5"/>
<circle cx="170.7" cy="343.2" r="1.5"/>
<circle cx="154.8" cy="343.5" r="1.5"/>
<circle cx="189.3" cy="342.7" r="1.5"/>
<circle cx="177.8" cy="343.3" r="1.5"/>
<circle cx="156.3" cy="345.3" r="1.5"/>
<circle cx="160.7" cy="348.3" r="1.5"/>
<circle cx="159.1" cy="344.9" r="1.5"/>
<circle cx="170.5" cy="346.6" r="1.5"/>
<circle cx="158.9" cy="344.1" r="1.5"/>
<circle cx="177.5" cy="342.4" r="1.5"/>
<circle cx="152.8" cy="347.3" r="1.5"/>
<circle cx="153.3" cy="340.5" r="1.5"/>
<circle cx="150.0" cy="340.4" r="1.5"/>
<circle cx="157.6" cy="348.7" r="1.5"/>
<circle cx="173.1" cy="347.4" r="1.5"/>
<circle cx="175.2" cy="348.1" r="1.5"/>
<circle cx="178.3" cy="341.5" r="1.5"/>
<circle cx="152.8" cy="347.3" r="1.5"/>
<circle cx="154.1" cy="348.7" r="1.5"/>
<circle cx="145.9" cy="343.9" r="1.5"/>
<circle cx="157.7" cy="344.5" r="1.5"/>
<circle cx="147.3" cy="344.7" r="1.5"/>
<circle cx="173.3" cy="344.4" r="1.5"/>
<circle cx="157.7" cy="349.0" r="1.5"/>
<circle cx="152.1" cy="342.5" r="1.5"/>
<circle cx="162.4" cy="341.0" r="1.5"/>
<circle cx="181.5" cy="344.3" r="1.5"/>
<circle cx="155.3" cy="342.5" r="1.5"/>
<circle cx="149.3" cy="342.5" r="1.5"/>
<circle cx="152.3" cy="346.9" r="1.5"/>
<circle cx="181.6" cy="346.8" r="1.5"/>
<circle cx="159.6" cy="343.6" r="1.5"/>
<circle cx="145.9" cy="345.2" r="1.5"/>
<circle cx="169.4" cy="348.4" r="1.5"/>
<circle cx="164.3" cy="345.5" r="1.5"/>
<circle cx="153.4" cy="347.4" r="1.5"/>
<circle cx="172.9" cy="347.2" r="1.5"/>
<circle cx="151.8" cy="348.1" r="1.5"/>
<circle cx="162.4" cy="341.2" r="1.5"/>
<circle cx="158.3" cy="344.3" r="1.5"/>
<circle cx="152.5" cy="343.9" r="1.5"/>
<circle cx="164.6" cy="340.7" r="1.5"/>
<circle cx="159.6" cy="348.6" r="1.5"/>
<circle cx="178.1" cy="347.1" r="1.5"/>
<circle cx="155.9" cy="346.8" r="1.5"/>
<circle cx="149.1" cy="345.8" r="1.5"/>
<circle cx="143.2" cy="342.1" r="1.5"/>
<circle cx="152.3" cy="345.2" r="1.5"/>
<circle cx="149.9" cy="340.5" r="1.5"/>
<circle cx="165.1" cy="342.2" r="1.5"/>
<circle cx="154.7" cy="343.2" r="1.5"/>
<circle cx="143.2" cy="344.3" r="1.5"/>
<circle cx="154.1" cy="346.3" r="1.5"/>
<circle cx="147.9" cy="342.1" r="1.5"/>
<circle cx="162.9" cy="344.3" r="1.5"/>
<circle cx="158.3" cy="343.4" r="1.5"/>
<circle cx="177.2" cy="342.7" r="1.5"/>
<circle cx="167.8" cy="341.3" r="1.5"/>
<circle cx="160.5" cy="348.2" r="1.5"/>
<circle cx="155.0" cy="346.8" r="1.5"/>
<circle cx="162.6" cy="347.7" r="1.5"/>
<circle cx="163.2" cy="342.7" r="1.5"/>
<circle cx="173.2" cy="345.3" r="1.5"/>
<circle cx="180.6" cy="346.7" r="1.5"/>
<circle cx="149.6" cy="344.3" r="1.5"/>
<circle cx="178.8" cy="341.0" r="1.5"/>
<circle cx="160.1" cy="343.5" r="1.5"/>
<circle cx="147.5" cy="345.4" r="1.5"/>
<circle cx="148.4" cy="345.1" r="1.5"/>
<circle cx="155.0" cy="346.0" r="1.5"/>
<circle cx="150.0" cy="342.9" r="1.5"/>
<circle cx="135.5" cy="345.3" r="1.5"/>
<circle cx="155.5" cy="347.9" r="1.5"/>
<circle cx="183.9" cy="340.3" r="1.5"/>
<circle cx="162.9" cy="347.4" r="1.5"/>
<circle cx="141.5" cy="341.8" r="1.5"/>
<circle cx="155.0" cy="341.0" r="1.5"/>
<circle cx="166.1" cy="344.1" r="1.5"/>
<circle cx="160.2" cy="343.2" r="1.5"/>
<circle cx="163.6" cy="347.9" r="1.5"/>
<circle cx="140.0" cy="344.5" r="1.5"/>
<circle cx="162.7" cy="341.7" r="1.5"/>
<circle cx="157.2" cy="347.3" r="1.5"/>
<circle cx="144.6" cy="343.3" r="1.5"/>
<circle cx="159.0" cy="342.6" r="1.5"/>
<circle cx="160.4" cy="343.0" r="1.5"/>
<circle cx="172.7" cy="345.0" r="1.5"/>
<circle cx="167.7" cy="348.1" r="1.5"/>
<circle cx="151.6" cy="340.7" r="1.5"/>
<circle cx="174.2" cy="343.5" r="1.5"/>
<circle cx="158.3" cy="345.6" r="1.5"/>
<circle cx="157.9" cy="341.6" r="1.5"/>
<circle cx="174.1" cy="347.2" r="1.5"/>
<circle cx="148.9" cy="347.0" r="1.5"/>
<circle cx="162.4" cy="342.6" r="1.5"/>
<circle cx="154.2" cy="342.9" r="1.5"/>
<circle cx="168.1" cy="348.1" r="1.5"/>
<circle cx="191.6" cy="342.6" r="1.5"/>
<circle cx="176.0" cy="341.9" r="1.5"/>
<circle cx="145.0" cy="345.4" r="1.5"/>
<circle cx="160.2" cy="348.6" r="1.5"/>
<circle cx="154.4" cy="345.4" r="1.5"/>
<circle cx="164.6" cy="343.9" r="1.5"/>
<circle cx="165.2" cy="341.0" r="1.5"/>
<circle cx="148.2" cy="347.6" r="1.5"/>
<circle cx="153.7" cy="348.1" r="1.5"/>
<circle cx="167.9" cy="342.1" r="1.5"/>
<circle cx="167.7" cy="341.4" r="1.5"/>
<circle cx="160.0" cy="344.4" r="1.5"/>
<circle cx="151.7" cy="344.5" r="1.5"/>
<circle cx="167.0" cy="343.8" r="1.5"/>
<circle cx="160.6" cy="342.5" r="1.5"/>
<circle cx="169.1" cy="346.8" r="1.5"/>
<circle cx="164.1" cy="341.7" r="1.5"/>
<circle cx="170.6" cy="342.7" r="1.5"/>
<circle cx="166.2" cy="340.4" r="1.5"/>
<circle cx="175.5" cy="346.1" r="1.5"/>
<circle cx="152.4" cy="341.8" r="1.5"/>
<circle cx="162.7" cy="348.7" r="1.5"/>
<circle cx="169.0" cy="348.1" r="1.5"/>
<circle cx="138.6" cy="344.7" r="1.5"/>
<circle cx="168.7" cy="346.1" r="1.5"/>
<circle cx="162.7" cy="342.5" r="1.5"/>
<circle cx="160.2" cy="344.6" r="1.5"/>
<circle cx="171.6" cy="343.8" r="1.5"/>
<circle cx="159.9" cy="340.6" r="1.5"/>
<circle cx="162.2" cy="348.8" r="1.5"/>
<circle cx="167.4" cy="343.1" r="1.5"/>
<circle cx="141.4" cy="341.9" r="1.5"/>
<circle cx="147.0" cy="342.1" r="1.5"/>
<circle cx="169.2" cy="342.1" r="1.5"/>
<circle cx="161.8" cy="344.7" r="1.5"/>
<circle cx="172.9" cy="346.0" r="1.5"/>
<circle cx="161.6" cy="346.8" r="1.5"/>
<circle cx="156.9" cy="344.2" r="1.5"/>
<circle cx="153.5" cy="346.7" r="1.5"/>
<circle cx="141.9" cy="344.7" r="1.5"/>
<circle cx="143.7" cy="344.5" r="1.5"/>
<circle cx="173.7" cy="342.7" r="1.5"/>
<circle cx="162.4" cy="345.6" r="1.5"/>
<circle cx="157.0" cy="348.2" r="1.5"/>
<circle cx="168.0" cy="347.1" r="1.5"/>
<circle cx="153.4" cy="340.3" r="1.5"/>
<circle cx="155.4" cy="342.1" r="1.5"/>
<circle cx="159.3" cy="344.5" r="1.5"/>
<circle cx="165.7" cy="344.4" r="1.5"/>
<circle cx="164.0" cy="345.9" r="1.5"/>
<circle cx="161.7" cy="346.8" r="1.5"/>
<circle cx="173.0" cy="347.5" r="1.5"/>
<circle cx="157.7" cy="340.8" r="1.5"/>
<circle cx="158.0" cy="349.1" r="1.5"/>
<circle cx="148.7" cy="342.4" r="1.5"/>
<circle cx="156.8" cy="343.4" r="1.5"/>
<circle cx="144.7" cy="341.5" r="1.5"/>
<circle cx="147.1" cy="344.6" r="1.5"/>
<circle cx="162.7" cy="347.4" r="1.5"/>
<circle cx="165.0" cy="346.4" r="1.5"/>
<circle cx="174.2" cy="341.9" r="1.5"/>
<circle cx="148.2" cy="342.8" r="1.5"/>
<circle cx="150.6" cy="341.2" r="1.5"/>
<circle cx="171.0" cy="348.1" r="1.5"/>
<circle cx="155.1" cy="340.5" r="1.5"/>
<circle cx="156.0" cy="343.3" r="1.5"/>
<circle cx="170.1" cy="346.7" r="1.5"/>
<circle cx="165.9" cy="345.4" r="1.5"/>
<circle cx="166.4" cy="346.2" r="1.5"/>
<circle cx="165.5" cy="343.3" r="1.5"/>
<circle cx="149.2" cy="341.5" r="1.5"/>
<circle cx="147.1" cy="346.2" r="1.5"/>
<circle cx="163.5" cy="343.9" r="1.5"/>
<circle cx="169.0" cy="347.7" r="1.5"/>
<circle cx="173.5" cy="344.3" r="1.5"/>
<circle cx="176.5" cy="346.5" r="1.5"/>
<circle cx="164.4" cy="343.2" r="1.5"/>
<circle cx="172.8" cy="342.1" r="1.5"/>
<circle cx="174.5" cy="346.6" r="1.5"/>
<circle cx="141.5" cy="344.1" r="1.5"/>
<circle cx="164.7" cy="347.7" r="1.5"/>
<circle cx="147.5" cy="346.4" r="1.5"/>
<circle cx="159.5" cy="349.0" r="1.5"/>
<circle cx="168.8" cy="340.6" r="1.5"/>
<circle cx="159.8" cy="343.8" r="1.5"/>
<circle cx="169.2" cy="346.3" r="1.5"/>
<circle cx="164.5" cy="341.7" r="1.5"/>
<circle cx="155.3" cy="340.2" r="1.5"/>
<circle cx="173.5" cy="347.3" r="1.5"/>
<circle cx="163.2" cy="341.3" r="1.5"/>
<circle cx="165.7" cy="345.1" r="1.5"/>
<circle cx="159.5" cy="340.6" r="1.5"/>
<circle cx="162.0" cy="344.6" r="1.5"/>
<circle cx="142.6" cy="346.4" r="1.5"/>
<circle cx="157.4" cy="340.3" r="1.5"/>
<circle cx="152.7" cy="348.1" r="1.5"/>
<circle cx="151.6" cy="343.3" r="1.5"/>
<circle cx="152.1" cy="344.5" r="1.5"/>
<circle cx="186.8" cy="340.8" r="1.5"/>
<circle cx="163.1" cy="348.9" r="1.5"/>
<circle cx="178.4" cy="344.4" r="1.5"/>
<circle cx="145.2" cy="343.4" r="1.5"/>
<circle cx="160.3" cy="348.5" r="1.5"/>
<circle cx="164.9" cy="347.3" r="1.5"/>
<circle cx="163.8" cy="343.8" r="1.5"/>
<circle cx="161.9" cy="347.9" r="1.5"/>
<circle cx="165.0" cy="343.7" r="1.5"/>
<circle cx="179.4" cy="346.8" r="1.5"/>
<circle cx="159.6" cy="340.7" r="1.5"/>
<circle cx="155.1" cy="343.9" r="1.5"/>
<circle cx="178.4" cy="342.5" r="1.5"/>
<circle cx="164.9" cy="348.1" r="1.5"/>
<circle cx="158.7" cy="340.6" r="1.5"/>
<circle cx="174.1" cy="342.3" r="1.5"/>
<circle cx="171.7" cy="346.2" r="1.5"/>
<circle cx="168.1" cy="341.3" r="1.5"/>
<circle cx="156.1" cy="343.2" r="1.5"/>
<circle cx="155.2" cy="348.7" r="1.5"/>
<circle cx="169.3" cy="346.7" r="1.5"/>
<circle cx="160.3" cy="341.3" r="1.5"/>
<circle cx="171.6" cy="341.3" r="1.5"/>
<circle cx="155.6" cy="342.5" r="1.5"/>
<circle cx="155.3" cy="341.2" r="1.5"/>
<circle cx="164.1" cy="345.1" r="1.5"/>
<circle cx="163.7" cy="347.5" r="1.5"/>
<circle cx="166.6" cy="344.0" r="1.5"/>
<circle cx="154.4" cy="343.9" r="1.5"/>
<circle cx="163.7" cy="342.6" r="1.5"/>
<circle cx="149.7" cy="346.5" r="1.5"/>
<circle cx="178.2" cy="345.8" r="1.5"/>
<circle cx="164.5" cy="343.2" r="1.5"/>
<circle cx="176.5" cy="344.1" r="1.5"/>
<circle cx="155.2" cy="344.6" r="1.5"/>
<circle cx="159.1" cy="344.5" r="1.5"/>
<circle cx="140.5" cy="346.1" r="1.5"/>
<circle cx="177.5" cy="343.4" r="1.5"/>
<circle cx="163.9" cy="348.9" r="1.5"/>
<circle cx="172.9" cy="344.1" r="1.5"/>
<circle cx="168.4" cy="345.4" r="1.5"/>
<circle cx="152.7" cy="344.1" r="1.5"/>
<circle cx="171.9" cy="347.3" r="1.5"/>
<circle cx="162.3" cy="344.9" r="1.5"/>
<circle cx="162.6" cy="345.4" r="1.5"/>
<circle cx="177.4" cy="345.5" r="1.5"/>
<circle cx="176.0" cy="340.4" r="1.5"/>
<circle cx="144.4" cy="341.0" r="1.5"/>
<circle cx="162.4" cy="346.9" r="1.5"/>
<circle cx="155.2" cy="346.5" r="1.5"/>
<circle cx="176.1" cy="345.8" r="1.5"/>
<circle cx="153.0" cy="348.8" r="1.5"/>
<circle cx="153.1" cy="347.2" r="1.5"/>
<circle cx="166.6" cy="342.4" r="1.5"/>
<circle cx="151.9" cy="342.3" r="1.5"/>
<circle cx="175.2" cy="346.1" r="1.5"/>
<circle cx="159.4" cy="346.1" r="1.5"/>
<circle cx="174.8" cy="346.1" r="1.5"/>
<circle cx="153.6" cy="340.2" r="1.5"/>
<circle cx="167.5" cy="346.2" r="1.5"/>
<circle cx="167.3" cy="347.8" r="1.5"/>
<circle cx="161.0" cy="347.2" r="1.5"/>
<circle cx="171.6" cy="341.3" r="1.5"/>
<circle cx="151.8" cy="344.1" r="1.5"/>
<circle cx="159.6" cy="340.8" r="1.5"/>
<circle cx="150.2" cy="343.5" r="1.5"/>
<circle cx="158.9" cy="348.5" r="1.5"/>
<circle cx="170.8" cy="348.3" r="1.5"/>
<circle cx="166.5" cy="344.0" r="1.5"/>
<circle cx="149.6" cy="345.1" r="1.5"/>
<circle cx="172.1" cy="343.1" r="1.5"/>
<circle cx="153.1" cy="348.4" r="1.5"/>
<circle cx="151.0" cy="342.4" r="1.5"/>
<circle cx="167.5" cy="343.7" r="1.5"/>
<circle cx="172.2" cy="343.0" r="1.5"/>
<circle cx="155.4" cy="342.4" r="1.5"/>
<circle cx="159.5" cy="342.2" r="1.5"/>
<circle cx="141.5" cy="340.5" r="1.5"/>
<circle cx="159.1" cy="344.9" r="1.5"/>
<circle cx="156.8" cy="340.9" r="1.5"/>
<circle cx="170.5" cy="343.1" r="1.5"/>
<circle cx="163.9" cy="347.7" r="1.5"/>
<circle cx="171.5" cy="347.1" r="1.5"/>
<circle cx="157.7" cy="341.2" r="1.5"/>
<circle cx="145.9" cy="341.3" r="1.5"/>
<circle cx="140.8" cy="342.3" r="1.5"/>
<circle cx="153.7" cy="346.1" r="1.5"/>
<circle cx="152.7" cy="343.7" r="1.5"/>
<circle cx="155.8" cy="347.6" r="1.5"/>
<circle cx="156.1" cy="343.0" r="1.5"/>
<circle cx="151.5" cy="342.5" r="1.5"/>
<circle cx="166.1" cy="345.1" r="1.5"/>
<circle cx="171.6" cy="345.6" r="1.5"/>
<circle cx="145.3" cy="341.2" r="1.5"/>
<circle cx="162.0" cy="346.5" r="1.5"/>
<circle cx="170.1" cy="347.2" r="1.5"/>
<circle cx="129.3" cy="342.9" r="1.5"/>
<circle cx="151.6" cy="347.4" r="1.5"/>
<circle cx="173.8" cy="348.3" r="1.5"/>
<circle cx="162.2" cy="345.7" r="1.5"/>
<circle cx="158.6" cy="342.2" r="1.5"/>
<circle cx="146.8" cy="342.3" r="1.5"/>
<circle cx="165.5" cy="348.6" r="1.5"/>
<circle cx="167.9" cy="341.5" r="1.5"/>
<circle cx="156.0" cy="344.6" r="1.5"/>
<circle cx="153.0" cy="343.6" r="1.5"/>
<circle cx="170.1" cy="348.8" r="1.5"/>
<circle cx="166.4" cy="347.8" r="1.5"/>
<circle cx="148.4" cy="342.1" r="1.5"/>
<circle cx="158.4" cy="346.9" r="1.5"/>
<circle cx="160.2" cy="349.0" r="1.5"/>
<circle cx="142.8" cy="340.2" r="1.5"/>
<circle cx="174.6" cy="343.0" r="1.5"/>
<circle cx="144.0" cy="341.4" r="1.5"/>
<circle cx="174.7" cy="345.2" r="1.5"/>
<circle cx="146.3" cy="345.2" r="1.5"/>
<circle cx="164.6" cy="340.7" r="1.5"/>
<circle cx="153.9" cy="340.6" r="1.5"/>
<circle cx="175.8" cy="342.6" r="1.5"/>
<circle cx="153.6" cy="343.0" r="1.5"/>
<circle cx="182.5" cy="344.7" r="1.5"/>
<circle cx="150.8" cy="343.5" r="1.5"/>
<circle cx="161.9" cy="344.0" r="1.5"/>
<circle cx="165.5" cy="341.1" r="1.5"/>
<circle cx="147.2" cy="344.3" r="1.5"/>
<circle cx="168.4" cy="345.1" r="1.5"/>
<circle cx="149.3" cy="342.4" r="1.5"/>
<circle cx="170.5" cy="343.0" r="1.5"/>
<circle cx="146.7" cy="341.6" r="1.5"/>
<circle cx="181.8" cy="340.3" r="1.5"/>
<circle cx="150.5" cy="341.8" r="1.5"/>
<circle cx="155.6" cy="343.9" r="1.5"/>
<circle cx="139.1" cy="345.3" r="1.5"/>
<circle cx="172.6" cy="344.0" r="1.5"/>
<circle cx="171.2" cy="347.5" r="1.5"/>
<circle cx="170.5" cy="347.6" r="1.5"/>
<circle cx="158.7" cy="340.7" r="1.5"/>
<circle cx="144.5" cy="342.1" r="1.5"/>
<circle cx="163.0" cy="347.3" r="1.5"/>
<circle cx="164.7" cy="341.2" r="1.5"/>
<circle cx="172.0" cy="344.8" r="1.5"/>
<circle cx="145.3" cy="341.3" r="1.5"/>
<circle cx="154.9" cy="342.3" r="1.5"/>
<circle cx="166.7" cy="348.9" r="1.5"/>
<circle cx="172.6" cy="340.8" r="1.5"/>
<circle cx="146.4" cy="346.3" r="1.5"/>
<circle cx="156.4" cy="342.2" r="1.5"/>
<circle cx="165.5" cy="342.2" r="1.5"/>
<circle cx="168.9" cy="348.6" r="1.5"/>
<circle cx="156.0" cy="348.0" r="1.5"/>
<circle cx="158.0" cy="347.4" r="1.5"/>
<circle cx="151.9" cy="348.7" r="1.5"/>
<circle cx="159.6" cy="347.8" r="1.5"/>
<circle cx="155.8" cy="345.1" r="1.5"/>
<circle cx="152.7" cy="347.5" r="1.5"/>
<circle cx="150.6" cy="345.5" r="1.5"/>
<circle cx="146.5" cy="348.0" r="1.5"/>
<circle cx="173.4" cy="343.0" r="1.5"/>
<circle cx="148.5" cy="345.3" r="1.5"/>
<circle cx="165.7" cy="343.0" r="1.5"/>
<circle cx="156.5" cy="342.2" r="1.5"/>
<circle cx="177.6" cy="342.1" r="1.5"/>
<circle cx="152.3" cy="342.7" r="1.5"/>
<circle cx="162.3" cy="340.6" r="1.5"/>
<circle cx="149.5" cy="340.4" r="1.5"/>
<circle cx="137.8" cy="340.9" r="1.5"/>
<circle cx="149.7" cy="346.4" r="1.5"/>
<circle cx="162.7" cy="344.3" r="1.5"/>
<circle cx="168.4" cy="341.1" r="1.5"/>
<circle cx="148.5" cy="344.0" r="1.5"/>
<circle cx="156.2" cy="349.0" r="1.5"/>
<circle cx="154.6" cy="348.5" r="1.5"/>
<circle cx="160.2" cy="345.5" r="1.5"/>
<circle cx="151.3" cy="346.2" r="1.5"/>
<circle cx="162.6" cy="344.0" r="1.5"/>
<circle cx="146.6" cy="341.8" r="1.5"/>
<circle cx="145.2" cy="340.3" r="1.5"/>
<circle cx="167.1" cy="343.4" r="1.5"/>
<circle cx="152.4" cy="340.9" r="1.5"/>
<circle cx="143.8" cy="340.3" r="1.5"/>
<circle cx="157.5" cy="344.0" r="1.5"/>
<circle cx="175.1" cy="346.6" r="1.5"/>
<circle cx="158.2" cy="345.1" r="1.5"/>
<circle cx="169.8" cy="341.1" r="1.5"/>
<circle cx="154.9" cy="346.2" r="1.5"/>
<circle cx="160.0" cy="348.2" r="1.5"/>
<circle cx="170.1" cy="341.7" r="1.5"/>
<circle cx="155.5" cy="341.8" r="1.5"/>
<circle cx="169.7" cy="345.0" r="1.5"/>
<circle cx="168.6" cy="346.8" r="1.5"/>
<circle cx="169.5" cy="340.8" r="1.5"/>
<circle cx="144.9" cy="341.1" r="1.5"/>
<circle cx="150.4" cy="344.3" r="1.5"/>
<circle cx="160.1" cy="344.8" r="1.5"/>
<circle cx="161.7" cy="348.7" r="1.5"/>
<circle cx="152.9" cy="345.3" r="1.5"/>
<circle cx="155.2" cy="347.1" r="1.5"/>
<circle cx="162.7" cy="342.1" r="1.5"/>
<circle cx="163.2" cy="346.0" r="1.5"/>
<circle cx="168.5" cy="346.6" r="1.5"/>
<circle cx="158.1" cy="348.4" r="1.5"/>
<circle cx="182.2" cy="344.1" r="1.5"/>
<circle cx="158.6" cy="343.8" r="1.5"/>
<circle cx="156.4" cy="346.5" r="1.5"/>
<circle cx="152.0" cy="346.8" r="1.5"/>
<circle cx="165.9" cy="340.5" r="1.5"/>
<circle cx="153.2" cy="341.1" r="1.5"/>
<circle cx="163.2" cy="346.1" r="1.5"/>
<circle cx="157.0" cy="348.3" r="1.5"/>
<circle cx="175.1" cy="346.9" r="1.5"/>
<circle cx="167.4" cy="345.3" r="1.5"/>
<circle cx="149.5" cy="346.6" r="1.5"/>
<circle cx="157.2" cy="345.0" r="1.5"/>
<circle cx="149.1" cy="343.9" r="1.5"/>
<circle cx="148.3" cy="345.2" r="1.5"/>
<circle cx="169.7" cy="346.5" r="1.5"/>
<circle cx="164.2" cy="346.5" r="1.5"/>
<circle cx="168.0" cy="347.7" r="1.5"/>
<circle cx="158.8" cy="348.9" r="1.5"/>
<circle cx="159.4" cy="341.3" r="1.5"/>
<circle cx="165.1" cy="346.6" r="1.5"/>
<circle cx="154.6" cy="347.0" r="1.5"/>
<circle cx="166.9" cy="347.2" r="1.5"/>
<circle cx="146.8" cy="340.9" r="1.5"/>
<circle cx="152.9" cy="343.8" r="1.5"/>
<circle cx="139.8" cy="342.1" r="1.5"/>
<circle cx="156.5" cy="342.1" r="1.5"/>
<circle cx="176.7" cy="345.9" r="1.5"/>
<circle cx="157.5" cy="342.9" r="1.5"/>
<circle cx="159.4" cy="343.6" r="1.5"/>
<circle cx="154.7" cy="345.1" r="1.5"/>
<circle cx="148.8" cy="345.7" r="1.5"/>
<circle cx="165.6" cy="344.7" r="1.5"/>
<circle cx="156.3" cy="342.7" r="1.5"/>
<circle cx="178.3" cy="346.7" r="1.5"/>
<circle cx="166.1" cy="346.2" r="1.5"/>
<circle cx="152.7" cy="342.1" r="1.5"/>
<circle cx="155.3" cy="345.5" r="1.5"/>
<circle cx="162.0" cy="342.7" r="1.5"/>
<circle cx="180.9" cy="340.9" r="1.5"/>
<circle cx="167.7" cy="348.0" r="1.5"/>
<circle cx="159.3" cy="343.9" r="1.5"/>
<circle cx="152.0" cy="343.8" r="1.5"/>
<circle cx="167.8" cy="346.1" r="1.5"/>
<circle cx="169.7" cy="343.3" r="1.5"/>
<circle cx="168.9" cy="341.0" r="1.5"/>
<circle cx="159.2" cy="348.1" r="1.5"/>
<circle cx="149.1" cy="344.3" r="1.5"/>
<circle cx="162.1" cy="342.3" r="1.5"/>
<circle cx="169.6" cy="346.9" r="1.5"/>
<circle cx="147.5" cy="348.0" r="1.5"/>
<circle cx="170.6" cy="340.6" r="1.5"/>
<circle cx="165.1" cy="341.6" r="1.5"/>
<circle cx="164.7" cy="340.5" r="1.5"/>
<circle cx="167.7" cy="347.9" r="1.5"/>
<circle cx="180.2" cy="344.5" r="1.5"/>
<circle cx="150.1" cy="343.0" r="1.5"/>
<circle cx="175.3" cy="346.4" r="1.5"/>
<circle cx="162.6" cy="347.2" r="1.5"/>
<circle cx="144.2" cy="341.2" r="1.5"/>
<circle cx="169.7" cy="342.8" r="1.5"/>
<circle cx="176.4" cy="340.3" r="1.5"/>
<circle cx="165.6" cy="349.0" r="1.5"/>
<circle cx="151.4" cy="343.2" r="1.5"/>
<circle cx="176.0" cy="340.6" r="1.5"/>
<circle cx="147.4" cy="346.6" r="1.5"/>
<circle cx="143.3" cy="341.1" r="1.5"/>
<circle cx="156.9" cy="345.1" r="1.5"/>
<circle cx="160.0" cy="344.2" r="1.5"/>
<circle cx="168.1" cy="348.9" r="1.5"/>
<circle cx="163.7" cy="345.3" r="1.5"/>
<circle cx="142.6" cy="347.2" r="1.5"/>
<circle cx="157.5" cy="348.6" r="1.5"/>
<circle cx="151.2" cy="340.4" r="1.5"/>
<circle cx="169.1" cy="348.0" r="1.5"/>
<circle cx="167.7" cy="344.1" r="1.5"/>
<circle cx="183.5" cy="341.4" r="1.5"/>
<circle cx="154.6" cy="348.4" r="1.5"/>
<circle cx="182.4" cy="343.6" r="1.5"/>
<circle cx="162.3" cy="348.5" r="1.5"/>
<circle cx="168.3" cy="344.2" r="1.5"/>
<circle cx="170.7" cy="346.5" r="1.5"/>
<circle cx="166.9" cy="341.6" r="1.5"/>
<circle cx="163.0" cy="342.1" r="1.5"/>
<circle cx="162.8" cy="349.0" r="1.5"/>
<circle cx="154.7" cy="343.5" r="1.5"/>
<circle cx="165.4" cy="348.6" r="1.5"/>
<circle cx="139.0" cy="345.0" r="1.5"/>
<circle cx="169.0" cy="348.8" r="1.5"/>
<circle cx="184.2" cy="343.5" r="1.5"/>
<circle cx="163.2" cy="345.6" r="1.5"/>
<circle cx="156.6" cy="346.9" r="1.5"/>
<circle cx="170.9" cy="342.6" r="1.5"/>
<circle cx="153.4" cy="342.5" r="1.5"/>
<circle cx="157.3" cy="342.3" r="1.5"/>
<circle cx="137.9" cy="344.0" r="1.5"/>
<circle cx="165.1" cy="347.4" r="1.5"/>
<circle cx="167.0" cy="342.0" r="1.5"/>
<circle cx="151.3" cy="342.2" r="1.5"/>
<circle cx="150.3" cy="348.0" r="1.5"/>
<circle cx="174.7" cy="342.3" r="1.5"/>
<circle cx="154.6" cy="340.3" r="1.5"/>
<circle cx="155.9" cy="344.3" r="1.5"/>
<circle cx="185.1" cy="346.0" r="1.5"/>
<circle cx="172.1" cy="346.5" r="1.5"/>
<circle cx="155.2" cy="340.8" r="1.5"/>
<circle cx="157.4" cy="342.3" r="1.5"/>
<circle cx="161.1" cy="348.2" r="1.5"/>
<circle cx="159.9" cy="343.5" r="1.5"/>
<circle cx="163.7" cy="340.2" r="1.5"/>
<circle cx="169.2" cy="341.4" r="1.5"/>
<circle cx="152.9" cy="347.3" r="1.5"/>
<circle cx="167.6" cy="348.3" r="1.5"/>
<circle cx="165.3" cy="348.6" r="1.5"/>
<circle cx="165.8" cy="346.5" r="1.5"/>
<circle cx="160.2" cy="340.7" r="1.5"/>
<circle cx="170.7" cy="348.5" r="1.5"/>
<circle cx="152.5" cy="340.3" r="1.5"/>
<circle cx="155.7" cy="341.9" r="1.5"/>
<circle cx="167.9" cy="348.7" r="1.5"/>
<circle cx="173.5" cy="347.6" r="1.5"/>
<circle cx="145.6" cy="344.7" r="1.5"/>
<circle cx="146.3" cy="344.9" r="1.5"/>
<circle cx="152.0" cy="344.5" r="1.5"/>
<circle cx="157.4" cy="343.7" r="1.5"/>
<circle cx="137.2" cy="341.7" r="1.5"/>
<circle cx="144.4" cy="343.2" r="1.5"/>
<circle cx="166.9" cy="347.2" r="1.5"/>
<circle cx="163.6" cy="341.8" r="1.5"/>
<circle cx="147.8" cy="342.6" r="1.5"/>
<circle cx="162.0" cy="349.0" r="1.5"/>
<circle cx="151.1" cy="342.9" r="1.5"/>
<circle cx="164.8" cy="342.3" r="1.5"/>
<circle cx="154.2" cy="345.7" r="1.5"/>
<circle cx="152.8" cy="341.7" r="1.5"/>
<circle cx="148.1" cy="345.1" r="1.5"/>
<circle cx="159.0" cy="344.4" r="1.5"/>
<circle cx="165.3" cy="347.1" r="1.5"/>
<circle cx="157.8" cy="345.9" r="1.5"/>
<circle cx="157.2" cy="341.3" r="1.5"/>
<circle cx="143.5" cy="343.4" r="1.5"/>
<circle cx="168.8" cy="345.0" r="1.5"/>
<circle cx="162.8" cy="348.9" r="1.5"/>
<circle cx="160.4" cy="344.5" r="1.5"/>
<circle cx="169.0" cy="347.3" r="1.5"/>
<circle cx="167.2" cy="343.6" r="1.5"/>
<circle cx="151.7" cy="342.1" r="1.5"/>
<circle cx="151.0" cy="342.7" r="1.5"/>
<circle cx="173.7" cy="346.8" r="1.5"/>
<circle cx="152.4" cy="347.2" r="1.5"/>
<circle cx="138.4" cy="341.1" r="1.5"/>
<circle cx="149.2" cy="345.1" r="1.5"/>
<circle cx="160.1" cy="340.3" r="1.5"/>
<circle cx="148.7" cy="344.3" r="1.5"/>
<circle cx="164.4" cy="348.1" r="1.5"/>
<circle cx="166.6" cy="349.0" r="1.5"/>
<circle cx="171.3" cy="342.2" r="1.5"/>
<circle cx="165.1" cy="342.2" r="1.5"/>
<circle cx="153.6" cy="347.2" r="1.5"/>
<circle cx="162.4" cy="346.7" r="1.5"/>
<circle cx="172.9" cy="335.0" r="1.5"/>
<circle cx="167.0" cy="324.7" r="1.5"/>
<circle cx="159.5" cy="333.2" r="1.5"/>
<circle cx="186.3" cy="337.7" r="1.5"/>
<circle cx="165.8" cy="347.3" r="1.5"/>
<circle cx="181.2" cy="326.5" r="1.5"/>
<circle cx="158.6" cy="330.7" r="1.5"/>
<circle cx="145.9" cy="347.1" r="1.5"/>
<circle cx="154.2" cy="332.7" r="1.5"/>
<circle cx="159.5" cy="348.4" r="1.5"/>
<circle cx="127.7" cy="342.9" r="1.5"/>
<circle cx="180.0" cy="336.6" r="1.5"/>
<circle cx="188.4" cy="337.8" r="1.5"/>
<circle cx="158.4" cy="337.2" r="1.5"/>
<circle cx="148.7" cy="325.2" r="1.5"/>
<circle cx="167.9" cy="343.0" r="1.5"/>
<circle cx="134.6" cy="345.1" r="1.5"/>
<circle cx="153.5" cy="332.1" r="1.5"/>
<circle cx="167.5" cy="334.2" r="1.5"/>
<circle cx="143.5" cy="340.5" r="1.5"/>
<circle cx="170.6" cy="340.2" r="1.5"/>
<circle cx="154.1" cy="346.3" r="1.5"/>
<circle cx="144.3" cy="342.0" r="1.5"/>
<circle cx="171.6" cy="343.7" r="1.5"/>
<circle cx="169.6" cy="345.0" r="1.5"/>
<circle cx="172.1" cy="322.4" r="1.5"/>
<circle cx="171.4" cy="344.0" r="1.5"/>
<circle cx="173.4" cy="348.3" r="1.5"/>
<circle cx="139.6" cy="326.5" r="1.5"/>
<circle cx="175.9" cy="329.1" r="1.5"/>
<circle cx="156.5" cy="343.9" r="1.5"/>
<circle cx="170.3" cy="323.7" r="1.5"/>
<circle cx="145.5" cy="334.9" r="1.5"/>
<circle cx="157.2" cy="321.8" r="1.5"/>
<circle cx="164.0" cy="348.5" r="1.5"/>
<circle cx="162.2" cy="349.1" r="1.5"/>
<circle cx="181.4" cy="330.6" r="1.5"/>
<circle cx="149.0" cy="339.1" r="1.5"/>
<circle cx="168.2" cy="328.9" r="1.5"/>
<circle cx="152.2" cy="345.0" r="1.5"/>
<circle cx="170.3" cy="329.5" r="1.5"/>
<circle cx="164.9" cy="329.8" r="1.5"/>
<circle cx="165.3" cy="325.5" r="1.5"/>
<circle cx="178.5" cy="344.0" r="1.5"/>
<circle cx="160.6" cy="348.6" r="1.5"/>
<circle cx="182.7" cy="335.9" r="1.5"/>
<circle cx="157.2" cy="328.1" r="1.5"/>
<circle cx="169.4" cy="338.6" r="1.5"/>
<circle cx="168.6" cy="319.3" r="1.5"/>
<circle cx="156.6" cy="329.3" r="1.5"/>
<circle cx="171.0" cy="344.1" r="1.5"/>
<circle cx="163.4" cy="338.1" r="1.5"/>
<circle cx="184.4" cy="346.2" r="1.5"/>
<circle cx="165.8" cy="339.1" r="1.5"/>
<circle cx="155.2" cy="320.0" r="1.5"/>
<circle cx="124.1" cy="340.6" r="1.5"/>
<circle cx="150.3" cy="344.5" r="1.5"/>
<circle cx="168.0" cy="347.1" r="1.5"/>
<circle cx="176.2" cy="326.2" r="1.5"/>
<circle cx="155.7" cy="325.4" r="1.5"/>
<circle cx="171.1" cy="348.5" r="1.5"/>
<circle cx="137.9" cy="334.7" r="1.5"/>
<circle cx="148.4" cy="345.1" r="1.5"/>
<circle cx="140.7" cy="330.5" r="1.5"/>
<circle cx="157.0" cy="329.3" r="1.5"/>
<circle cx="143.3" cy="332.5" r="1.5"/>
<circle cx="171.2" cy="331.3" r="1.5"/>
<circle cx="172.4" cy="327.4" r="1.5"/>
<circle cx="143.9" cy="336.9" r="1.5"/>
<circle cx="166.2" cy="349.0" r="1.5"/>
<circle cx="170.5" cy="345.6" r="1.5"/>
<circle cx="148.1" cy="335.0" r="1.5"/>
<circle cx="129.9" cy="341.0" r="1.5"/>
<circle cx="176.8" cy="346.7" r="1.5"/>
<circle cx="166.9" cy="345.6" r="1.5"/>
<circle cx="142.8" cy="345.3" r="1.5"/>
<circle cx="186.5" cy="342.9" r="1.5"/>
<circle cx="167.2" cy="346.9" r="1.5"/>
<circle cx="148.0" cy="331.8" r="1.5"/>
<circle cx="151.3" cy="331.4" r="1.5"/>
<circle cx="178.8" cy="330.5" r="1.5"/>
<circle cx="163.0" cy="344.7" r="1.5"/>
<circle cx="141.1" cy="328.9" r="1.5"/>
<circle cx="153.8" cy="320.1" r="1.5"/>
<circle cx="165.7" cy="323.9" r="1.5"/>
<circle cx="155.8" cy="348.9" r="1.5"/>
<circle cx="177.1" cy="327.5" r="1.5"/>
<circle cx="165.5" cy="330.5" r="1.5"/>
<circle cx="164.3" cy="348.2" r="1.5"/>
<circle cx="173.1" cy="346.0" r="1.5"/>
<circle cx="189.9" cy="335.4" r="1.5"/>
<circle cx="177.7" cy="343.1" r="1.5"/>
<circle cx="149.2" cy="327.0" r="1.5"/>
<circle cx="148.3" cy="343.4" r="1.5"/>
<circle cx="137.6" cy="345.6" r="1.5"/>
<circle cx="151.3" cy="333.3" r="1.5"/>
<circle cx="163.9" cy="347.7" r="1.5"/>
<circle cx="183.8" cy="330.9" r="1.5"/>
<circle cx="168.2" cy="347.0" r="1.5"/>
<circle cx="147.2" cy="331.7" r="1.5"/>
<circle cx="175.4" cy="333.5" r="1.5"/>
<circle cx="149.3" cy="325.9" r="1.5"/>
<circle cx="178.6" cy="345.5" r="1.5"/>
<circle cx="188.3" cy="343.3" r="1.5"/>
<circle cx="173.0" cy="346.1" r="1.5"/>
<circle cx="196.5" cy="338.8" r="1.5"/>
<circle cx="151.4" cy="347.9" r="1.5"/>
<circle cx="136.7" cy="343.5" r="1.5"/>
<circle cx="177.8" cy="330.3" r="1.5"/>
<circle cx="134.9" cy="331.1" r="1.5"/>
<circle cx="153.0" cy="339.7" r="1.5"/>
<circle cx="137.0" cy="329.8" r="1.5"/>
<circle cx="158.6" cy="339.9" r="1.5"/>
<circle cx="172.4" cy="327.6" r="1.5"/>
<circle cx="143.9" cy="333.7" r="1.5"/>
<circle cx="175.4" cy="345.0" r="1.5"/>
<circle cx="172.1" cy="330.5" r="1.5"/>
<circle cx="167.7" cy="342.3" r="1.5"/>
<circle cx="152.8" cy="328.3" r="1.5"/>
<circle cx="170.3" cy="324.4" r="1.5"/>
<circle cx="154.5" cy="329.6" r="1.5"/>
<circle cx="176.4" cy="342.1" r="1.5"/>
<circle cx="136.5" cy="344.2" r="1.5"/>
<circle cx="122.7" cy="338.7" r="1.5"/>
<circle cx="150.2" cy="347.8" r="1.5"/>
<circle cx="155.0" cy="322.7" r="1.5"/>
<circle cx="153.0" cy="323.5" r="1.5"/>
<circle cx="169.2" cy="339.0" r="1.5"/>
<circle cx="163.6" cy="333.1" r="1.5"/>
<circle cx="159.9" cy="348.3" r="1.5"/>
<circle cx="154.9" cy="319.1" r="1.5"/>
<circle cx="172.5" cy="343.4" r="1.5"/>
<circle cx="163.8" cy="329.9" r="1.5"/>
<circle cx="176.1" cy="324.1" r="1.5"/>
<circle cx="165.9" cy="340.5" r="1.5"/>
<circle cx="151.9" cy="339.9" r="1.5"/>
<circle cx="144.2" cy="341.2" r="1.5"/>
<circle cx="171.6" cy="345.3" r="1.5"/>
<circle cx="147.7" cy="329.3" r="1.5"/>
<circle cx="177.4" cy="329.9" r="1.5"/>
<circle cx="151.0" cy="320.4" r="1.5"/>
<circle cx="157.5" cy="339.7" r="1.5"/>
<circle cx="186.7" cy="330.5" r="1.5"/>
<circle cx="184.5" cy="330.6" r="1.5"/>
<circle cx="152.7" cy="320.3" r="1.5"/>
<circle cx="166.9" cy="344.2" r="1.5"/>
<circle cx="168.3" cy="334.3" r="1.5"/>
<circle cx="176.4" cy="339.1" r="1.5"/>
<circle cx="159.1" cy="328.6" r="1.5"/>
<circle cx="174.3" cy="347.9" r="1.5"/>
<circle cx="139.6" cy="333.1" r="1.5"/>
<circle cx="156.4" cy="333.8" r="1.5"/>
<circle cx="147.4" cy="323.9" r="1.5"/>
<circle cx="164.7" cy="335.2" r="1.5"/>
<circle cx="170.2" cy="319.3" r="1.5"/>
<circle cx="169.9" cy="339.3" r="1.5"/>
<circle cx="172.8" cy="345.4" r="1.5"/>
<circle cx="169.8" cy="340.1" r="1.5"/>
<circle cx="187.8" cy="333.7" r="1.5"/>
<circle cx="180.6" cy="341.0" r="1.5"/>
<circle cx="135.2" cy="330.7" r="1.5"/>
<circle cx="182.4" cy="343.8" r="1.5"/>
<circle cx="170.4" cy="324.2" r="1.5"/>
<circle cx="159.3" cy="348.7" r="1.5"/>
<circle cx="152.2" cy="342.3" r="1.5"/>
<circle cx="187.4" cy="336.9" r="1.5"/>
<circle cx="166.1" cy="341.5" r="1.5"/>
<circle cx="141.3" cy="340.5" r="1.5"/>
<circle cx="180.4" cy="332.0" r="1.5"/>
<circle cx="167.2" cy="324.8" r="1.5"/>
<circle cx="167.8" cy="332.0" r="1.5"/>
<circle cx="158.9" cy="345.2" r="1.5"/>
<circle cx="175.1" cy="325.2" r="1.5"/>
<circle cx="174.0" cy="332.9" r="1.5"/>
<circle cx="135.2" cy="338.5" r="1.5"/>
<circle cx="150.2" cy="333.4" r="1.5"/>
<circle cx="179.6" cy="325.2" r="1.5"/>
<circle cx="146.4" cy="326.7" r="1.5"/>
<circle cx="145.6" cy="344.6" r="1.5"/>
<circle cx="164.6" cy="347.3" r="1.5"/>
<circle cx="168.5" cy="338.1" r="1.5"/>
<circle cx="182.7" cy="345.8" r="1.5"/>
<circle cx="167.7" cy="321.9" r="1.5"/>
<circle cx="146.5" cy="337.0" r="1.5"/>
<circle cx="165.2" cy="346.0" r="1.5"/>
<circle cx="140.3" cy="344.5" r="1.5"/>
<circle cx="198.8" cy="336.7" r="1.5"/>
<circle cx="174.9" cy="339.3" r="1.5"/>
<circle cx="177.7" cy="335.2" r="1.5"/>
<circle cx="168.0" cy="343.9" r="1.5"/>
<circle cx="158.0" cy="336.1" r="1.5"/>
<circle cx="173.6" cy="330.5" r="1.5"/>
<circle cx="155.1" cy="328.5" r="1.5"/>
<circle cx="150.7" cy="342.2" r="1.5"/>
<circle cx="176.5" cy="333.8" r="1.5"/>
<circle cx="168.9" cy="338.5" r="1.5"/>
<circle cx="175.7" cy="330.3" r="1.5"/>
<circle cx="149.4" cy="325.8" r="1.5"/>
<circle cx="156.4" cy="334.2" r="1.5"/>
<circle cx="146.4" cy="338.7" r="1.5"/>
<circle cx="179.7" cy="339.1" r="1.5"/>
<circle cx="155.3" cy="346.3" r="1.5"/>
<circle cx="138.7" cy="329.8" r="1.5"/>
<circle cx="141.8" cy="342.9" r="1.5"/>
<circle cx="142.1" cy="339.2" r="1.5"/>
<circle cx="165.0" cy="327.9" r="1.5"/>
<circle cx="167.4" cy="337.3" r="1.5"/>
<circle cx="126.1" cy="337.7" r="1.5"/>
<circle cx="145.6" cy="333.1" r="1.5"/>
<circle cx="172.0" cy="324.1" r="1.5"/>
<circle cx="140.0" cy="339.7" r="1.5"/>
<circle cx="95.3" cy="318.7" r="1.5"/>
<circle cx="96.0" cy="334.4" r="1.5"/>
<circle cx="108.5" cy="340.9" r="1.5"/>
<circle cx="105.2" cy="343.2" r="1.5"/>
<circle cx="157.5" cy="298.2" r="1.5"/>
<circle cx="168.3" cy="302.3" r="1.5"/>
<circle cx="169.7" cy="306.3" r="1.5"/>
<circle cx="167.8" cy="309.2" r="1.5"/>
<circle cx="166.3" cy="313.1" r="1.5"/>
<circle cx="155.8" cy="313.6" r="1.5"/>
<circle cx="159.6" cy="316.0" r="1.5"/>
</g>
<g class="pk">
<circle cx="127.0" cy="282.0" r="1.35"/>
<circle cx="100.5" cy="294.4" r="1.35"/>
<circle cx="117.3" cy="303.2" r="1.35"/>
<circle cx="110.2" cy="305.6" r="1.35"/>
<circle cx="130.8" cy="304.2" r="1.35"/>
<circle cx="143.2" cy="303.6" r="1.35"/>
<circle cx="135.4" cy="307.3" r="1.35"/>
<circle cx="141.8" cy="308.7" r="1.35"/>
<circle cx="118.3" cy="310.0" r="1.35"/>
<circle cx="120.3" cy="309.6" r="1.35"/>
<circle cx="122.3" cy="310.3" r="1.35"/>
<circle cx="126.0" cy="310.7" r="1.35"/>
<circle cx="129.0" cy="310.3" r="1.35"/>
<circle cx="119.0" cy="311.6" r="1.35"/>
<circle cx="148.2" cy="309.4" r="1.35"/>
<circle cx="151.9" cy="312.3" r="1.35"/>
<circle cx="115.6" cy="314.3" r="1.35"/>
<circle cx="134.2" cy="313.7" r="1.35"/>
<circle cx="139.8" cy="315.0" r="1.35"/>
<circle cx="136.5" cy="316.4" r="1.35"/>
<circle cx="145.6" cy="314.1" r="1.35"/>
<circle cx="147.0" cy="313.7" r="1.35"/>
<circle cx="145.2" cy="316.4" r="1.35"/>
<circle cx="149.6" cy="316.4" r="1.35"/>
<circle cx="121.0" cy="317.4" r="1.35"/>
<circle cx="129.5" cy="316.4" r="1.35"/>
<circle cx="130.1" cy="318.0" r="1.35"/>
<circle cx="177.4" cy="301.1" r="1.35"/>
<circle cx="185.1" cy="303.3" r="1.35"/>
<circle cx="175.5" cy="309.0" r="1.35"/>
<circle cx="174.2" cy="310.7" r="1.35"/>
<circle cx="184.8" cy="312.3" r="1.35"/>
<circle cx="171.2" cy="315.5" r="1.35"/>
</g>
<line x1="88.8" y1="318.26" x2="234.6" y2="318.26" class="th"/>
<line x1="152.62" y1="279.7" x2="152.62" y2="351.2" class="th"/>
<line x1="169.98" y1="279.7" x2="169.98" y2="351.2" class="th"/>
<path d="M88.8,279.7 V351.2 H234.6" fill="none" stroke="#111" stroke-width="1.5"/>
<line x1="85.8" y1="349.20" x2="88.8" y2="349.20" stroke="#111" stroke-width="1"/>
<text x="83.2" y="352.0" font-size="7.9" text-anchor="end" fill="#1a1a1a" stroke="#1a1a1a" stroke-width="0.15">0.0</text>
<line x1="85.8" y1="337.30" x2="88.8" y2="337.30" stroke="#111" stroke-width="1"/>
<text x="83.2" y="340.1" font-size="7.9" text-anchor="end" fill="#1a1a1a" stroke="#1a1a1a" stroke-width="0.15">0.5</text>
<line x1="85.8" y1="325.40" x2="88.8" y2="325.40" stroke="#111" stroke-width="1"/>
<text x="83.2" y="328.2" font-size="7.9" text-anchor="end" fill="#1a1a1a" stroke="#1a1a1a" stroke-width="0.15">1.0</text>
<line x1="85.8" y1="313.50" x2="88.8" y2="313.50" stroke="#111" stroke-width="1"/>
<text x="83.2" y="316.3" font-size="7.9" text-anchor="end" fill="#1a1a1a" stroke="#1a1a1a" stroke-width="0.15">1.5</text>
<line x1="85.8" y1="301.60" x2="88.8" y2="301.60" stroke="#111" stroke-width="1"/>
<text x="83.2" y="304.4" font-size="7.9" text-anchor="end" fill="#1a1a1a" stroke="#1a1a1a" stroke-width="0.15">2.0</text>
<line x1="85.8" y1="289.70" x2="88.8" y2="289.70" stroke="#111" stroke-width="1"/>
<text x="83.2" y="292.5" font-size="7.9" text-anchor="end" fill="#1a1a1a" stroke="#1a1a1a" stroke-width="0.15">2.5</text>
<line x1="95.30" y1="351.2" x2="95.30" y2="354.2" stroke="#111" stroke-width="1"/>
<text x="95.3" y="363.8" font-size="7.9" text-anchor="middle" fill="#1a1a1a" stroke="#1a1a1a" stroke-width="0.15">–2</text>
<line x1="128.30" y1="351.2" x2="128.30" y2="354.2" stroke="#111" stroke-width="1"/>
<text x="128.3" y="363.8" font-size="7.9" text-anchor="middle" fill="#1a1a1a" stroke="#1a1a1a" stroke-width="0.15">–1</text>
<line x1="161.30" y1="351.2" x2="161.30" y2="354.2" stroke="#111" stroke-width="1"/>
<text x="161.3" y="363.8" font-size="7.9" text-anchor="middle" fill="#1a1a1a" stroke="#1a1a1a" stroke-width="0.15">0</text>
<line x1="194.30" y1="351.2" x2="194.30" y2="354.2" stroke="#111" stroke-width="1"/>
<text x="194.3" y="363.8" font-size="7.9" text-anchor="middle" fill="#1a1a1a" stroke="#1a1a1a" stroke-width="0.15">1</text>
<line x1="227.30" y1="351.2" x2="227.30" y2="354.2" stroke="#111" stroke-width="1"/>
<text x="227.3" y="363.8" font-size="7.9" text-anchor="middle" fill="#1a1a1a" stroke="#1a1a1a" stroke-width="0.15">2</text>
<text x="161.8" y="273.3" font-size="10.3" text-anchor="middle" fill="#111" textLength="39.8" lengthAdjust="spacingAndGlyphs" stroke="#111" stroke-width="0.2">PR vs WR</text>
<text x="158.9" y="375.6" font-size="9.2" text-anchor="middle" fill="#1a1a1a" textLength="44" lengthAdjust="spacingAndGlyphs" stroke="#1a1a1a" stroke-width="0.15">log2 (PR/WR)</text>
<text transform="translate(64.9,315.5) rotate(-90)" x="0" y="0" font-size="9.2" text-anchor="middle" fill="#1a1a1a" stroke="#1a1a1a" stroke-width="0.15" textLength="54" lengthAdjust="spacingAndGlyphs">-log10 (p-value)</text>
<g class="bk">
<circle cx="388.2" cy="340.0" r="1.5"/>
<circle cx="398.3" cy="345.7" r="1.5"/>
<circle cx="388.3" cy="341.0" r="1.5"/>
<circle cx="390.4" cy="344.7" r="1.5"/>
<circle cx="391.9" cy="339.9" r="1.5"/>
<circle cx="399.8" cy="340.5" r="1.5"/>
<circle cx="394.0" cy="342.6" r="1.5"/>
<circle cx="387.1" cy="347.9" r="1.5"/>
<circle cx="399.3" cy="344.5" r="1.5"/>
<circle cx="385.1" cy="347.1" r="1.5"/>
<circle cx="390.3" cy="340.4" r="1.5"/>
<circle cx="388.2" cy="340.5" r="1.5"/>
<circle cx="394.6" cy="344.7" r="1.5"/>
<circle cx="394.4" cy="342.0" r="1.5"/>
<circle cx="393.8" cy="345.8" r="1.5"/>
<circle cx="393.6" cy="340.2" r="1.5"/>
<circle cx="388.4" cy="342.2" r="1.5"/>
<circle cx="390.7" cy="344.2" r="1.5"/>
<circle cx="387.2" cy="345.7" r="1.5"/>
<circle cx="396.4" cy="345.2" r="1.5"/>
<circle cx="395.6" cy="340.7" r="1.5"/>
<circle cx="393.8" cy="341.6" r="1.5"/>
<circle cx="390.1" cy="341.0" r="1.5"/>
<circle cx="383.9" cy="348.5" r="1.5"/>
<circle cx="382.5" cy="347.0" r="1.5"/>
<circle cx="395.7" cy="342.6" r="1.5"/>
<circle cx="395.0" cy="348.4" r="1.5"/>
<circle cx="380.3" cy="344.5" r="1.5"/>
<circle cx="389.5" cy="343.9" r="1.5"/>
<circle cx="383.7" cy="347.1" r="1.5"/>
<circle cx="390.0" cy="344.7" r="1.5"/>
<circle cx="393.4" cy="344.6" r="1.5"/>
<circle cx="393.0" cy="340.4" r="1.5"/>
<circle cx="383.7" cy="347.8" r="1.5"/>
<circle cx="386.4" cy="342.1" r="1.5"/>
<circle cx="389.8" cy="342.2" r="1.5"/>
<circle cx="391.1" cy="346.5" r="1.5"/>
<circle cx="392.0" cy="341.6" r="1.5"/>
<circle cx="388.6" cy="349.1" r="1.5"/>
<circle cx="389.7" cy="341.2" r="1.5"/>
<circle cx="398.6" cy="343.6" r="1.5"/>
<circle cx="389.7" cy="340.1" r="1.5"/>
<circle cx="380.3" cy="343.2" r="1.5"/>
<circle cx="382.7" cy="341.8" r="1.5"/>
<circle cx="392.5" cy="346.9" r="1.5"/>
<circle cx="375.3" cy="344.2" r="1.5"/>
<circle cx="383.3" cy="342.6" r="1.5"/>
<circle cx="393.9" cy="341.9" r="1.5"/>
<circle cx="392.5" cy="348.6" r="1.5"/>
<circle cx="384.8" cy="346.1" r="1.5"/>
<circle cx="387.2" cy="343.3" r="1.5"/>
<circle cx="387.7" cy="346.2" r="1.5"/>
<circle cx="390.2" cy="344.7" r="1.5"/>
<circle cx="379.2" cy="341.8" r="1.5"/>
<circle cx="386.8" cy="348.4" r="1.5"/>
<circle cx="386.8" cy="342.8" r="1.5"/>
<circle cx="383.9" cy="340.4" r="1.5"/>
<circle cx="397.1" cy="347.6" r="1.5"/>
<circle cx="385.1" cy="345.5" r="1.5"/>
<circle cx="393.4" cy="342.1" r="1.5"/>
<circle cx="381.0" cy="343.3" r="1.5"/>
<circle cx="391.2" cy="347.9" r="1.5"/>
<circle cx="387.5" cy="344.1" r="1.5"/>
<circle cx="384.3" cy="342.6" r="1.5"/>
<circle cx="382.1" cy="340.6" r="1.5"/>
<circle cx="394.0" cy="342.6" r="1.5"/>
<circle cx="387.3" cy="341.5" r="1.5"/>
<circle cx="386.6" cy="344.8" r="1.5"/>
<circle cx="380.0" cy="340.9" r="1.5"/>
<circle cx="392.5" cy="341.9" r="1.5"/>
<circle cx="377.6" cy="346.3" r="1.5"/>
<circle cx="395.7" cy="340.5" r="1.5"/>
<circle cx="389.7" cy="346.8" r="1.5"/>
<circle cx="386.5" cy="342.6" r="1.5"/>
<circle cx="395.4" cy="346.9" r="1.5"/>
<circle cx="395.1" cy="345.3" r="1.5"/>
<circle cx="388.2" cy="344.8" r="1.5"/>
<circle cx="388.4" cy="345.6" r="1.5"/>
<circle cx="394.3" cy="342.4" r="1.5"/>
<circle cx="396.3" cy="347.0" r="1.5"/>
<circle cx="390.0" cy="342.2" r="1.5"/>
<circle cx="387.0" cy="345.3" r="1.5"/>
<circle cx="390.6" cy="340.8" r="1.5"/>
<circle cx="374.5" cy="340.9" r="1.5"/>
<circle cx="383.3" cy="346.1" r="1.5"/>
<circle cx="388.6" cy="343.4" r="1.5"/>
<circle cx="386.0" cy="346.9" r="1.5"/>
<circle cx="394.5" cy="347.4" r="1.5"/>
<circle cx="386.9" cy="342.3" r="1.5"/>
<circle cx="388.0" cy="341.1" r="1.5"/>
<circle cx="393.2" cy="340.2" r="1.5"/>
<circle cx="397.1" cy="344.7" r="1.5"/>
<circle cx="387.8" cy="347.3" r="1.5"/>
<circle cx="380.2" cy="345.1" r="1.5"/>
<circle cx="391.4" cy="340.0" r="1.5"/>
<circle cx="391.0" cy="340.5" r="1.5"/>
<circle cx="394.5" cy="347.9" r="1.5"/>
<circle cx="397.5" cy="345.8" r="1.5"/>
<circle cx="387.7" cy="343.6" r="1.5"/>
<circle cx="385.6" cy="346.2" r="1.5"/>
<circle cx="388.2" cy="346.1" r="1.5"/>
<circle cx="389.0" cy="348.3" r="1.5"/>
<circle cx="386.5" cy="347.6" r="1.5"/>
<circle cx="388.7" cy="347.7" r="1.5"/>
<circle cx="391.6" cy="344.4" r="1.5"/>
<circle cx="395.3" cy="346.9" r="1.5"/>
<circle cx="395.9" cy="347.8" r="1.5"/>
<circle cx="380.7" cy="343.1" r="1.5"/>
<circle cx="393.1" cy="340.6" r="1.5"/>
<circle cx="383.4" cy="342.7" r="1.5"/>
<circle cx="387.1" cy="339.9" r="1.5"/>
<circle cx="389.7" cy="348.7" r="1.5"/>
<circle cx="392.8" cy="343.9" r="1.5"/>
<circle cx="382.1" cy="347.0" r="1.5"/>
<circle cx="387.3" cy="340.6" r="1.5"/>
<circle cx="391.6" cy="348.2" r="1.5"/>
<circle cx="393.9" cy="344.5" r="1.5"/>
<circle cx="390.3" cy="348.0" r="1.5"/>
<circle cx="390.6" cy="346.8" r="1.5"/>
<circle cx="390.4" cy="341.1" r="1.5"/>
<circle cx="375.8" cy="341.8" r="1.5"/>
<circle cx="399.1" cy="342.3" r="1.5"/>
<circle cx="394.3" cy="341.7" r="1.5"/>
<circle cx="390.9" cy="349.0" r="1.5"/>
<circle cx="393.5" cy="345.8" r="1.5"/>
<circle cx="385.3" cy="343.1" r="1.5"/>
<circle cx="387.8" cy="345.6" r="1.5"/>
<circle cx="398.2" cy="341.5" r="1.5"/>
<circle cx="397.6" cy="345.7" r="1.5"/>
<circle cx="388.1" cy="343.3" r="1.5"/>
<circle cx="388.3" cy="341.7" r="1.5"/>
<circle cx="390.0" cy="340.6" r="1.5"/>
<circle cx="388.3" cy="340.5" r="1.5"/>
<circle cx="392.2" cy="347.0" r="1.5"/>
<circle cx="382.6" cy="344.9" r="1.5"/>
<circle cx="391.9" cy="346.3" r="1.5"/>
<circle cx="391.6" cy="344.3" r="1.5"/>
<circle cx="384.2" cy="343.1" r="1.5"/>
<circle cx="393.3" cy="340.7" r="1.5"/>
<circle cx="390.7" cy="340.7" r="1.5"/>
<circle cx="389.4" cy="344.9" r="1.5"/>
<circle cx="381.3" cy="347.5" r="1.5"/>
<circle cx="390.1" cy="343.6" r="1.5"/>
<circle cx="384.0" cy="342.9" r="1.5"/>
<circle cx="386.1" cy="341.5" r="1.5"/>
<circle cx="385.7" cy="348.5" r="1.5"/>
<circle cx="381.5" cy="346.1" r="1.5"/>
<circle cx="385.2" cy="345.8" r="1.5"/>
<circle cx="401.2" cy="342.4" r="1.5"/>
<circle cx="394.2" cy="340.2" r="1.5"/>
<circle cx="390.4" cy="343.9" r="1.5"/>
<circle cx="392.4" cy="343.7" r="1.5"/>
<circle cx="388.8" cy="346.3" r="1.5"/>
<circle cx="395.0" cy="347.4" r="1.5"/>
<circle cx="391.0" cy="349.1" r="1.5"/>
<circle cx="383.0" cy="345.3" r="1.5"/>
<circle cx="385.8" cy="345.5" r="1.5"/>
<circle cx="390.5" cy="344.3" r="1.5"/>
<circle cx="389.7" cy="340.5" r="1.5"/>
<circle cx="379.6" cy="339.9" r="1.5"/>
<circle cx="389.0" cy="348.4" r="1.5"/>
<circle cx="392.4" cy="348.0" r="1.5"/>
<circle cx="386.0" cy="341.3" r="1.5"/>
<circle cx="386.6" cy="342.3" r="1.5"/>
<circle cx="383.2" cy="345.2" r="1.5"/>
<circle cx="387.1" cy="340.7" r="1.5"/>
<circle cx="394.1" cy="343.0" r="1.5"/>
<circle cx="390.2" cy="346.9" r="1.5"/>
<circle cx="389.9" cy="341.2" r="1.5"/>
<circle cx="381.9" cy="346.3" r="1.5"/>
<circle cx="393.7" cy="344.7" r="1.5"/>
<circle cx="392.0" cy="346.6" r="1.5"/>
<circle cx="390.3" cy="340.9" r="1.5"/>
<circle cx="381.9" cy="341.9" r="1.5"/>
<circle cx="393.6" cy="348.1" r="1.5"/>
<circle cx="390.8" cy="348.1" r="1.5"/>
<circle cx="395.2" cy="339.9" r="1.5"/>
<circle cx="385.5" cy="340.0" r="1.5"/>
<circle cx="387.2" cy="346.5" r="1.5"/>
<circle cx="387.9" cy="348.9" r="1.5"/>
<circle cx="383.1" cy="342.6" r="1.5"/>
<circle cx="401.6" cy="344.1" r="1.5"/>
<circle cx="378.0" cy="342.9" r="1.5"/>
<circle cx="384.6" cy="346.0" r="1.5"/>
<circle cx="393.6" cy="343.5" r="1.5"/>
<circle cx="390.9" cy="349.1" r="1.5"/>
<circle cx="389.8" cy="348.3" r="1.5"/>
<circle cx="386.5" cy="345.8" r="1.5"/>
<circle cx="383.0" cy="343.7" r="1.5"/>
<circle cx="387.1" cy="341.2" r="1.5"/>
<circle cx="386.8" cy="347.9" r="1.5"/>
<circle cx="389.8" cy="342.7" r="1.5"/>
<circle cx="381.1" cy="344.4" r="1.5"/>
<circle cx="394.0" cy="348.4" r="1.5"/>
<circle cx="383.4" cy="342.8" r="1.5"/>
<circle cx="396.6" cy="342.1" r="1.5"/>
<circle cx="387.3" cy="343.4" r="1.5"/>
<circle cx="391.6" cy="348.1" r="1.5"/>
<circle cx="386.8" cy="344.8" r="1.5"/>
<circle cx="392.1" cy="347.2" r="1.5"/>
<circle cx="388.1" cy="344.7" r="1.5"/>
<circle cx="388.2" cy="344.7" r="1.5"/>
<circle cx="389.7" cy="348.6" r="1.5"/>
<circle cx="388.5" cy="346.1" r="1.5"/>
<circle cx="385.0" cy="345.8" r="1.5"/>
<circle cx="397.9" cy="347.5" r="1.5"/>
<circle cx="397.9" cy="347.2" r="1.5"/>
<circle cx="387.1" cy="340.3" r="1.5"/>
<circle cx="383.6" cy="346.4" r="1.5"/>
<circle cx="388.0" cy="347.7" r="1.5"/>
<circle cx="378.7" cy="340.8" r="1.5"/>
<circle cx="383.0" cy="341.2" r="1.5"/>
<circle cx="394.9" cy="342.7" r="1.5"/>
<circle cx="389.9" cy="346.3" r="1.5"/>
<circle cx="388.1" cy="344.1" r="1.5"/>
<circle cx="389.6" cy="345.1" r="1.5"/>
<circle cx="403.1" cy="343.8" r="1.5"/>
<circle cx="394.4" cy="340.3" r="1.5"/>
<circle cx="394.5" cy="344.5" r="1.5"/>
<circle cx="387.8" cy="340.1" r="1.5"/>
<circle cx="397.5" cy="343.3" r="1.5"/>
<circle cx="389.3" cy="347.5" r="1.5"/>
<circle cx="396.9" cy="347.0" r="1.5"/>
<circle cx="385.8" cy="340.1" r="1.5"/>
<circle cx="396.2" cy="340.8" r="1.5"/>
<circle cx="389.8" cy="343.6" r="1.5"/>
<circle cx="388.2" cy="344.5" r="1.5"/>
<circle cx="390.4" cy="345.5" r="1.5"/>
<circle cx="398.0" cy="342.6" r="1.5"/>
<circle cx="382.8" cy="339.9" r="1.5"/>
<circle cx="387.5" cy="341.5" r="1.5"/>
<circle cx="379.7" cy="341.7" r="1.5"/>
<circle cx="392.8" cy="339.9" r="1.5"/>
<circle cx="390.5" cy="341.6" r="1.5"/>
<circle cx="386.9" cy="341.8" r="1.5"/>
<circle cx="391.8" cy="344.3" r="1.5"/>
<circle cx="394.7" cy="341.0" r="1.5"/>
<circle cx="392.8" cy="345.9" r="1.5"/>
<circle cx="374.8" cy="344.4" r="1.5"/>
<circle cx="383.9" cy="343.8" r="1.5"/>
<circle cx="382.6" cy="346.2" r="1.5"/>
<circle cx="397.2" cy="340.5" r="1.5"/>
<circle cx="396.3" cy="347.7" r="1.5"/>
<circle cx="395.4" cy="348.0" r="1.5"/>
<circle cx="380.6" cy="341.5" r="1.5"/>
<circle cx="381.3" cy="342.3" r="1.5"/>
<circle cx="387.7" cy="346.6" r="1.5"/>
<circle cx="380.5" cy="342.8" r="1.5"/>
<circle cx="396.5" cy="339.9" r="1.5"/>
<circle cx="393.6" cy="348.4" r="1.5"/>
<circle cx="388.2" cy="345.9" r="1.5"/>
<circle cx="386.1" cy="345.5" r="1.5"/>
<circle cx="388.3" cy="344.4" r="1.5"/>
<circle cx="393.4" cy="344.6" r="1.5"/>
<circle cx="384.6" cy="346.1" r="1.5"/>
<circle cx="389.5" cy="345.4" r="1.5"/>
<circle cx="385.5" cy="346.0" r="1.5"/>
<circle cx="390.0" cy="343.6" r="1.5"/>
<circle cx="391.3" cy="345.7" r="1.5"/>
<circle cx="389.8" cy="340.1" r="1.5"/>
<circle cx="386.0" cy="344.3" r="1.5"/>
<circle cx="391.0" cy="348.6" r="1.5"/>
<circle cx="390.3" cy="346.7" r="1.5"/>
<circle cx="398.7" cy="342.8" r="1.5"/>
<circle cx="390.5" cy="348.3" r="1.5"/>
<circle cx="387.4" cy="344.8" r="1.5"/>
<circle cx="390.2" cy="341.8" r="1.5"/>
<circle cx="385.2" cy="348.8" r="1.5"/>
<circle cx="392.4" cy="346.7" r="1.5"/>
<circle cx="388.5" cy="345.3" r="1.5"/>
<circle cx="386.7" cy="346.1" r="1.5"/>
<circle cx="378.6" cy="345.5" r="1.5"/>
<circle cx="393.1" cy="346.2" r="1.5"/>
<circle cx="396.2" cy="347.4" r="1.5"/>
<circle cx="385.0" cy="342.0" r="1.5"/>
<circle cx="389.3" cy="347.9" r="1.5"/>
<circle cx="384.4" cy="345.7" r="1.5"/>
<circle cx="390.1" cy="343.4" r="1.5"/>
<circle cx="385.7" cy="341.3" r="1.5"/>
<circle cx="386.9" cy="344.4" r="1.5"/>
<circle cx="397.7" cy="341.0" r="1.5"/>
<circle cx="393.0" cy="347.5" r="1.5"/>
<circle cx="392.9" cy="340.3" r="1.5"/>
<circle cx="386.0" cy="341.2" r="1.5"/>
<circle cx="389.9" cy="343.6" r="1.5"/>
<circle cx="393.4" cy="342.5" r="1.5"/>
<circle cx="390.0" cy="340.3" r="1.5"/>
<circle cx="388.5" cy="345.8" r="1.5"/>
<circle cx="389.7" cy="343.5" r="1.5"/>
<circle cx="390.3" cy="341.9" r="1.5"/>
<circle cx="396.0" cy="341.1" r="1.5"/>
<circle cx="388.8" cy="346.0" r="1.5"/>
<circle cx="384.0" cy="347.1" r="1.5"/>
<circle cx="385.4" cy="341.6" r="1.5"/>
<circle cx="386.6" cy="341.9" r="1.5"/>
<circle cx="396.5" cy="345.5" r="1.5"/>
<circle cx="386.9" cy="348.3" r="1.5"/>
<circle cx="386.3" cy="342.6" r="1.5"/>
<circle cx="376.6" cy="341.6" r="1.5"/>
<circle cx="400.5" cy="345.6" r="1.5"/>
<circle cx="391.5" cy="340.8" r="1.5"/>
<circle cx="393.8" cy="341.1" r="1.5"/>
<circle cx="388.6" cy="345.2" r="1.5"/>
<circle cx="380.1" cy="347.1" r="1.5"/>
<circle cx="391.3" cy="343.8" r="1.5"/>
<circle cx="393.0" cy="345.9" r="1.5"/>
<circle cx="390.2" cy="345.4" r="1.5"/>
<circle cx="393.5" cy="347.4" r="1.5"/>
<circle cx="384.1" cy="347.0" r="1.5"/>
<circle cx="386.6" cy="348.0" r="1.5"/>
<circle cx="393.4" cy="343.3" r="1.5"/>
<circle cx="386.6" cy="348.1" r="1.5"/>
<circle cx="392.7" cy="346.5" r="1.5"/>
<circle cx="390.9" cy="344.4" r="1.5"/>
<circle cx="393.3" cy="343.3" r="1.5"/>
<circle cx="385.0" cy="341.6" r="1.5"/>
<circle cx="384.8" cy="343.5" r="1.5"/>
<circle cx="381.8" cy="348.0" r="1.5"/>
<circle cx="380.6" cy="342.0" r="1.5"/>
<circle cx="397.6" cy="343.6" r="1.5"/>
<circle cx="397.4" cy="339.8" r="1.5"/>
<circle cx="387.5" cy="343.9" r="1.5"/>
<circle cx="397.7" cy="341.8" r="1.5"/>
<circle cx="386.4" cy="347.9" r="1.5"/>
<circle cx="376.1" cy="344.5" r="1.5"/>
<circle cx="396.2" cy="344.9" r="1.5"/>
<circle cx="384.5" cy="344.9" r="1.5"/>
<circle cx="385.4" cy="347.3" r="1.5"/>
<circle cx="384.9" cy="347.5" r="1.5"/>
<circle cx="395.7" cy="343.4" r="1.5"/>
<circle cx="389.9" cy="344.6" r="1.5"/>
<circle cx="385.7" cy="341.5" r="1.5"/>
<circle cx="382.9" cy="342.1" r="1.5"/>
<circle cx="384.5" cy="348.3" r="1.5"/>
<circle cx="388.2" cy="347.9" r="1.5"/>
<circle cx="391.4" cy="348.4" r="1.5"/>
<circle cx="399.2" cy="344.9" r="1.5"/>
<circle cx="390.5" cy="346.5" r="1.5"/>
<circle cx="381.5" cy="347.3" r="1.5"/>
<circle cx="383.6" cy="344.4" r="1.5"/>
<circle cx="392.5" cy="343.8" r="1.5"/>
<circle cx="385.4" cy="340.0" r="1.5"/>
<circle cx="400.0" cy="342.0" r="1.5"/>
<circle cx="392.8" cy="346.1" r="1.5"/>
<circle cx="387.3" cy="341.9" r="1.5"/>
<circle cx="385.3" cy="348.4" r="1.5"/>
<circle cx="387.3" cy="344.6" r="1.5"/>
<circle cx="391.8" cy="340.1" r="1.5"/>
<circle cx="390.4" cy="346.4" r="1.5"/>
<circle cx="400.7" cy="339.9" r="1.5"/>
<circle cx="389.5" cy="343.9" r="1.5"/>
<circle cx="385.7" cy="342.8" r="1.5"/>
<circle cx="387.9" cy="346.3" r="1.5"/>
<circle cx="379.3" cy="344.0" r="1.5"/>
<circle cx="395.6" cy="342.2" r="1.5"/>
<circle cx="387.0" cy="345.2" r="1.5"/>
<circle cx="393.9" cy="347.1" r="1.5"/>
<circle cx="391.0" cy="348.4" r="1.5"/>
<circle cx="389.6" cy="342.8" r="1.5"/>
<circle cx="388.2" cy="343.9" r="1.5"/>
<circle cx="378.0" cy="340.9" r="1.5"/>
<circle cx="388.1" cy="345.3" r="1.5"/>
<circle cx="391.9" cy="346.5" r="1.5"/>
<circle cx="391.5" cy="343.6" r="1.5"/>
<circle cx="382.4" cy="347.5" r="1.5"/>
<circle cx="390.0" cy="347.3" r="1.5"/>
<circle cx="385.7" cy="346.2" r="1.5"/>
<circle cx="381.4" cy="341.2" r="1.5"/>
<circle cx="400.3" cy="346.5" r="1.5"/>
<circle cx="389.9" cy="341.6" r="1.5"/>
<circle cx="385.8" cy="341.2" r="1.5"/>
<circle cx="393.1" cy="346.8" r="1.5"/>
<circle cx="388.5" cy="344.8" r="1.5"/>
<circle cx="397.2" cy="345.6" r="1.5"/>
<circle cx="397.3" cy="341.6" r="1.5"/>
<circle cx="393.3" cy="344.2" r="1.5"/>
<circle cx="385.8" cy="348.3" r="1.5"/>
<circle cx="387.4" cy="342.4" r="1.5"/>
<circle cx="387.0" cy="343.6" r="1.5"/>
<circle cx="385.8" cy="340.7" r="1.5"/>
<circle cx="390.2" cy="341.6" r="1.5"/>
<circle cx="385.7" cy="347.1" r="1.5"/>
<circle cx="396.6" cy="341.4" r="1.5"/>
<circle cx="399.2" cy="342.6" r="1.5"/>
<circle cx="387.8" cy="345.5" r="1.5"/>
<circle cx="391.3" cy="347.8" r="1.5"/>
<circle cx="398.0" cy="343.2" r="1.5"/>
<circle cx="393.1" cy="341.6" r="1.5"/>
<circle cx="398.0" cy="340.1" r="1.5"/>
<circle cx="380.4" cy="346.1" r="1.5"/>
<circle cx="382.2" cy="345.2" r="1.5"/>
<circle cx="388.7" cy="349.1" r="1.5"/>
<circle cx="383.3" cy="346.0" r="1.5"/>
<circle cx="386.6" cy="347.2" r="1.5"/>
<circle cx="385.7" cy="340.1" r="1.5"/>
<circle cx="391.2" cy="340.2" r="1.5"/>
<circle cx="390.3" cy="346.4" r="1.5"/>
<circle cx="395.2" cy="341.6" r="1.5"/>
<circle cx="390.0" cy="343.4" r="1.5"/>
<circle cx="392.2" cy="342.6" r="1.5"/>
<circle cx="392.2" cy="344.1" r="1.5"/>
<circle cx="391.5" cy="344.6" r="1.5"/>
<circle cx="391.2" cy="349.1" r="1.5"/>
<circle cx="390.2" cy="340.8" r="1.5"/>
<circle cx="388.7" cy="346.4" r="1.5"/>
<circle cx="393.9" cy="346.3" r="1.5"/>
<circle cx="394.5" cy="346.5" r="1.5"/>
<circle cx="387.0" cy="344.4" r="1.5"/>
<circle cx="388.4" cy="348.1" r="1.5"/>
<circle cx="391.8" cy="343.3" r="1.5"/>
<circle cx="394.0" cy="341.5" r="1.5"/>
<circle cx="385.0" cy="343.3" r="1.5"/>
<circle cx="375.6" cy="345.4" r="1.5"/>
<circle cx="390.1" cy="346.7" r="1.5"/>
<circle cx="393.6" cy="344.2" r="1.5"/>
<circle cx="392.1" cy="347.3" r="1.5"/>
<circle cx="386.9" cy="341.4" r="1.5"/>
<circle cx="395.1" cy="344.2" r="1.5"/>
<circle cx="389.5" cy="348.1" r="1.5"/>
<circle cx="390.9" cy="344.7" r="1.5"/>
<circle cx="391.7" cy="340.8" r="1.5"/>
<circle cx="388.3" cy="343.3" r="1.5"/>
<circle cx="391.8" cy="348.5" r="1.5"/>
<circle cx="391.6" cy="340.0" r="1.5"/>
<circle cx="381.7" cy="343.6" r="1.5"/>
<circle cx="390.6" cy="345.8" r="1.5"/>
<circle cx="392.6" cy="341.4" r="1.5"/>
<circle cx="389.8" cy="343.6" r="1.5"/>
<circle cx="390.5" cy="347.8" r="1.5"/>
<circle cx="389.2" cy="348.5" r="1.5"/>
<circle cx="390.9" cy="344.9" r="1.5"/>
<circle cx="390.9" cy="347.9" r="1.5"/>
<circle cx="379.4" cy="343.1" r="1.5"/>
<circle cx="383.5" cy="346.1" r="1.5"/>
<circle cx="385.6" cy="344.4" r="1.5"/>
<circle cx="383.7" cy="341.3" r="1.5"/>
<circle cx="394.0" cy="343.1" r="1.5"/>
<circle cx="391.2" cy="341.5" r="1.5"/>
<circle cx="391.0" cy="348.8" r="1.5"/>
<circle cx="389.3" cy="346.6" r="1.5"/>
<circle cx="391.2" cy="340.5" r="1.5"/>
<circle cx="393.3" cy="340.2" r="1.5"/>
<circle cx="389.5" cy="343.8" r="1.5"/>
<circle cx="384.0" cy="340.6" r="1.5"/>
<circle cx="389.8" cy="348.5" r="1.5"/>
<circle cx="380.0" cy="342.2" r="1.5"/>
<circle cx="391.1" cy="348.2" r="1.5"/>
<circle cx="391.9" cy="341.7" r="1.5"/>
<circle cx="391.6" cy="343.0" r="1.5"/>
<circle cx="398.0" cy="344.5" r="1.5"/>
<circle cx="393.5" cy="348.3" r="1.5"/>
<circle cx="385.7" cy="345.9" r="1.5"/>
<circle cx="383.5" cy="341.7" r="1.5"/>
<circle cx="390.0" cy="343.9" r="1.5"/>
<circle cx="399.8" cy="343.3" r="1.5"/>
<circle cx="391.7" cy="340.8" r="1.5"/>
<circle cx="381.2" cy="346.3" r="1.5"/>
<circle cx="390.8" cy="348.3" r="1.5"/>
<circle cx="385.4" cy="346.5" r="1.5"/>
<circle cx="391.2" cy="346.7" r="1.5"/>
<circle cx="390.3" cy="344.5" r="1.5"/>
<circle cx="384.8" cy="343.9" r="1.5"/>
<circle cx="385.6" cy="343.6" r="1.5"/>
<circle cx="388.6" cy="344.3" r="1.5"/>
<circle cx="391.9" cy="348.4" r="1.5"/>
<circle cx="387.5" cy="344.4" r="1.5"/>
<circle cx="393.5" cy="342.8" r="1.5"/>
<circle cx="385.6" cy="342.8" r="1.5"/>
<circle cx="389.9" cy="345.0" r="1.5"/>
<circle cx="386.3" cy="343.0" r="1.5"/>
<circle cx="382.9" cy="343.1" r="1.5"/>
<circle cx="398.9" cy="342.4" r="1.5"/>
<circle cx="399.8" cy="341.3" r="1.5"/>
<circle cx="387.5" cy="345.2" r="1.5"/>
<circle cx="400.3" cy="344.9" r="1.5"/>
<circle cx="390.1" cy="341.0" r="1.5"/>
<circle cx="382.0" cy="341.9" r="1.5"/>
<circle cx="387.4" cy="344.2" r="1.5"/>
<circle cx="390.7" cy="348.4" r="1.5"/>
<circle cx="383.6" cy="345.4" r="1.5"/>
<circle cx="390.6" cy="334.0" r="1.5"/>
<circle cx="390.7" cy="341.8" r="1.5"/>
<circle cx="394.5" cy="345.4" r="1.5"/>
<circle cx="404.2" cy="319.3" r="1.5"/>
<circle cx="396.1" cy="339.5" r="1.5"/>
<circle cx="389.7" cy="345.5" r="1.5"/>
<circle cx="392.0" cy="325.2" r="1.5"/>
<circle cx="386.2" cy="319.9" r="1.5"/>
<circle cx="397.2" cy="346.0" r="1.5"/>
<circle cx="402.9" cy="337.6" r="1.5"/>
<circle cx="385.8" cy="344.8" r="1.5"/>
<circle cx="392.0" cy="342.9" r="1.5"/>
<circle cx="384.8" cy="348.0" r="1.5"/>
<circle cx="395.5" cy="329.0" r="1.5"/>
<circle cx="400.4" cy="329.0" r="1.5"/>
<circle cx="386.8" cy="340.7" r="1.5"/>
<circle cx="400.6" cy="324.1" r="1.5"/>
<circle cx="390.9" cy="326.8" r="1.5"/>
<circle cx="383.9" cy="342.9" r="1.5"/>
<circle cx="389.6" cy="348.5" r="1.5"/>
<circle cx="388.5" cy="345.3" r="1.5"/>
<circle cx="383.0" cy="339.5" r="1.5"/>
<circle cx="393.5" cy="341.6" r="1.5"/>
<circle cx="393.4" cy="327.1" r="1.5"/>
<circle cx="393.8" cy="340.9" r="1.5"/>
<circle cx="383.3" cy="338.5" r="1.5"/>
<circle cx="393.0" cy="342.9" r="1.5"/>
<circle cx="399.2" cy="334.0" r="1.5"/>
<circle cx="389.9" cy="348.5" r="1.5"/>
<circle cx="393.3" cy="328.4" r="1.5"/>
<circle cx="386.8" cy="331.7" r="1.5"/>
<circle cx="396.4" cy="338.6" r="1.5"/>
<circle cx="391.6" cy="348.7" r="1.5"/>
<circle cx="399.8" cy="335.7" r="1.5"/>
<circle cx="393.1" cy="338.9" r="1.5"/>
<circle cx="385.7" cy="333.8" r="1.5"/>
<circle cx="390.3" cy="346.4" r="1.5"/>
<circle cx="400.2" cy="345.9" r="1.5"/>
<circle cx="391.5" cy="342.6" r="1.5"/>
<circle cx="380.0" cy="327.9" r="1.5"/>
<circle cx="394.4" cy="341.7" r="1.5"/>
<circle cx="394.5" cy="344.3" r="1.5"/>
<circle cx="387.1" cy="346.4" r="1.5"/>
<circle cx="383.4" cy="346.1" r="1.5"/>
<circle cx="386.2" cy="345.2" r="1.5"/>
<circle cx="384.9" cy="336.5" r="1.5"/>
<circle cx="392.5" cy="326.8" r="1.5"/>
<circle cx="394.4" cy="327.3" r="1.5"/>
<circle cx="388.8" cy="349.2" r="1.5"/>
<circle cx="386.4" cy="338.3" r="1.5"/>
<circle cx="391.1" cy="348.9" r="1.5"/>
<circle cx="391.7" cy="337.2" r="1.5"/>
<circle cx="400.7" cy="345.2" r="1.5"/>
<circle cx="390.5" cy="328.4" r="1.5"/>
<circle cx="391.2" cy="342.4" r="1.5"/>
<circle cx="385.5" cy="339.8" r="1.5"/>
<circle cx="390.0" cy="336.8" r="1.5"/>
<circle cx="385.7" cy="330.9" r="1.5"/>
<circle cx="401.1" cy="345.1" r="1.5"/>
<circle cx="392.2" cy="321.1" r="1.5"/>
<circle cx="390.6" cy="328.5" r="1.5"/>
<circle cx="392.4" cy="329.5" r="1.5"/>
<circle cx="394.3" cy="343.9" r="1.5"/>
<circle cx="374.7" cy="340.7" r="1.5"/>
<circle cx="387.1" cy="322.1" r="1.5"/>
<circle cx="393.3" cy="335.1" r="1.5"/>
<circle cx="391.3" cy="340.7" r="1.5"/>
<circle cx="400.7" cy="325.6" r="1.5"/>
<circle cx="383.8" cy="332.3" r="1.5"/>
<circle cx="390.6" cy="349.1" r="1.5"/>
<circle cx="389.9" cy="338.5" r="1.5"/>
<circle cx="398.6" cy="319.7" r="1.5"/>
<circle cx="387.2" cy="344.2" r="1.5"/>
<circle cx="397.7" cy="342.4" r="1.5"/>
<circle cx="387.4" cy="344.8" r="1.5"/>
<circle cx="402.2" cy="329.5" r="1.5"/>
<circle cx="393.1" cy="334.3" r="1.5"/>
<circle cx="394.7" cy="340.8" r="1.5"/>
<circle cx="386.9" cy="339.4" r="1.5"/>
<circle cx="391.8" cy="330.8" r="1.5"/>
<circle cx="384.6" cy="337.1" r="1.5"/>
<circle cx="384.7" cy="329.1" r="1.5"/>
<circle cx="400.4" cy="321.8" r="1.5"/>
<circle cx="400.7" cy="319.8" r="1.5"/>
<circle cx="388.8" cy="344.9" r="1.5"/>
<circle cx="378.9" cy="326.7" r="1.5"/>
<circle cx="392.9" cy="337.4" r="1.5"/>
<circle cx="394.8" cy="320.9" r="1.5"/>
<circle cx="396.8" cy="320.3" r="1.5"/>
<circle cx="385.0" cy="345.3" r="1.5"/>
<circle cx="393.7" cy="330.5" r="1.5"/>
<circle cx="385.0" cy="341.2" r="1.5"/>
<circle cx="399.3" cy="337.5" r="1.5"/>
<circle cx="390.1" cy="345.9" r="1.5"/>
<circle cx="387.5" cy="327.6" r="1.5"/>
<circle cx="382.5" cy="340.9" r="1.5"/>
<circle cx="391.8" cy="337.1" r="1.5"/>
<circle cx="385.5" cy="339.5" r="1.5"/>
<circle cx="388.0" cy="335.6" r="1.5"/>
<circle cx="387.2" cy="334.5" r="1.5"/>
<circle cx="397.4" cy="323.3" r="1.5"/>
<circle cx="386.3" cy="346.3" r="1.5"/>
<circle cx="384.9" cy="324.7" r="1.5"/>
<circle cx="376.3" cy="331.3" r="1.5"/>
<circle cx="387.4" cy="333.6" r="1.5"/>
<circle cx="393.9" cy="330.5" r="1.5"/>
<circle cx="392.0" cy="336.9" r="1.5"/>
<circle cx="395.1" cy="343.1" r="1.5"/>
<circle cx="381.7" cy="331.8" r="1.5"/>
<circle cx="382.8" cy="321.2" r="1.5"/>
<circle cx="395.1" cy="346.7" r="1.5"/>
<circle cx="396.3" cy="345.1" r="1.5"/>
<circle cx="397.8" cy="347.4" r="1.5"/>
<circle cx="392.1" cy="319.3" r="1.5"/>
<circle cx="399.0" cy="335.8" r="1.5"/>
<circle cx="391.0" cy="346.4" r="1.5"/>
<circle cx="392.7" cy="340.8" r="1.5"/>
<circle cx="404.1" cy="338.1" r="1.5"/>
<circle cx="380.8" cy="344.9" r="1.5"/>
<circle cx="408.5" cy="333.5" r="1.5"/>
<circle cx="392.5" cy="343.9" r="1.5"/>
<circle cx="396.2" cy="337.8" r="1.5"/>
<circle cx="391.6" cy="343.4" r="1.5"/>
<circle cx="396.7" cy="336.0" r="1.5"/>
<circle cx="391.5" cy="346.7" r="1.5"/>
<circle cx="383.2" cy="348.1" r="1.5"/>
<circle cx="391.4" cy="328.9" r="1.5"/>
<circle cx="396.1" cy="330.2" r="1.5"/>
<circle cx="383.5" cy="346.3" r="1.5"/>
<circle cx="388.2" cy="345.3" r="1.5"/>
<circle cx="391.7" cy="331.8" r="1.5"/>
<circle cx="396.4" cy="341.5" r="1.5"/>
<circle cx="389.8" cy="343.6" r="1.5"/>
<circle cx="397.0" cy="324.4" r="1.5"/>
<circle cx="383.4" cy="322.3" r="1.5"/>
<circle cx="398.5" cy="335.4" r="1.5"/>
<circle cx="395.9" cy="346.2" r="1.5"/>
<circle cx="383.3" cy="340.8" r="1.5"/>
<circle cx="390.6" cy="348.3" r="1.5"/>
<circle cx="378.9" cy="335.1" r="1.5"/>
<circle cx="387.2" cy="341.4" r="1.5"/>
<circle cx="396.9" cy="345.8" r="1.5"/>
<circle cx="395.1" cy="328.1" r="1.5"/>
<circle cx="380.5" cy="336.8" r="1.5"/>
<circle cx="391.6" cy="337.9" r="1.5"/>
<circle cx="393.0" cy="347.5" r="1.5"/>
<circle cx="396.7" cy="341.9" r="1.5"/>
<circle cx="393.3" cy="327.9" r="1.5"/>
<circle cx="397.5" cy="341.0" r="1.5"/>
<circle cx="385.4" cy="323.8" r="1.5"/>
<circle cx="388.0" cy="338.1" r="1.5"/>
<circle cx="387.1" cy="331.0" r="1.5"/>
<circle cx="380.0" cy="343.9" r="1.5"/>
<circle cx="380.1" cy="334.4" r="1.5"/>
<circle cx="393.2" cy="320.3" r="1.5"/>
<circle cx="390.9" cy="325.6" r="1.5"/>
<circle cx="396.7" cy="346.0" r="1.5"/>
<circle cx="380.8" cy="342.9" r="1.5"/>
<circle cx="392.0" cy="348.8" r="1.5"/>
<circle cx="387.2" cy="347.6" r="1.5"/>
<circle cx="383.1" cy="323.4" r="1.5"/>
<circle cx="392.0" cy="321.1" r="1.5"/>
<circle cx="398.0" cy="332.8" r="1.5"/>
<circle cx="385.2" cy="344.4" r="1.5"/>
<circle cx="386.4" cy="348.8" r="1.5"/>
<circle cx="378.5" cy="326.9" r="1.5"/>
<circle cx="381.8" cy="344.1" r="1.5"/>
<circle cx="378.7" cy="343.7" r="1.5"/>
<circle cx="386.7" cy="348.5" r="1.5"/>
<circle cx="387.4" cy="335.5" r="1.5"/>
<circle cx="388.0" cy="347.9" r="1.5"/>
<circle cx="382.3" cy="346.9" r="1.5"/>
<circle cx="385.8" cy="343.8" r="1.5"/>
<circle cx="384.9" cy="346.0" r="1.5"/>
<circle cx="395.6" cy="334.0" r="1.5"/>
<circle cx="392.1" cy="345.5" r="1.5"/>
<circle cx="371.4" cy="337.0" r="1.5"/>
<circle cx="386.2" cy="338.3" r="1.5"/>
<circle cx="389.8" cy="342.4" r="1.5"/>
<circle cx="385.5" cy="348.4" r="1.5"/>
<circle cx="393.5" cy="330.0" r="1.5"/>
<circle cx="389.9" cy="338.9" r="1.5"/>
<circle cx="384.8" cy="327.6" r="1.5"/>
<circle cx="394.8" cy="340.8" r="1.5"/>
<circle cx="397.0" cy="338.5" r="1.5"/>
<circle cx="398.8" cy="340.9" r="1.5"/>
<circle cx="393.7" cy="341.2" r="1.5"/>
<circle cx="394.3" cy="323.4" r="1.5"/>
<circle cx="387.8" cy="342.3" r="1.5"/>
<circle cx="382.6" cy="348.0" r="1.5"/>
<circle cx="387.8" cy="347.0" r="1.5"/>
<circle cx="386.0" cy="318.7" r="1.5"/>
<circle cx="391.0" cy="344.6" r="1.5"/>
<circle cx="381.4" cy="320.8" r="1.5"/>
<circle cx="384.9" cy="348.6" r="1.5"/>
<circle cx="389.0" cy="349.2" r="1.5"/>
<circle cx="393.0" cy="347.9" r="1.5"/>
<circle cx="382.9" cy="327.4" r="1.5"/>
<circle cx="396.3" cy="341.4" r="1.5"/>
<circle cx="385.2" cy="345.2" r="1.5"/>
<circle cx="391.7" cy="342.5" r="1.5"/>
<circle cx="396.1" cy="346.1" r="1.5"/>
<circle cx="391.8" cy="348.3" r="1.5"/>
<circle cx="376.0" cy="340.3" r="1.5"/>
<circle cx="396.1" cy="336.6" r="1.5"/>
<circle cx="393.0" cy="338.1" r="1.5"/>
<circle cx="396.8" cy="335.5" r="1.5"/>
<circle cx="383.4" cy="318.8" r="1.5"/>
<circle cx="384.0" cy="319.0" r="1.5"/>
<circle cx="389.3" cy="348.5" r="1.5"/>
<circle cx="396.2" cy="338.2" r="1.5"/>
<circle cx="386.6" cy="330.5" r="1.5"/>
<circle cx="385.5" cy="323.9" r="1.5"/>
<circle cx="387.0" cy="347.8" r="1.5"/>
<circle cx="387.7" cy="338.9" r="1.5"/>
<circle cx="396.2" cy="326.3" r="1.5"/>
<circle cx="385.3" cy="342.2" r="1.5"/>
<circle cx="400.5" cy="327.9" r="1.5"/>
<circle cx="400.6" cy="326.5" r="1.5"/>
<circle cx="398.8" cy="333.8" r="1.5"/>
<circle cx="402.9" cy="343.0" r="1.5"/>
<circle cx="395.6" cy="324.6" r="1.5"/>
<circle cx="391.7" cy="326.8" r="1.5"/>
<circle cx="396.4" cy="319.5" r="1.5"/>
<circle cx="380.2" cy="343.0" r="1.5"/>
<circle cx="384.2" cy="346.6" r="1.5"/>
<circle cx="400.5" cy="321.4" r="1.5"/>
<circle cx="387.8" cy="349.0" r="1.5"/>
<circle cx="386.1" cy="335.8" r="1.5"/>
<circle cx="395.5" cy="337.2" r="1.5"/>
<circle cx="397.3" cy="325.0" r="1.5"/>
<circle cx="391.1" cy="337.9" r="1.5"/>
<circle cx="381.2" cy="323.2" r="1.5"/>
<circle cx="385.6" cy="347.9" r="1.5"/>
<circle cx="394.4" cy="339.8" r="1.5"/>
<circle cx="395.1" cy="326.0" r="1.5"/>
<circle cx="397.0" cy="323.6" r="1.5"/>
<circle cx="396.2" cy="335.8" r="1.5"/>
<circle cx="383.3" cy="346.7" r="1.5"/>
<circle cx="392.3" cy="340.2" r="1.5"/>
<circle cx="380.2" cy="339.1" r="1.5"/>
<circle cx="386.4" cy="340.2" r="1.5"/>
<circle cx="382.8" cy="336.8" r="1.5"/>
<circle cx="389.1" cy="349.1" r="1.5"/>
<circle cx="387.2" cy="328.8" r="1.5"/>
<circle cx="388.1" cy="345.4" r="1.5"/>
<circle cx="382.4" cy="329.7" r="1.5"/>
<circle cx="387.6" cy="329.1" r="1.5"/>
<circle cx="393.8" cy="346.1" r="1.5"/>
<circle cx="392.4" cy="347.4" r="1.5"/>
<circle cx="386.9" cy="330.7" r="1.5"/>
<circle cx="390.9" cy="328.6" r="1.5"/>
<circle cx="384.0" cy="331.3" r="1.5"/>
<circle cx="385.2" cy="341.3" r="1.5"/>
<circle cx="398.5" cy="340.3" r="1.5"/>
<circle cx="398.4" cy="332.3" r="1.5"/>
<circle cx="372.7" cy="325.4" r="1.5"/>
<circle cx="385.0" cy="347.1" r="1.5"/>
<circle cx="401.4" cy="321.5" r="1.5"/>
<circle cx="386.9" cy="342.7" r="1.5"/>
<circle cx="383.8" cy="322.0" r="1.5"/>
<circle cx="395.7" cy="344.4" r="1.5"/>
<circle cx="389.5" cy="347.4" r="1.5"/>
<circle cx="393.8" cy="322.6" r="1.5"/>
<circle cx="396.6" cy="340.0" r="1.5"/>
<circle cx="395.3" cy="346.6" r="1.5"/>
<circle cx="383.3" cy="341.5" r="1.5"/>
<circle cx="400.2" cy="346.6" r="1.5"/>
<circle cx="393.0" cy="344.0" r="1.5"/>
<circle cx="394.5" cy="343.2" r="1.5"/>
<circle cx="394.4" cy="338.2" r="1.5"/>
<circle cx="387.7" cy="333.5" r="1.5"/>
<circle cx="387.1" cy="331.6" r="1.5"/>
<circle cx="395.4" cy="347.1" r="1.5"/>
<circle cx="396.2" cy="346.6" r="1.5"/>
<circle cx="386.5" cy="341.1" r="1.5"/>
<circle cx="390.7" cy="335.3" r="1.5"/>
<circle cx="387.2" cy="345.4" r="1.5"/>
<circle cx="391.3" cy="331.1" r="1.5"/>
<circle cx="382.2" cy="344.7" r="1.5"/>
<circle cx="396.2" cy="321.2" r="1.5"/>
<circle cx="385.1" cy="321.3" r="1.5"/>
<circle cx="397.1" cy="324.7" r="1.5"/>
<circle cx="378.8" cy="334.4" r="1.5"/>
<circle cx="407.3" cy="332.2" r="1.5"/>
<circle cx="397.4" cy="332.2" r="1.5"/>
<circle cx="392.1" cy="320.8" r="1.5"/>
<circle cx="386.5" cy="349.0" r="1.5"/>
<circle cx="384.4" cy="344.0" r="1.5"/>
<circle cx="399.5" cy="340.4" r="1.5"/>
<circle cx="393.8" cy="326.8" r="1.5"/>
<circle cx="393.7" cy="326.7" r="1.5"/>
<circle cx="404.5" cy="326.4" r="1.5"/>
<circle cx="396.7" cy="338.5" r="1.5"/>
<circle cx="390.7" cy="333.6" r="1.5"/>
<circle cx="392.6" cy="344.8" r="1.5"/>
<circle cx="392.2" cy="348.5" r="1.5"/>
<circle cx="395.1" cy="342.3" r="1.5"/>
<circle cx="393.8" cy="347.5" r="1.5"/>
<circle cx="384.3" cy="339.2" r="1.5"/>
<circle cx="395.8" cy="340.2" r="1.5"/>
<circle cx="387.5" cy="335.5" r="1.5"/>
<circle cx="371.3" cy="326.5" r="1.5"/>
<circle cx="377.0" cy="342.1" r="1.5"/>
<circle cx="383.6" cy="332.8" r="1.5"/>
<circle cx="373.9" cy="334.6" r="1.5"/>
<circle cx="405.1" cy="330.3" r="1.5"/>
<circle cx="391.4" cy="333.8" r="1.5"/>
<circle cx="396.3" cy="342.8" r="1.5"/>
<circle cx="398.9" cy="343.6" r="1.5"/>
<circle cx="416.2" cy="320.2" r="1.5"/>
<circle cx="379.3" cy="333.1" r="1.5"/>
<circle cx="386.4" cy="332.8" r="1.5"/>
<circle cx="403.6" cy="340.4" r="1.5"/>
<circle cx="401.0" cy="343.9" r="1.5"/>
<circle cx="396.0" cy="331.8" r="1.5"/>
<circle cx="397.1" cy="343.0" r="1.5"/>
<circle cx="378.3" cy="337.8" r="1.5"/>
<circle cx="403.8" cy="338.4" r="1.5"/>
<circle cx="394.0" cy="329.3" r="1.5"/>
<circle cx="407.5" cy="340.0" r="1.5"/>
<circle cx="381.3" cy="342.5" r="1.5"/>
<circle cx="379.1" cy="319.2" r="1.5"/>
<circle cx="377.1" cy="320.8" r="1.5"/>
<circle cx="383.7" cy="346.3" r="1.5"/>
<circle cx="397.8" cy="347.3" r="1.5"/>
<circle cx="400.3" cy="327.0" r="1.5"/>
<circle cx="401.7" cy="333.4" r="1.5"/>
<circle cx="377.3" cy="324.1" r="1.5"/>
<circle cx="384.9" cy="322.4" r="1.5"/>
<circle cx="383.0" cy="348.1" r="1.5"/>
<circle cx="410.1" cy="328.4" r="1.5"/>
<circle cx="388.0" cy="343.9" r="1.5"/>
<circle cx="382.3" cy="323.4" r="1.5"/>
<circle cx="376.5" cy="343.3" r="1.5"/>
<circle cx="386.7" cy="337.4" r="1.5"/>
<circle cx="395.1" cy="334.1" r="1.5"/>
<circle cx="390.5" cy="349.2" r="1.5"/>
<circle cx="384.2" cy="334.1" r="1.5"/>
<circle cx="382.6" cy="338.1" r="1.5"/>
<circle cx="385.6" cy="328.6" r="1.5"/>
<circle cx="378.3" cy="336.3" r="1.5"/>
<circle cx="407.8" cy="329.3" r="1.5"/>
<circle cx="375.1" cy="319.8" r="1.5"/>
<circle cx="382.1" cy="338.3" r="1.5"/>
<circle cx="428.0" cy="335.8" r="1.5"/>
<circle cx="437.1" cy="341.0" r="1.5"/>
<circle cx="391.3" cy="282.1" r="1.5"/>
<circle cx="391.0" cy="292.2" r="1.5"/>
<circle cx="390.4" cy="294.2" r="1.5"/>
<circle cx="393.3" cy="300.9" r="1.5"/>
<circle cx="392.8" cy="302.5" r="1.5"/>
<circle cx="393.5" cy="312.0" r="1.5"/>
<circle cx="392.6" cy="314.5" r="1.5"/>
<circle cx="394.0" cy="316.5" r="1.5"/>
</g>
<g class="pk">
<circle cx="370.5" cy="294.8" r="1.35"/>
<circle cx="374.5" cy="296.2" r="1.35"/>
<circle cx="371.5" cy="299.1" r="1.35"/>
<circle cx="374.5" cy="300.2" r="1.35"/>
<circle cx="373.1" cy="303.6" r="1.35"/>
<circle cx="376.0" cy="302.9" r="1.35"/>
<circle cx="376.5" cy="305.3" r="1.35"/>
<circle cx="383.0" cy="304.3" r="1.35"/>
<circle cx="380.7" cy="307.2" r="1.35"/>
<circle cx="370.5" cy="308.6" r="1.35"/>
<circle cx="375.8" cy="309.4" r="1.35"/>
<circle cx="375.2" cy="311.3" r="1.35"/>
<circle cx="383.0" cy="311.3" r="1.35"/>
<circle cx="358.7" cy="316.1" r="1.35"/>
<circle cx="372.6" cy="315.3" r="1.35"/>
<circle cx="376.0" cy="317.0" r="1.35"/>
<circle cx="371.8" cy="318.0" r="1.35"/>
<circle cx="383.0" cy="315.3" r="1.35"/>
<circle cx="394.0" cy="284.7" r="1.35"/>
<circle cx="400.9" cy="286.4" r="1.35"/>
<circle cx="394.1" cy="296.5" r="1.35"/>
<circle cx="395.1" cy="302.6" r="1.35"/>
<circle cx="407.2" cy="302.2" r="1.35"/>
<circle cx="405.6" cy="305.3" r="1.35"/>
<circle cx="400.5" cy="317.5" r="1.35"/>
</g>
<line x1="316.0" y1="318.65" x2="462.3" y2="318.65" class="th"/>
<line x1="384.21" y1="279.7" x2="384.21" y2="351.2" class="th"/>
<line x1="393.99" y1="279.7" x2="393.99" y2="351.2" class="th"/>
<path d="M316.0,279.7 V351.2 H462.3" fill="none" stroke="#111" stroke-width="1.5"/>
<line x1="313.0" y1="349.20" x2="316.0" y2="349.20" stroke="#111" stroke-width="1"/>
<text x="310.4" y="352.0" font-size="7.9" text-anchor="end" fill="#1a1a1a" stroke="#1a1a1a" stroke-width="0.15">0.0</text>
<line x1="313.0" y1="337.45" x2="316.0" y2="337.45" stroke="#111" stroke-width="1"/>
<text x="310.4" y="340.25" font-size="7.9" text-anchor="end" fill="#1a1a1a" stroke="#1a1a1a" stroke-width="0.15">0.5</text>
<line x1="313.0" y1="325.70" x2="316.0" y2="325.70" stroke="#111" stroke-width="1"/>
<text x="310.4" y="328.5" font-size="7.9" text-anchor="end" fill="#1a1a1a" stroke="#1a1a1a" stroke-width="0.15">1.0</text>
<line x1="313.0" y1="313.95" x2="316.0" y2="313.95" stroke="#111" stroke-width="1"/>
<text x="310.4" y="316.75" font-size="7.9" text-anchor="end" fill="#1a1a1a" stroke="#1a1a1a" stroke-width="0.15">1.5</text>
<line x1="313.0" y1="302.20" x2="316.0" y2="302.20" stroke="#111" stroke-width="1"/>
<text x="310.4" y="305.0" font-size="7.9" text-anchor="end" fill="#1a1a1a" stroke="#1a1a1a" stroke-width="0.15">2.0</text>
<line x1="313.0" y1="290.45" x2="316.0" y2="290.45" stroke="#111" stroke-width="1"/>
<text x="310.4" y="293.25" font-size="7.9" text-anchor="end" fill="#1a1a1a" stroke="#1a1a1a" stroke-width="0.15">2.5</text>
<line x1="333.30" y1="351.2" x2="333.30" y2="354.2" stroke="#111" stroke-width="1"/>
<text x="333.3" y="363.8" font-size="7.9" text-anchor="middle" fill="#1a1a1a" stroke="#1a1a1a" stroke-width="0.15">–3</text>
<line x1="351.90" y1="351.2" x2="351.90" y2="354.2" stroke="#111" stroke-width="1"/>
<text x="351.9" y="363.8" font-size="7.9" text-anchor="middle" fill="#1a1a1a" stroke="#1a1a1a" stroke-width="0.15">–2</text>
<line x1="370.50" y1="351.2" x2="370.50" y2="354.2" stroke="#111" stroke-width="1"/>
<text x="370.5" y="363.8" font-size="7.9" text-anchor="middle" fill="#1a1a1a" stroke="#1a1a1a" stroke-width="0.15">–1</text>
<line x1="389.10" y1="351.2" x2="389.10" y2="354.2" stroke="#111" stroke-width="1"/>
<text x="389.1" y="363.8" font-size="7.9" text-anchor="middle" fill="#1a1a1a" stroke="#1a1a1a" stroke-width="0.15">0</text>
<line x1="407.70" y1="351.2" x2="407.70" y2="354.2" stroke="#111" stroke-width="1"/>
<text x="407.7" y="363.8" font-size="7.9" text-anchor="middle" fill="#1a1a1a" stroke="#1a1a1a" stroke-width="0.15">1</text>
<line x1="426.30" y1="351.2" x2="426.30" y2="354.2" stroke="#111" stroke-width="1"/>
<text x="426.3" y="363.8" font-size="7.9" text-anchor="middle" fill="#1a1a1a" stroke="#1a1a1a" stroke-width="0.15">2</text>
<line x1="444.90" y1="351.2" x2="444.90" y2="354.2" stroke="#111" stroke-width="1"/>
<text x="444.9" y="363.8" font-size="7.9" text-anchor="middle" fill="#1a1a1a" stroke="#1a1a1a" stroke-width="0.15">3</text>
<text x="389.5" y="273.5" font-size="10.3" text-anchor="middle" fill="#111" textLength="41.5" lengthAdjust="spacingAndGlyphs" stroke="#111" stroke-width="0.2">PC vs WC</text>
<text x="386.1" y="375.5" font-size="9.2" text-anchor="middle" fill="#1a1a1a" textLength="43.3" lengthAdjust="spacingAndGlyphs" stroke="#1a1a1a" stroke-width="0.15">log2 (PC/WC)</text>
<text transform="translate(292.3,315.5) rotate(-90)" x="0" y="0" font-size="9.2" text-anchor="middle" fill="#1a1a1a" stroke="#1a1a1a" stroke-width="0.15" textLength="54" lengthAdjust="spacingAndGlyphs">-log10 (p-value)</text>
<rect x="8" y="399.3" width="504.5" height="27.599999999999966" fill="#154f87"/>
<rect x="8" y="426.90" width="504.5" height="17.52" fill="#dde5ee"/>
<text x="12.5" y="440.0" font-size="10" text-anchor="start" fill="#141414" textLength="31.55" lengthAdjust="spacingAndGlyphs" stroke="#141414" stroke-width="0.15">P39428</text>
<text x="68.3" y="440.0" font-size="10" text-anchor="start" fill="#141414" textLength="139.15" lengthAdjust="spacingAndGlyphs" stroke="#141414" stroke-width="0.15">TNF receptor-associated factor 1</text>
<text x="321.3" y="440.0" font-size="10" text-anchor="middle" fill="#141414" textLength="19.98" lengthAdjust="spacingAndGlyphs" stroke="#141414" stroke-width="0.15">Traf1</text>
<text x="371.0" y="440.0" font-size="10" text-anchor="middle" fill="#141414" textLength="15.52" lengthAdjust="spacingAndGlyphs" stroke="#141414" stroke-width="0.15">290</text>
<text x="420.2" y="440.0" font-size="10" text-anchor="middle" fill="#141414" textLength="6.34" lengthAdjust="spacingAndGlyphs" stroke="#141414" stroke-width="0.15">Y</text>
<text x="478.3" y="440.0" font-size="10" text-anchor="middle" fill="#141414" textLength="38.79" lengthAdjust="spacingAndGlyphs" stroke="#141414" stroke-width="0.15">1.959062</text>
<rect x="8" y="444.42" width="504.5" height="17.52" fill="#aac0d5"/>
<rect x="8" y="444.02" width="504.5" height="0.8" fill="#fff" fill-opacity="0.45"/>
<text x="12.5" y="457.52" font-size="10" text-anchor="start" fill="#141414" textLength="31.55" lengthAdjust="spacingAndGlyphs" stroke="#141414" stroke-width="0.15">P39428</text>
<text x="68.3" y="457.52" font-size="10" text-anchor="start" fill="#141414" textLength="139.15" lengthAdjust="spacingAndGlyphs" stroke="#141414" stroke-width="0.15">TNF receptor-associated factor 1</text>
<text x="321.3" y="457.52" font-size="10" text-anchor="middle" fill="#141414" textLength="19.98" lengthAdjust="spacingAndGlyphs" stroke="#141414" stroke-width="0.15">Traf1</text>
<text x="371.0" y="457.52" font-size="10" text-anchor="middle" fill="#141414" textLength="15.52" lengthAdjust="spacingAndGlyphs" stroke="#141414" stroke-width="0.15">283</text>
<text x="420.2" y="457.52" font-size="10" text-anchor="middle" fill="#141414" textLength="6.34" lengthAdjust="spacingAndGlyphs" stroke="#141414" stroke-width="0.15">S</text>
<text x="478.3" y="457.52" font-size="10" text-anchor="middle" fill="#141414" textLength="38.79" lengthAdjust="spacingAndGlyphs" stroke="#141414" stroke-width="0.15">1.959062</text>
<rect x="8" y="461.94" width="504.5" height="17.52" fill="#dde5ee"/>
<rect x="8" y="461.54" width="504.5" height="0.8" fill="#fff" fill-opacity="0.45"/>
<text x="12.5" y="475.04" font-size="10" text-anchor="start" fill="#141414" textLength="31.55" lengthAdjust="spacingAndGlyphs" stroke="#141414" stroke-width="0.15">P39428</text>
<text x="68.3" y="475.04" font-size="10" text-anchor="start" fill="#141414" textLength="139.15" lengthAdjust="spacingAndGlyphs" stroke="#141414" stroke-width="0.15">TNF receptor-associated factor 1</text>
<text x="321.3" y="475.04" font-size="10" text-anchor="middle" fill="#141414" textLength="19.98" lengthAdjust="spacingAndGlyphs" stroke="#141414" stroke-width="0.15">Traf1</text>
<text x="371.0" y="475.04" font-size="10" text-anchor="middle" fill="#141414" textLength="15.52" lengthAdjust="spacingAndGlyphs" stroke="#141414" stroke-width="0.15">291</text>
<text x="420.2" y="475.04" font-size="10" text-anchor="middle" fill="#141414" textLength="5.8" lengthAdjust="spacingAndGlyphs" stroke="#141414" stroke-width="0.15">T</text>
<text x="478.3" y="475.04" font-size="10" text-anchor="middle" fill="#141414" textLength="38.79" lengthAdjust="spacingAndGlyphs" stroke="#141414" stroke-width="0.15">1.959062</text>
<rect x="8" y="479.46" width="504.5" height="17.52" fill="#aac0d5"/>
<rect x="8" y="479.06" width="504.5" height="0.8" fill="#fff" fill-opacity="0.45"/>
<text x="12.5" y="492.56" font-size="10" text-anchor="start" fill="#141414" textLength="32.56" lengthAdjust="spacingAndGlyphs" stroke="#141414" stroke-width="0.15">O70469</text>
<text x="68.3" y="492.56" font-size="10" text-anchor="start" fill="#141414" textLength="74.09" lengthAdjust="spacingAndGlyphs" stroke="#141414" stroke-width="0.15">Docking protein 2</text>
<text x="321.3" y="492.56" font-size="10" text-anchor="middle" fill="#141414" textLength="20.31" lengthAdjust="spacingAndGlyphs" stroke="#141414" stroke-width="0.15">Dok2</text>
<text x="371.0" y="492.56" font-size="10" text-anchor="middle" fill="#141414" textLength="10.34" lengthAdjust="spacingAndGlyphs" stroke="#141414" stroke-width="0.15">53</text>
<text x="420.2" y="492.56" font-size="10" text-anchor="middle" fill="#141414" textLength="5.8" lengthAdjust="spacingAndGlyphs" stroke="#141414" stroke-width="0.15">T</text>
<text x="478.3" y="492.56" font-size="10" text-anchor="middle" fill="#141414" textLength="38.79" lengthAdjust="spacingAndGlyphs" stroke="#141414" stroke-width="0.15">1.864096</text>
<rect x="8" y="496.98" width="504.5" height="17.52" fill="#dde5ee"/>
<rect x="8" y="496.58" width="504.5" height="0.8" fill="#fff" fill-opacity="0.45"/>
<text x="12.5" y="510.08" font-size="10" text-anchor="start" fill="#141414" textLength="32.56" lengthAdjust="spacingAndGlyphs" stroke="#141414" stroke-width="0.15">Q63918</text>
<text x="68.3" y="510.08" font-size="10" text-anchor="start" fill="#141414" textLength="128.6" lengthAdjust="spacingAndGlyphs" stroke="#141414" stroke-width="0.15">Caveolae-associated protein 2</text>
<text x="321.3" y="510.08" font-size="10" text-anchor="middle" fill="#141414" textLength="27.08" lengthAdjust="spacingAndGlyphs" stroke="#141414" stroke-width="0.15">Cavin2</text>
<text x="371.0" y="510.08" font-size="10" text-anchor="middle" fill="#141414" textLength="15.52" lengthAdjust="spacingAndGlyphs" stroke="#141414" stroke-width="0.15">287</text>
<text x="420.2" y="510.08" font-size="10" text-anchor="middle" fill="#141414" textLength="6.34" lengthAdjust="spacingAndGlyphs" stroke="#141414" stroke-width="0.15">S</text>
<text x="478.3" y="510.08" font-size="10" text-anchor="middle" fill="#141414" textLength="38.79" lengthAdjust="spacingAndGlyphs" stroke="#141414" stroke-width="0.15">1.563857</text>
<rect x="8" y="514.50" width="504.5" height="17.52" fill="#aac0d5"/>
<rect x="8" y="514.10" width="504.5" height="0.8" fill="#fff" fill-opacity="0.45"/>
<text x="12.5" y="527.6" font-size="10" text-anchor="start" fill="#141414" textLength="36.11" lengthAdjust="spacingAndGlyphs" stroke="#141414" stroke-width="0.15">Q8CG03</text>
<text x="68.3" y="527.6" font-size="10" text-anchor="start" fill="#141414" textLength="190.35" lengthAdjust="spacingAndGlyphs" stroke="#141414" stroke-width="0.15">cGMP-specific 3′,5′-cyclic phosphodiesterase</text>
<text x="321.3" y="527.6" font-size="10" text-anchor="middle" fill="#141414" textLength="25.16" lengthAdjust="spacingAndGlyphs" stroke="#141414" stroke-width="0.15">Pde5a</text>
<text x="371.0" y="527.6" font-size="10" text-anchor="middle" fill="#141414" textLength="10.34" lengthAdjust="spacingAndGlyphs" stroke="#141414" stroke-width="0.15">92</text>
<text x="420.2" y="527.6" font-size="10" text-anchor="middle" fill="#141414" textLength="6.34" lengthAdjust="spacingAndGlyphs" stroke="#141414" stroke-width="0.15">S</text>
<text x="478.3" y="527.6" font-size="10" text-anchor="middle" fill="#141414" textLength="38.79" lengthAdjust="spacingAndGlyphs" stroke="#141414" stroke-width="0.15">1.537961</text>
<rect x="8" y="532.02" width="504.5" height="17.52" fill="#dde5ee"/>
<rect x="8" y="531.62" width="504.5" height="0.8" fill="#fff" fill-opacity="0.45"/>
<text x="12.5" y="545.12" font-size="10" text-anchor="start" fill="#141414" textLength="31.55" lengthAdjust="spacingAndGlyphs" stroke="#141414" stroke-width="0.15">P70302</text>
<text x="68.3" y="545.12" font-size="10" text-anchor="start" fill="#141414" textLength="128.05" lengthAdjust="spacingAndGlyphs" stroke="#141414" stroke-width="0.15">Stromal interaction molecule 1</text>
<text x="321.3" y="545.12" font-size="10" text-anchor="middle" fill="#141414" textLength="22.24" lengthAdjust="spacingAndGlyphs" stroke="#141414" stroke-width="0.15">Stim1</text>
<text x="371.0" y="545.12" font-size="10" text-anchor="middle" fill="#141414" textLength="15.52" lengthAdjust="spacingAndGlyphs" stroke="#141414" stroke-width="0.15">521</text>
<text x="420.2" y="545.12" font-size="10" text-anchor="middle" fill="#141414" textLength="6.34" lengthAdjust="spacingAndGlyphs" stroke="#141414" stroke-width="0.15">S</text>
<text x="478.3" y="545.12" font-size="10" text-anchor="middle" fill="#141414" textLength="38.79" lengthAdjust="spacingAndGlyphs" stroke="#141414" stroke-width="0.15">1.248478</text>
<rect x="8" y="549.54" width="504.5" height="17.52" fill="#aac0d5"/>
<rect x="8" y="549.14" width="504.5" height="0.8" fill="#fff" fill-opacity="0.45"/>
<text x="12.5" y="562.64" font-size="10" text-anchor="start" fill="#141414" textLength="34.58" lengthAdjust="spacingAndGlyphs" stroke="#141414" stroke-width="0.15">Q9JM52</text>
<text x="68.3" y="562.64" font-size="10" text-anchor="start" fill="#141414" textLength="101.6" lengthAdjust="spacingAndGlyphs" stroke="#141414" stroke-width="0.15">Misshapen-like kinase 1</text>
<text x="321.3" y="562.64" font-size="10" text-anchor="middle" fill="#141414" textLength="23.21" lengthAdjust="spacingAndGlyphs" stroke="#141414" stroke-width="0.15">Mink1</text>
<text x="371.0" y="562.64" font-size="10" text-anchor="middle" fill="#141414" textLength="15.52" lengthAdjust="spacingAndGlyphs" stroke="#141414" stroke-width="0.15">740</text>
<text x="420.2" y="562.64" font-size="10" text-anchor="middle" fill="#141414" textLength="6.34" lengthAdjust="spacingAndGlyphs" stroke="#141414" stroke-width="0.15">S</text>
<text x="478.3" y="562.64" font-size="10" text-anchor="middle" fill="#141414" textLength="38.79" lengthAdjust="spacingAndGlyphs" stroke="#141414" stroke-width="0.15">1.212392</text>
<rect x="8" y="567.06" width="504.5" height="17.52" fill="#dde5ee"/>
<rect x="8" y="566.66" width="504.5" height="0.8" fill="#fff" fill-opacity="0.45"/>
<text x="12.5" y="580.16" font-size="10" text-anchor="start" fill="#141414" textLength="31.55" lengthAdjust="spacingAndGlyphs" stroke="#141414" stroke-width="0.15">P52734</text>
<text x="68.3" y="580.16" font-size="10" text-anchor="start" fill="#141414" textLength="221.73" lengthAdjust="spacingAndGlyphs" stroke="#141414" stroke-width="0.15">FYVE, RhoGEF and PH domain-containing protein 1</text>
<text x="321.3" y="580.16" font-size="10" text-anchor="middle" fill="#141414" textLength="19.83" lengthAdjust="spacingAndGlyphs" stroke="#141414" stroke-width="0.15">Fgd1</text>
<text x="371.0" y="580.16" font-size="10" text-anchor="middle" fill="#141414" textLength="10.34" lengthAdjust="spacingAndGlyphs" stroke="#141414" stroke-width="0.15">98</text>
<text x="420.2" y="580.16" font-size="10" text-anchor="middle" fill="#141414" textLength="6.34" lengthAdjust="spacingAndGlyphs" stroke="#141414" stroke-width="0.15">S</text>
<text x="478.3" y="580.16" font-size="10" text-anchor="middle" fill="#141414" textLength="38.79" lengthAdjust="spacingAndGlyphs" stroke="#141414" stroke-width="0.15">1.200392</text>
<rect x="58.3" y="399.3" width="1.5" height="185.28" fill="#fff"/>
<rect x="297" y="399.3" width="1.5" height="185.28" fill="#fff"/>
<rect x="344" y="399.3" width="1.5" height="185.28" fill="#fff"/>
<rect x="396.5" y="399.3" width="1.5" height="185.28" fill="#fff"/>
<rect x="442.5" y="399.3" width="1.5" height="185.28" fill="#fff"/>
<text x="31.3" y="416.2" font-size="10" text-anchor="middle" fill="#ffffff" textLength="29.78" lengthAdjust="spacingAndGlyphs">Protein</text>
<text x="178.4" y="416.2" font-size="10" text-anchor="middle" fill="#ffffff" textLength="55.91" lengthAdjust="spacingAndGlyphs">Protein name</text>
<text x="321.3" y="410.7" font-size="10" text-anchor="middle" fill="#ffffff" textLength="23.0" lengthAdjust="spacingAndGlyphs">Gene</text>
<text x="321.3" y="421.3" font-size="10" text-anchor="middle" fill="#ffffff" textLength="23.51" lengthAdjust="spacingAndGlyphs">name</text>
<text x="371.1" y="416.2" font-size="10" text-anchor="middle" fill="#ffffff" textLength="33.44" lengthAdjust="spacingAndGlyphs">Position</text>
<text x="420.2" y="410.7" font-size="10" text-anchor="middle" fill="#ffffff" textLength="26.65" lengthAdjust="spacingAndGlyphs">Amino</text>
<text x="420.2" y="421.3" font-size="10" text-anchor="middle" fill="#ffffff" textLength="17.24" lengthAdjust="spacingAndGlyphs">acid</text>
<text x="478.3" y="416.2" font-size="10" text-anchor="middle" fill="#ffffff" textLength="51.74" lengthAdjust="spacingAndGlyphs">Fold change</text>
<text x="7.0" y="14.8" font-size="11.2" text-anchor="start" font-weight="bold" fill="#000" textLength="8.2" lengthAdjust="spacingAndGlyphs">A</text>
<text x="7.6" y="146.3" font-size="11.2" text-anchor="start" font-weight="bold" fill="#000" textLength="6.8" lengthAdjust="spacingAndGlyphs">B</text>
<text x="329.8" y="15.9" font-size="11.2" text-anchor="start" font-weight="bold" fill="#000" textLength="8.4" lengthAdjust="spacingAndGlyphs">C</text>
<text x="7.6" y="395.8" font-size="11.2" text-anchor="start" font-weight="bold" fill="#000" textLength="7.8" lengthAdjust="spacingAndGlyphs">D</text>
<rect x="0.5" y="0.5" width="519" height="591" fill="none" stroke="#000" stroke-width="1"/>
</svg></body></html>
